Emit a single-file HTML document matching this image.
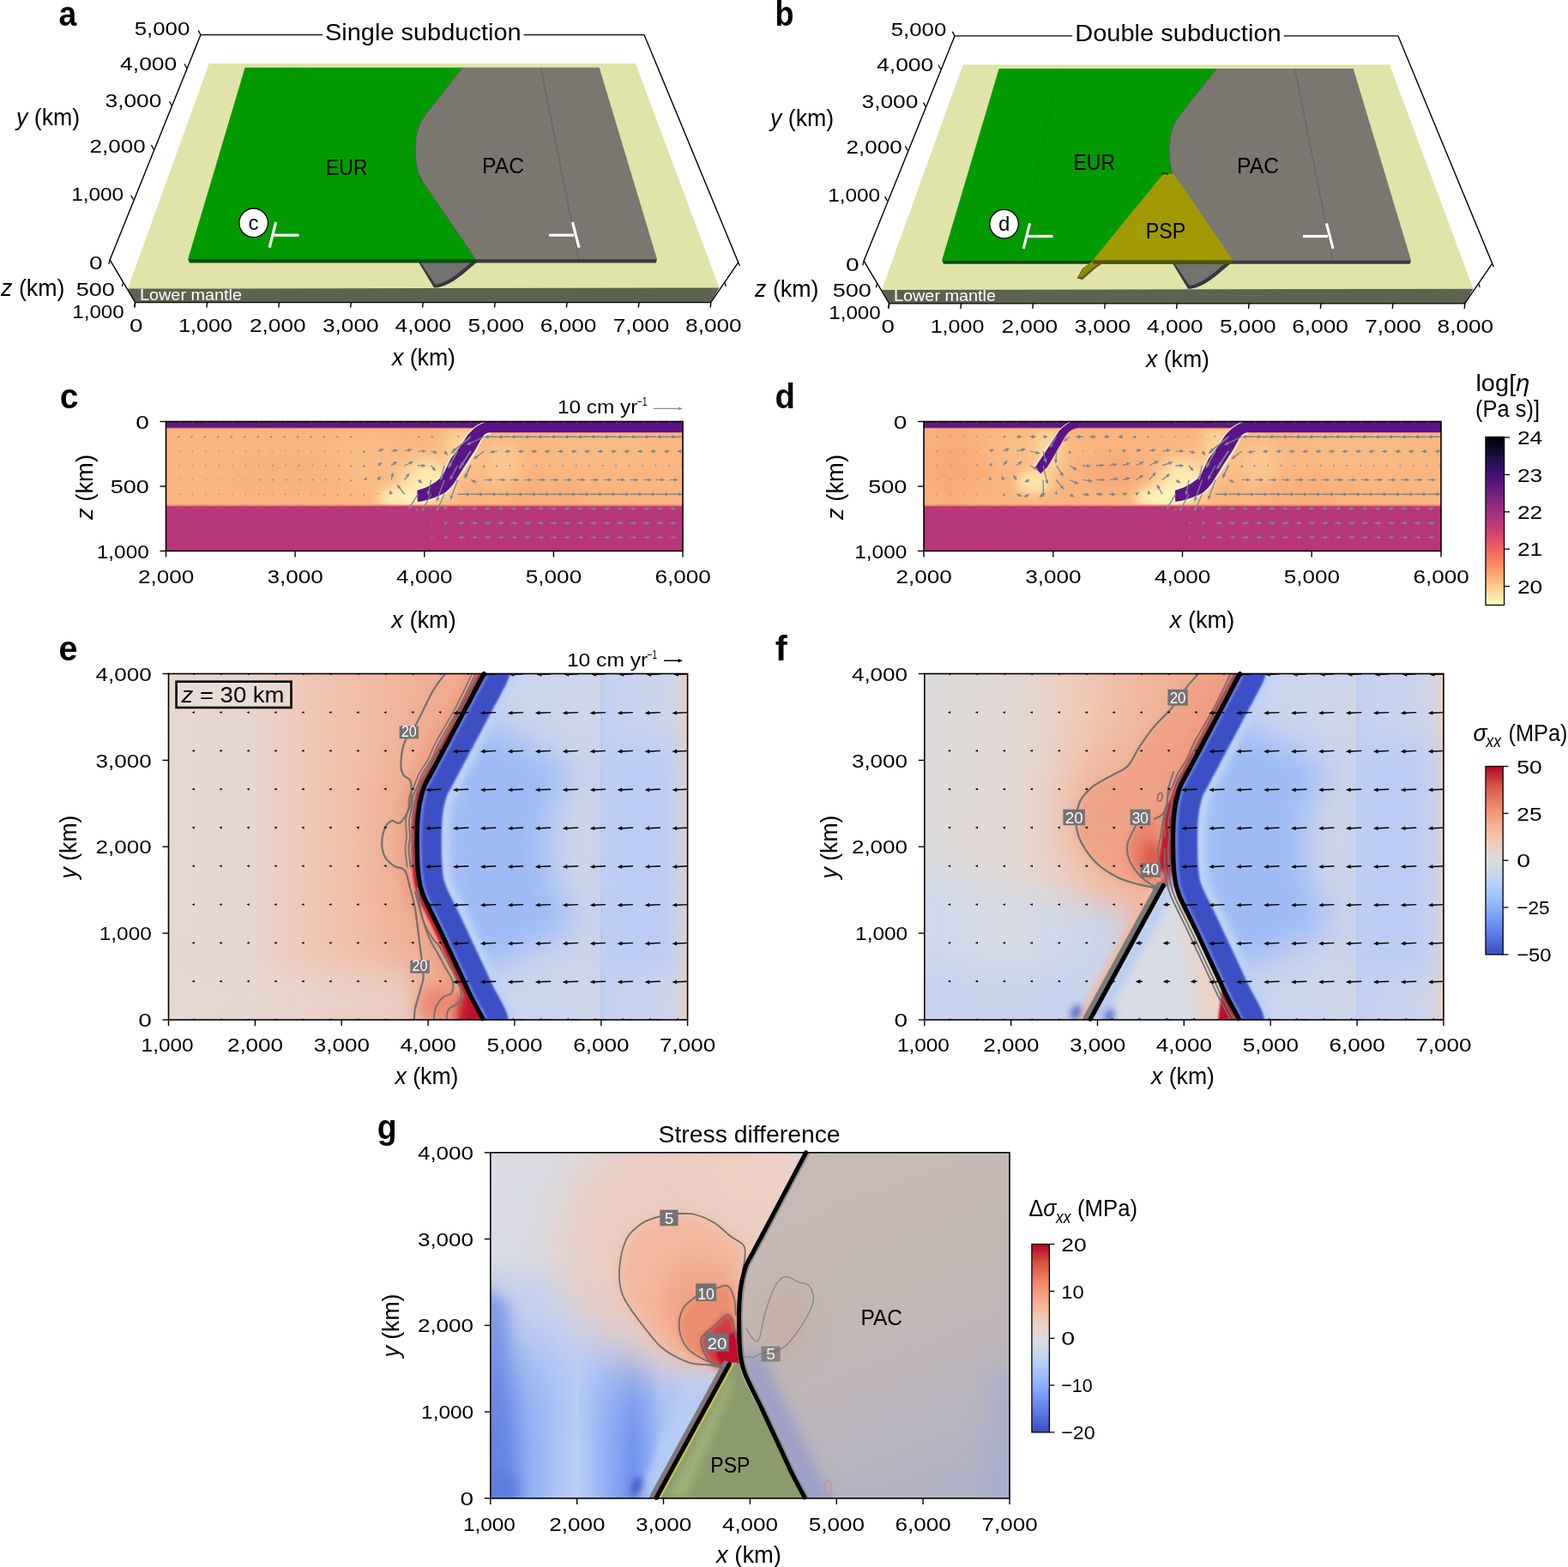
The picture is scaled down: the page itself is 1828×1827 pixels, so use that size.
<!DOCTYPE html>
<html><head><meta charset="utf-8"><title>Subduction figure</title>
<style>html,body{margin:0;padding:0;background:#fff;}svg{display:block;}text{font-family:'Liberation Sans', sans-serif;}</style>
</head><body>
<svg width="1828" height="1827" viewBox="0 0 1828 1827">
<defs>
<filter id="bl2" filterUnits="userSpaceOnUse" x="-100" y="-100" width="2028" height="2027"><feGaussianBlur stdDeviation="2"/></filter>
<filter id="bl3" filterUnits="userSpaceOnUse" x="-100" y="-100" width="2028" height="2027"><feGaussianBlur stdDeviation="3"/></filter>
<filter id="bl6" filterUnits="userSpaceOnUse" x="-100" y="-100" width="2028" height="2027"><feGaussianBlur stdDeviation="6"/></filter>
<filter id="bl10" filterUnits="userSpaceOnUse" x="-100" y="-100" width="2028" height="2027"><feGaussianBlur stdDeviation="10"/></filter>
<filter id="bl1" filterUnits="userSpaceOnUse" x="-100" y="-100" width="2028" height="2027"><feGaussianBlur stdDeviation="1"/></filter>
<filter id="bl16" filterUnits="userSpaceOnUse" x="-100" y="-100" width="2028" height="2027"><feGaussianBlur stdDeviation="16"/></filter>
<clipPath id="clipc"><rect x="193.5" y="491.5" width="602.5" height="150.89999999999998"/></clipPath>
<clipPath id="clipd"><rect x="1077.0" y="491.5" width="603.0" height="150.89999999999998"/></clipPath>
<linearGradient id="magma" x1="0" y1="1" x2="0" y2="0"><stop offset="0" stop-color="#fcfdbf"/><stop offset="0.05" stop-color="#fde7a9"/><stop offset="0.1" stop-color="#fecf92"/><stop offset="0.15" stop-color="#feb77e"/><stop offset="0.2" stop-color="#fe9f6d"/><stop offset="0.3" stop-color="#f7705c"/><stop offset="0.4" stop-color="#de4968"/><stop offset="0.45" stop-color="#ca3e72"/><stop offset="0.5" stop-color="#b73779"/><stop offset="0.6" stop-color="#8c2981"/><stop offset="0.65" stop-color="#782281"/><stop offset="0.7" stop-color="#641a80"/><stop offset="0.75" stop-color="#51127c"/><stop offset="0.8" stop-color="#3b0f70"/><stop offset="0.9" stop-color="#140e36"/><stop offset="1.0" stop-color="#000004"/></linearGradient>
<filter id="bl0" filterUnits="userSpaceOnUse" x="-100" y="-100" width="2028" height="2027"><feGaussianBlur stdDeviation="0.8"/></filter>
<filter id="bl4" filterUnits="userSpaceOnUse" x="-100" y="-100" width="2028" height="2027"><feGaussianBlur stdDeviation="4"/></filter>
<filter id="bl8" filterUnits="userSpaceOnUse" x="-100" y="-100" width="2028" height="2027"><feGaussianBlur stdDeviation="8"/></filter>
<filter id="bl14" filterUnits="userSpaceOnUse" x="-100" y="-100" width="2028" height="2027"><feGaussianBlur stdDeviation="14"/></filter>
<filter id="bl18" filterUnits="userSpaceOnUse" x="-100" y="-100" width="2028" height="2027"><feGaussianBlur stdDeviation="18"/></filter>
<filter id="bl24" filterUnits="userSpaceOnUse" x="-100" y="-100" width="2028" height="2027"><feGaussianBlur stdDeviation="24"/></filter>
<linearGradient id="gER" gradientUnits="userSpaceOnUse" x1="480" y1="0" x2="805" y2="0"><stop offset="0.0000" stop-color="#ccd6ee"/><stop offset="0.2462" stop-color="#cad5ee"/><stop offset="0.5231" stop-color="#ccd6ec"/><stop offset="0.6662" stop-color="#cfd6e8"/><stop offset="0.6754" stop-color="#d4d7e4"/><stop offset="0.6785" stop-color="#b8cbf4"/><stop offset="0.6862" stop-color="#c2d0f0"/><stop offset="0.7385" stop-color="#c6d3ef"/><stop offset="0.8923" stop-color="#cbd4ec"/><stop offset="0.9538" stop-color="#d2d5e4"/><stop offset="0.9754" stop-color="#e2d2cc"/><stop offset="0.9908" stop-color="#eccec2"/></linearGradient>
<linearGradient id="gFR" gradientUnits="userSpaceOnUse" x1="1361.3" y1="0" x2="1686.3" y2="0"><stop offset="0.0000" stop-color="#ccd6ee"/><stop offset="0.2462" stop-color="#cad5ee"/><stop offset="0.5231" stop-color="#ccd6ec"/><stop offset="0.6662" stop-color="#cfd6e8"/><stop offset="0.6754" stop-color="#d4d7e4"/><stop offset="0.6785" stop-color="#b8cbf4"/><stop offset="0.6862" stop-color="#c2d0f0"/><stop offset="0.7385" stop-color="#c6d3ef"/><stop offset="0.8923" stop-color="#cbd4ec"/><stop offset="0.9538" stop-color="#d2d5e4"/><stop offset="0.9754" stop-color="#e2d2cc"/><stop offset="0.9908" stop-color="#eccec2"/></linearGradient>
<linearGradient id="gEL" gradientUnits="userSpaceOnUse" x1="196.5" y1="0" x2="500" y2="0"><stop offset="0.0000" stop-color="#e6d8d2"/><stop offset="0.2092" stop-color="#e7d6cf"/><stop offset="0.3213" stop-color="#e6d6d0"/><stop offset="0.3311" stop-color="#e2d9d6"/><stop offset="0.3410" stop-color="#e8d4cb"/><stop offset="0.4728" stop-color="#edcbbc"/><stop offset="0.6376" stop-color="#f0c2ae"/><stop offset="0.7694" stop-color="#f1bba5"/><stop offset="0.9012" stop-color="#f1b49d"/><stop offset="1.0000" stop-color="#f0ae95"/></linearGradient>
<clipPath id="clipe"><rect x="196.5" y="785.5" width="605.1" height="403.5"/></clipPath>
<clipPath id="eR"><path d="M566.0,780.0 C565.7,780.9 568.0,778.0 564.2,785.5 C560.4,793.0 550.3,811.8 543.3,825.0 C536.3,838.2 527.4,855.0 522.1,865.0 C516.8,875.0 514.7,879.0 511.5,885.0 C508.3,891.0 505.8,895.8 503.0,901.0 C500.2,906.2 497.0,911.3 495.0,916.0 C493.0,920.7 492.1,924.8 491.0,929.0 C489.9,933.2 489.2,936.3 488.5,941.0 C487.8,945.7 487.2,951.3 486.8,957.0 C486.4,962.7 486.3,969.5 486.2,975.0 C486.1,980.5 486.2,984.0 486.3,990.0 C486.4,996.0 486.5,1004.2 487.0,1011.0 C487.5,1017.8 488.4,1025.5 489.5,1031.0 C490.6,1036.5 491.9,1039.8 493.5,1044.0 C495.1,1048.2 495.8,1049.6 498.9,1056.0 C502.0,1062.4 507.8,1073.8 512.0,1082.6 C516.2,1091.4 520.2,1100.0 524.3,1108.8 C528.4,1117.5 532.5,1126.3 536.6,1135.1 C540.7,1143.9 544.4,1152.6 548.8,1161.4 C553.2,1170.2 560.2,1182.1 562.8,1187.7 C565.4,1193.3 564.2,1193.8 564.5,1195.0 L806.6,1195 L806.6,780 Z"/></clipPath>
<clipPath id="eL"><path d="M566.0,780.0 C565.7,780.9 568.0,778.0 564.2,785.5 C560.4,793.0 550.3,811.8 543.3,825.0 C536.3,838.2 527.4,855.0 522.1,865.0 C516.8,875.0 514.7,879.0 511.5,885.0 C508.3,891.0 505.8,895.8 503.0,901.0 C500.2,906.2 497.0,911.3 495.0,916.0 C493.0,920.7 492.1,924.8 491.0,929.0 C489.9,933.2 489.2,936.3 488.5,941.0 C487.8,945.7 487.2,951.3 486.8,957.0 C486.4,962.7 486.3,969.5 486.2,975.0 C486.1,980.5 486.2,984.0 486.3,990.0 C486.4,996.0 486.5,1004.2 487.0,1011.0 C487.5,1017.8 488.4,1025.5 489.5,1031.0 C490.6,1036.5 491.9,1039.8 493.5,1044.0 C495.1,1048.2 495.8,1049.6 498.9,1056.0 C502.0,1062.4 507.8,1073.8 512.0,1082.6 C516.2,1091.4 520.2,1100.0 524.3,1108.8 C528.4,1117.5 532.5,1126.3 536.6,1135.1 C540.7,1143.9 544.4,1152.6 548.8,1161.4 C553.2,1170.2 560.2,1182.1 562.8,1187.7 C565.4,1193.3 564.2,1193.8 564.5,1195.0 L191.5,1195 L191.5,780 Z"/></clipPath>
<clipPath id="clipf"><rect x="1077.8" y="785.5" width="605.1000000000001" height="403.5"/></clipPath>
<clipPath id="fR"><path d="M1447.3,780.0 C1447.0,780.9 1449.3,778.0 1445.5,785.5 C1441.7,793.0 1431.6,811.8 1424.6,825.0 C1417.6,838.2 1408.7,855.0 1403.4,865.0 C1398.1,875.0 1396.0,879.0 1392.8,885.0 C1389.6,891.0 1387.0,895.8 1384.3,901.0 C1381.5,906.2 1378.3,911.3 1376.3,916.0 C1374.3,920.7 1373.4,924.8 1372.3,929.0 C1371.2,933.2 1370.5,936.3 1369.8,941.0 C1369.1,945.7 1368.5,951.3 1368.1,957.0 C1367.7,962.7 1367.6,969.5 1367.5,975.0 C1367.4,980.5 1367.5,984.0 1367.6,990.0 C1367.7,996.0 1367.8,1004.2 1368.3,1011.0 C1368.8,1017.8 1369.7,1025.5 1370.8,1031.0 C1371.9,1036.5 1373.2,1039.8 1374.8,1044.0 C1376.4,1048.2 1377.1,1049.6 1380.2,1056.0 C1383.3,1062.4 1389.1,1073.8 1393.3,1082.6 C1397.5,1091.4 1401.5,1100.0 1405.6,1108.8 C1409.7,1117.5 1413.8,1126.3 1417.9,1135.1 C1422.0,1143.9 1425.7,1152.6 1430.1,1161.4 C1434.5,1170.2 1441.5,1182.1 1444.1,1187.7 C1446.7,1193.3 1445.5,1193.8 1445.8,1195.0 L1687.9,1195 L1687.9,780 Z"/></clipPath>
<clipPath id="fL"><path d="M1447.3,780.0 C1447.0,780.9 1449.3,778.0 1445.5,785.5 C1441.7,793.0 1431.6,811.8 1424.6,825.0 C1417.6,838.2 1408.7,855.0 1403.4,865.0 C1398.1,875.0 1396.0,879.0 1392.8,885.0 C1389.6,891.0 1387.0,895.8 1384.3,901.0 C1381.5,906.2 1378.3,911.3 1376.3,916.0 C1374.3,920.7 1373.4,924.8 1372.3,929.0 C1371.2,933.2 1370.5,936.3 1369.8,941.0 C1369.1,945.7 1368.5,951.3 1368.1,957.0 C1367.7,962.7 1367.6,969.5 1367.5,975.0 C1367.4,980.5 1367.5,984.0 1367.6,990.0 C1367.7,996.0 1367.8,1004.2 1368.3,1011.0 C1368.8,1017.8 1369.7,1025.5 1370.8,1031.0 C1371.9,1036.5 1373.2,1039.8 1374.8,1044.0 C1376.4,1048.2 1377.1,1049.6 1380.2,1056.0 C1383.3,1062.4 1389.1,1073.8 1393.3,1082.6 C1397.5,1091.4 1401.5,1100.0 1405.6,1108.8 C1409.7,1117.5 1413.8,1126.3 1417.9,1135.1 C1422.0,1143.9 1425.7,1152.6 1430.1,1161.4 C1434.5,1170.2 1441.5,1182.1 1444.1,1187.7 C1446.7,1193.3 1445.5,1193.8 1445.8,1195.0 L1072.8,1195 L1072.8,780 Z"/></clipPath>
<linearGradient id="gFL" gradientUnits="userSpaceOnUse" x1="1077.8" y1="0" x2="1380" y2="0"><stop offset="0.0000" stop-color="#dcdadb"/><stop offset="0.1066" stop-color="#dedad8"/><stop offset="0.3382" stop-color="#e2d8d3"/><stop offset="0.4705" stop-color="#e8d2c8"/><stop offset="0.6029" stop-color="#eecab8"/><stop offset="0.7353" stop-color="#f0bea8"/><stop offset="0.8676" stop-color="#f0b59c"/><stop offset="1.0000" stop-color="#efad94"/></linearGradient>
<linearGradient id="gFLb" gradientUnits="userSpaceOnUse" x1="1077.8" y1="0" x2="1300" y2="0"><stop offset="0.0000" stop-color="#cfd8ec"/><stop offset="0.2349" stop-color="#d4dae8"/><stop offset="0.4599" stop-color="#d8dbe4"/><stop offset="0.6850" stop-color="#d0d8ea"/><stop offset="1.0000" stop-color="#c8d4ee"/></linearGradient>
<linearGradient id="cw" x1="0" y1="1" x2="0" y2="0"><stop offset="0.0" stop-color="#3b4cc0"/><stop offset="0.1" stop-color="#5977e3"/><stop offset="0.2" stop-color="#7b9ff9"/><stop offset="0.3" stop-color="#9ebeff"/><stop offset="0.4" stop-color="#c0d4f5"/><stop offset="0.5" stop-color="#dddcdc"/><stop offset="0.6" stop-color="#f2cbb7"/><stop offset="0.7" stop-color="#f7ac8e"/><stop offset="0.8" stop-color="#ee8468"/><stop offset="0.9" stop-color="#d65244"/><stop offset="1.0" stop-color="#b40426"/></linearGradient>
<clipPath id="clipg"><rect x="571.8" y="1343.8" width="605.2" height="403.10000000000014"/></clipPath>
<clipPath id="gR"><path d="M941.3,1338.3 C941.0,1339.2 943.3,1336.3 939.5,1343.8 C935.7,1351.3 925.6,1370.0 918.6,1383.3 C911.6,1396.5 902.7,1413.3 897.4,1423.3 C892.1,1433.3 890.0,1437.3 886.8,1443.3 C883.6,1449.3 881.0,1454.1 878.3,1459.3 C875.5,1464.5 872.3,1469.6 870.3,1474.3 C868.3,1479.0 867.4,1483.1 866.3,1487.3 C865.2,1491.5 864.5,1494.6 863.8,1499.3 C863.1,1504.0 862.5,1509.6 862.1,1515.3 C861.7,1521.0 861.6,1527.8 861.5,1533.3 C861.4,1538.8 861.5,1542.3 861.6,1548.3 C861.7,1554.3 861.8,1562.5 862.3,1569.3 C862.8,1576.1 863.7,1583.8 864.8,1589.3 C865.9,1594.8 867.2,1598.1 868.8,1602.3 C870.4,1606.5 871.1,1607.9 874.2,1614.3 C877.3,1620.7 883.1,1632.1 887.3,1640.9 C891.5,1649.7 895.5,1658.3 899.6,1667.1 C903.7,1675.8 907.8,1684.6 911.9,1693.4 C916.0,1702.2 919.7,1710.9 924.1,1719.7 C928.5,1728.5 935.5,1740.4 938.1,1746.0 C940.7,1751.6 939.5,1752.1 939.8,1753.3 L1182.0,1753.3 L1182.0,1338.3 Z"/></clipPath>
<clipPath id="gL"><path d="M941.3,1338.3 C941.0,1339.2 943.3,1336.3 939.5,1343.8 C935.7,1351.3 925.6,1370.0 918.6,1383.3 C911.6,1396.5 902.7,1413.3 897.4,1423.3 C892.1,1433.3 890.0,1437.3 886.8,1443.3 C883.6,1449.3 881.0,1454.1 878.3,1459.3 C875.5,1464.5 872.3,1469.6 870.3,1474.3 C868.3,1479.0 867.4,1483.1 866.3,1487.3 C865.2,1491.5 864.5,1494.6 863.8,1499.3 C863.1,1504.0 862.5,1509.6 862.1,1515.3 C861.7,1521.0 861.6,1527.8 861.5,1533.3 C861.4,1538.8 861.5,1542.3 861.6,1548.3 C861.7,1554.3 861.8,1562.5 862.3,1569.3 C862.8,1576.1 863.7,1583.8 864.8,1589.3 C865.9,1594.8 867.2,1598.1 868.8,1602.3 C870.4,1606.5 871.1,1607.9 874.2,1614.3 C877.3,1620.7 883.1,1632.1 887.3,1640.9 C891.5,1649.7 895.5,1658.3 899.6,1667.1 C903.7,1675.8 907.8,1684.6 911.9,1693.4 C916.0,1702.2 919.7,1710.9 924.1,1719.7 C928.5,1728.5 935.5,1740.4 938.1,1746.0 C940.7,1751.6 939.5,1752.1 939.8,1753.3 L566.8,1753.3 L566.8,1338.3 Z"/></clipPath>
<linearGradient id="gGv" gradientUnits="userSpaceOnUse" x1="0" y1="1343.8" x2="0" y2="1746.9"><stop offset="0.0000" stop-color="#d9dce6"/><stop offset="0.2387" stop-color="#d8dbe6"/><stop offset="0.4619" stop-color="#ccd6ee"/><stop offset="0.6356" stop-color="#b4c8f4"/><stop offset="0.8340" stop-color="#98b2f2"/><stop offset="1.0000" stop-color="#8aa6f0"/></linearGradient>
<linearGradient id="gGh" gradientUnits="userSpaceOnUse" x1="571.8" y1="0" x2="900" y2="0"><stop offset="0.0000" stop-color="#ffffff"/><stop offset="0.1469" stop-color="#ffffff"/><stop offset="0.2078" stop-color="#000000"/><stop offset="0.3906" stop-color="#000000"/><stop offset="1.0000" stop-color="#000000"/></linearGradient>
<linearGradient id="gPAC" gradientUnits="userSpaceOnUse" x1="900" y1="1344" x2="1060" y2="1760"><stop offset="0" stop-color="#c8bab5"/><stop offset="0.45" stop-color="#c4b8b4"/><stop offset="0.8" stop-color="#bab6c0"/><stop offset="1" stop-color="#b0b2c6"/></linearGradient>
<linearGradient id="gGbh" gradientUnits="userSpaceOnUse" x1="571.8" y1="0" x2="800" y2="0"><stop offset="0.0000" stop-color="#5270da"/><stop offset="0.0885" stop-color="#6c8ce8"/><stop offset="0.2112" stop-color="#95b0f4"/><stop offset="0.3427" stop-color="#aec4f6"/><stop offset="0.4391" stop-color="#bccff4"/><stop offset="0.5180" stop-color="#a8c0f6"/><stop offset="0.6275" stop-color="#8aa6f2"/><stop offset="0.7283" stop-color="#7090ec"/><stop offset="0.8028" stop-color="#86a4f0"/><stop offset="0.8685" stop-color="#a8c0f4"/><stop offset="1.0000" stop-color="#b8ccf4"/></linearGradient>
<linearGradient id="gGfade" gradientUnits="userSpaceOnUse" x1="0" y1="1470" x2="0" y2="1747"><stop offset="0.0000" stop-color="#000000"/><stop offset="0.3249" stop-color="#444444"/><stop offset="0.5415" stop-color="#a0a0a0"/><stop offset="0.7581" stop-color="#e6e6e6"/><stop offset="1.0000" stop-color="#ffffff"/></linearGradient>
<mask id="mGb" maskUnits="userSpaceOnUse" x="560" y="1400" width="300" height="360"><rect x="560" y="1400" width="300" height="360" fill="url(#gGfade)"/></mask>
</defs>
<rect width="1828" height="1827" fill="#fff"/>
<polygon points="243.7,74.1 741.0,74.1 838.5,335.4 148.9,336.8" fill="#e0e4a9"/>
<polygon points="148.9,336.6 838.5,335.4 828.7,352.6 157.6,352.6" fill="#5c6350"/>
<path d="M487.5,305.0 L557.0,305.0 C548.0,312.0 538.0,322.0 528.0,328.0 C520.0,333.0 512.0,335.5 506.0,335.5 Z" fill="#37373d"/>
<path d="M490.0,305.5 L550.0,305.5 C542.0,312.0 533.0,320.0 524.0,325.5 C517.0,329.5 511.0,331.5 507.5,331.8 Z" fill="#727270"/>
<polygon points="219.1,302.0 556.0,302.0 556.0,306.4 221.0,306.4" fill="#0b4f0b"/>
<polygon points="554.0,302.0 766.0,302.0 764.7,306.4 556.0,306.4" fill="#3a3a40"/>
<polygon points="285.6,78.8 539.4,78.8 495.6,134.3 489.4,144.0 485.4,158.0 484.2,172.0 484.6,186.3 487.4,200.7 493.0,211.8 497.0,217.8 554.5,302.2 219.1,302.2" fill="#029a02"/>
<polygon points="539.4,78.8 698.7,78.8 766.0,302.2 554.5,302.2 497.0,217.8 493.0,211.8 487.4,200.7 484.6,186.3 484.2,172.0 485.4,158.0 489.4,144.0 495.6,134.3 539.4,78.8" fill="#7a7771"/>
<path d="M539.4,78.8 L495.6,134.3 L489.4,144.0 L485.4,158.0 L484.2,172.0 L484.6,186.3 L487.4,200.7 L493.0,211.8 L497.0,217.8 L554.5,302.2" fill="none" stroke="#4d4c48" stroke-width="0.8"/>
<line x1="354.6" y1="78.8" x2="309.8" y2="302.0" stroke="#07880a" stroke-width="0.6"/>
<line x1="630.5" y1="78.8" x2="675.0" y2="302.0" stroke="#5f5c58" stroke-width="0.8"/>
<line x1="321.6" y1="259.0" x2="314.2" y2="288.6" stroke="#fff" stroke-width="3.2"/>
<line x1="319.5" y1="274.2" x2="348.5" y2="274.2" stroke="#fff" stroke-width="3.2"/>
<line x1="640.0" y1="274.2" x2="669.0" y2="274.2" stroke="#fff" stroke-width="3.2"/>
<line x1="667.4" y1="259.0" x2="675.0" y2="288.6" stroke="#fff" stroke-width="3.2"/>
<circle cx="295.6" cy="259.8" r="16.8" fill="#fff" stroke="#000" stroke-width="1.3"/>
<text x="295.6" y="268.0" font-size="24" text-anchor="middle">c</text>
<text x="380.0" y="204.2" font-size="25" textLength="48.5" lengthAdjust="spacingAndGlyphs">EUR</text>
<text x="562.0" y="202.2" font-size="25" textLength="49.0" lengthAdjust="spacingAndGlyphs">PAC</text>
<line x1="234.0" y1="40.6" x2="376.0" y2="40.6" stroke="#000" stroke-width="1.4"/>
<line x1="610.6" y1="40.6" x2="751.0" y2="40.6" stroke="#000" stroke-width="1.4"/>
<path d="M751.0,40.6 L860.7,305.9 L828.7,352.6 L157.6,352.6 L128.1,302.9 L234.0,40.6" fill="none" stroke="#000" stroke-width="1.4" stroke-linejoin="miter"/>
<line x1="157.6" y1="352.6" x2="157.0" y2="358.6" stroke="#000" stroke-width="1.4"/>
<line x1="241.5" y1="352.6" x2="240.9" y2="358.6" stroke="#000" stroke-width="1.4"/>
<line x1="325.4" y1="352.6" x2="324.8" y2="358.6" stroke="#000" stroke-width="1.4"/>
<line x1="409.3" y1="352.6" x2="408.7" y2="358.6" stroke="#000" stroke-width="1.4"/>
<line x1="493.2" y1="352.6" x2="492.6" y2="358.6" stroke="#000" stroke-width="1.4"/>
<line x1="577.1" y1="352.6" x2="576.5" y2="358.6" stroke="#000" stroke-width="1.4"/>
<line x1="661.0" y1="352.6" x2="660.4" y2="358.6" stroke="#000" stroke-width="1.4"/>
<line x1="744.9" y1="352.6" x2="744.3" y2="358.6" stroke="#000" stroke-width="1.4"/>
<line x1="828.8" y1="352.6" x2="828.2" y2="358.6" stroke="#000" stroke-width="1.4"/>
<line x1="234.0" y1="40.6" x2="231.2" y2="35.6" stroke="#000" stroke-width="1.3"/>
<line x1="217.8" y1="79.5" x2="215.0" y2="74.5" stroke="#000" stroke-width="1.3"/>
<line x1="200.3" y1="123.3" x2="197.5" y2="118.3" stroke="#000" stroke-width="1.3"/>
<line x1="179.2" y1="174.1" x2="176.4" y2="169.1" stroke="#000" stroke-width="1.3"/>
<line x1="155.4" y1="232.8" x2="152.6" y2="227.8" stroke="#000" stroke-width="1.3"/>
<line x1="128.1" y1="302.9" x2="126.8" y2="308.0" stroke="#000" stroke-width="1.3"/>
<line x1="143.9" y1="329.0" x2="142.3" y2="334.0" stroke="#000" stroke-width="1.3"/>
<line x1="157.6" y1="352.6" x2="156.4" y2="357.8" stroke="#000" stroke-width="1.3"/>
<line x1="860.7" y1="305.9" x2="862.5" y2="310.0" stroke="#000" stroke-width="1.3"/>
<line x1="844.7" y1="329.3" x2="846.3" y2="333.8" stroke="#000" stroke-width="1.3"/>
<text x="379.0" y="46.8" font-size="27" textLength="228.6" lengthAdjust="spacingAndGlyphs">Single subduction</text>
<text x="156.7" y="41.0" font-size="22.6" textLength="64.6" lengthAdjust="spacingAndGlyphs">5,000</text>
<text x="140.1" y="81.7" font-size="22.6" textLength="66.2" lengthAdjust="spacingAndGlyphs">4,000</text>
<text x="122.5" y="124.6" font-size="22.6" textLength="65.9" lengthAdjust="spacingAndGlyphs">3,000</text>
<text x="104.6" y="177.6" font-size="22.6" textLength="65.0" lengthAdjust="spacingAndGlyphs">2,000</text>
<text x="83.2" y="234.0" font-size="22.6" textLength="61.0" lengthAdjust="spacingAndGlyphs">1,000</text>
<text x="103.9" y="314.4" font-size="22.6" textLength="15.6" lengthAdjust="spacingAndGlyphs">0</text>
<text x="88.7" y="344.5" font-size="22.6" textLength="45.1" lengthAdjust="spacingAndGlyphs">500</text>
<text x="84.3" y="370.8" font-size="22.6" textLength="60.4" lengthAdjust="spacingAndGlyphs">1,000</text>
<text x="151.1" y="386.8" font-size="22.6" textLength="15.4" lengthAdjust="spacingAndGlyphs">0</text>
<text x="208.2" y="386.8" font-size="22.6" textLength="62.7" lengthAdjust="spacingAndGlyphs">1,000</text>
<text x="291.0" y="386.8" font-size="22.6" textLength="65.6" lengthAdjust="spacingAndGlyphs">2,000</text>
<text x="376.0" y="386.8" font-size="22.6" textLength="65.6" lengthAdjust="spacingAndGlyphs">3,000</text>
<text x="460.6" y="386.8" font-size="22.6" textLength="65.6" lengthAdjust="spacingAndGlyphs">4,000</text>
<text x="545.5" y="386.8" font-size="22.6" textLength="65.6" lengthAdjust="spacingAndGlyphs">5,000</text>
<text x="629.8" y="386.8" font-size="22.6" textLength="65.6" lengthAdjust="spacingAndGlyphs">6,000</text>
<text x="714.8" y="386.8" font-size="22.6" textLength="65.6" lengthAdjust="spacingAndGlyphs">7,000</text>
<text x="799.1" y="386.8" font-size="22.6" textLength="65.6" lengthAdjust="spacingAndGlyphs">8,000</text>
<text x="19.0" y="145.6" font-size="27.5" textLength="74.2" lengthAdjust="spacingAndGlyphs"><tspan font-style="italic">y</tspan> (km)</text>
<text x="1.1" y="344.8" font-size="27.5" textLength="74.4" lengthAdjust="spacingAndGlyphs"><tspan font-style="italic">z</tspan> (km)</text>
<text x="457.0" y="426.2" font-size="27.5" textLength="74.0" lengthAdjust="spacingAndGlyphs"><tspan font-style="italic">x</tspan> (km)</text>
<text x="163.0" y="349.5" font-size="17.5" textLength="119.0" lengthAdjust="spacingAndGlyphs" fill="#ffffff">Lower mantle</text>
<text x="68.6" y="29.8" font-size="41" textLength="20.8" lengthAdjust="spacingAndGlyphs" font-weight="bold">a</text>
<polygon points="1122.7,75.4 1620.0,75.4 1717.5,336.7 1027.9,338.1" fill="#e0e4a9"/>
<polygon points="1027.9,337.9 1717.5,336.7 1707.7,353.9 1036.6,353.9" fill="#5c6350"/>
<path d="M1366.5,306.3 L1436.0,306.3 C1427.0,313.3 1417.0,323.3 1407.0,329.3 C1399.0,334.3 1391.0,336.8 1385.0,336.8 Z" fill="#37373d"/>
<path d="M1369.0,306.8 L1429.0,306.8 C1421.0,313.3 1412.0,321.3 1403.0,326.8 C1396.0,330.8 1390.0,332.8 1386.5,333.1 Z" fill="#727270"/>
<polygon points="1098.1,303.3 1435.0,303.3 1435.0,307.7 1100.0,307.7" fill="#0b4f0b"/>
<polygon points="1433.0,303.3 1645.0,303.3 1643.7,307.7 1435.0,307.7" fill="#3a3a40"/>
<polygon points="1164.6,80.1 1418.4,80.1 1374.6,135.6 1368.4,145.3 1364.4,159.3 1363.2,173.3 1363.6,187.6 1366.4,202.0 1372.0,213.1 1376.0,219.1 1433.5,303.5 1098.1,303.5" fill="#029a02"/>
<polygon points="1418.4,80.1 1577.7,80.1 1645.0,303.5 1433.5,303.5 1376.0,219.1 1372.0,213.1 1366.4,202.0 1363.6,187.6 1363.2,173.3 1364.4,159.3 1368.4,145.3 1374.6,135.6 1418.4,80.1" fill="#7a7771"/>
<path d="M1418.4,80.1 L1374.6,135.6 L1368.4,145.3 L1364.4,159.3 L1363.2,173.3 L1363.6,187.6 L1366.4,202.0 L1372.0,213.1 L1376.0,219.1 L1433.5,303.5" fill="none" stroke="#4d4c48" stroke-width="0.8"/>
<line x1="1233.6" y1="80.1" x2="1188.8" y2="303.3" stroke="#07880a" stroke-width="0.6"/>
<line x1="1509.5" y1="80.1" x2="1554.0" y2="303.3" stroke="#5f5c58" stroke-width="0.8"/>
<polygon points="1273.9,304.0 1290.0,304.0 1278.0,312.0 1262.0,326.0 1255.5,324.5 1262.0,313.0" fill="#5a5a10"/>
<polygon points="1274.5,303.5 1287.0,303.5 1276.0,311.0 1261.0,323.5 1257.5,322.5 1264.0,312.0" fill="#8f8a08"/>
<polygon points="1356.3,202.7 1368.3,202.7 1437.5,303.4 1273.9,303.4" fill="#a09b05"/>
<polygon points="1273.9,303.4 1437.5,303.4 1437.5,307.7 1275.0,307.7" fill="#54520f"/>
<path d="M1354,203.5 q4,-3 8,0" stroke="#1d3a1d" stroke-width="2" fill="none"/>
<line x1="1200.6" y1="260.3" x2="1193.2" y2="289.9" stroke="#fff" stroke-width="3.2"/>
<line x1="1198.5" y1="275.5" x2="1227.5" y2="275.5" stroke="#fff" stroke-width="3.2"/>
<line x1="1519.0" y1="275.5" x2="1548.0" y2="275.5" stroke="#fff" stroke-width="3.2"/>
<line x1="1546.4" y1="260.3" x2="1554.0" y2="289.9" stroke="#fff" stroke-width="3.2"/>
<circle cx="1170.6" cy="261.1" r="16.8" fill="#fff" stroke="#000" stroke-width="1.3"/>
<text x="1170.6" y="269.3" font-size="24" text-anchor="middle">d</text>
<text x="1251.5" y="197.5" font-size="25" textLength="48.5" lengthAdjust="spacingAndGlyphs">EUR</text>
<text x="1442.0" y="202.0" font-size="25" textLength="49.0" lengthAdjust="spacingAndGlyphs">PAC</text>
<text x="1335.7" y="278.3" font-size="25" textLength="46.5" lengthAdjust="spacingAndGlyphs">PSP</text>
<line x1="1113.0" y1="41.9" x2="1250.2" y2="41.9" stroke="#000" stroke-width="1.4"/>
<line x1="1496.7" y1="41.9" x2="1630.0" y2="41.9" stroke="#000" stroke-width="1.4"/>
<path d="M1630.0,41.9 L1739.7,307.2 L1707.7,353.9 L1036.6,353.9 L1007.1,304.2 L1113.0,41.9" fill="none" stroke="#000" stroke-width="1.4" stroke-linejoin="miter"/>
<line x1="1036.6" y1="353.9" x2="1036.0" y2="359.9" stroke="#000" stroke-width="1.4"/>
<line x1="1120.5" y1="353.9" x2="1119.9" y2="359.9" stroke="#000" stroke-width="1.4"/>
<line x1="1204.4" y1="353.9" x2="1203.8" y2="359.9" stroke="#000" stroke-width="1.4"/>
<line x1="1288.3" y1="353.9" x2="1287.7" y2="359.9" stroke="#000" stroke-width="1.4"/>
<line x1="1372.2" y1="353.9" x2="1371.6" y2="359.9" stroke="#000" stroke-width="1.4"/>
<line x1="1456.1" y1="353.9" x2="1455.5" y2="359.9" stroke="#000" stroke-width="1.4"/>
<line x1="1540.0" y1="353.9" x2="1539.4" y2="359.9" stroke="#000" stroke-width="1.4"/>
<line x1="1623.9" y1="353.9" x2="1623.3" y2="359.9" stroke="#000" stroke-width="1.4"/>
<line x1="1707.8" y1="353.9" x2="1707.2" y2="359.9" stroke="#000" stroke-width="1.4"/>
<line x1="1113.0" y1="41.9" x2="1110.2" y2="36.9" stroke="#000" stroke-width="1.3"/>
<line x1="1096.8" y1="80.8" x2="1094.0" y2="75.8" stroke="#000" stroke-width="1.3"/>
<line x1="1079.3" y1="124.6" x2="1076.5" y2="119.6" stroke="#000" stroke-width="1.3"/>
<line x1="1058.2" y1="175.4" x2="1055.4" y2="170.4" stroke="#000" stroke-width="1.3"/>
<line x1="1034.4" y1="234.1" x2="1031.6" y2="229.1" stroke="#000" stroke-width="1.3"/>
<line x1="1007.1" y1="304.2" x2="1005.8" y2="309.3" stroke="#000" stroke-width="1.3"/>
<line x1="1022.9" y1="330.3" x2="1021.3" y2="335.3" stroke="#000" stroke-width="1.3"/>
<line x1="1036.6" y1="353.9" x2="1035.4" y2="359.1" stroke="#000" stroke-width="1.3"/>
<line x1="1739.7" y1="307.2" x2="1741.5" y2="311.3" stroke="#000" stroke-width="1.3"/>
<line x1="1723.7" y1="330.6" x2="1725.3" y2="335.1" stroke="#000" stroke-width="1.3"/>
<text x="1253.2" y="48.1" font-size="27" textLength="240.5" lengthAdjust="spacingAndGlyphs">Double subduction</text>
<text x="1038.7" y="42.3" font-size="22.6" textLength="64.6" lengthAdjust="spacingAndGlyphs">5,000</text>
<text x="1022.1" y="83.0" font-size="22.6" textLength="66.2" lengthAdjust="spacingAndGlyphs">4,000</text>
<text x="1004.5" y="125.9" font-size="22.6" textLength="65.9" lengthAdjust="spacingAndGlyphs">3,000</text>
<text x="986.6" y="178.9" font-size="22.6" textLength="65.0" lengthAdjust="spacingAndGlyphs">2,000</text>
<text x="965.2" y="235.3" font-size="22.6" textLength="61.0" lengthAdjust="spacingAndGlyphs">1,000</text>
<text x="985.9" y="315.7" font-size="22.6" textLength="15.6" lengthAdjust="spacingAndGlyphs">0</text>
<text x="970.7" y="345.8" font-size="22.6" textLength="45.1" lengthAdjust="spacingAndGlyphs">500</text>
<text x="966.3" y="372.1" font-size="22.6" textLength="60.4" lengthAdjust="spacingAndGlyphs">1,000</text>
<text x="1027.6" y="388.1" font-size="22.6" textLength="15.4" lengthAdjust="spacingAndGlyphs">0</text>
<text x="1084.7" y="388.1" font-size="22.6" textLength="62.7" lengthAdjust="spacingAndGlyphs">1,000</text>
<text x="1167.5" y="388.1" font-size="22.6" textLength="65.6" lengthAdjust="spacingAndGlyphs">2,000</text>
<text x="1252.5" y="388.1" font-size="22.6" textLength="65.6" lengthAdjust="spacingAndGlyphs">3,000</text>
<text x="1337.1" y="388.1" font-size="22.6" textLength="65.6" lengthAdjust="spacingAndGlyphs">4,000</text>
<text x="1422.0" y="388.1" font-size="22.6" textLength="65.6" lengthAdjust="spacingAndGlyphs">5,000</text>
<text x="1506.3" y="388.1" font-size="22.6" textLength="65.6" lengthAdjust="spacingAndGlyphs">6,000</text>
<text x="1591.3" y="388.1" font-size="22.6" textLength="65.6" lengthAdjust="spacingAndGlyphs">7,000</text>
<text x="1675.6" y="388.1" font-size="22.6" textLength="65.6" lengthAdjust="spacingAndGlyphs">8,000</text>
<text x="898.0" y="146.9" font-size="27.5" textLength="74.2" lengthAdjust="spacingAndGlyphs"><tspan font-style="italic">y</tspan> (km)</text>
<text x="880.1" y="346.1" font-size="27.5" textLength="74.4" lengthAdjust="spacingAndGlyphs"><tspan font-style="italic">z</tspan> (km)</text>
<text x="1336.0" y="427.5" font-size="27.5" textLength="74.0" lengthAdjust="spacingAndGlyphs"><tspan font-style="italic">x</tspan> (km)</text>
<text x="1042.0" y="350.8" font-size="17.5" textLength="119.0" lengthAdjust="spacingAndGlyphs" fill="#ffffff">Lower mantle</text>
<text x="903.4" y="29.8" font-size="41" textLength="22.0" lengthAdjust="spacingAndGlyphs" font-weight="bold">b</text>
<g clip-path="url(#clipc)">
<rect x="193.5" y="491.5" width="602.5" height="150.89999999999998" fill="#f9b57f"/>
<ellipse cx="497" cy="562" rx="30" ry="26" fill="#fdf0b5" opacity="0.95" filter="url(#bl10)"/>
<ellipse cx="470" cy="580" rx="30" ry="14" fill="#fef6bf" opacity="0.9" filter="url(#bl6)"/>
<ellipse cx="535" cy="525" rx="14" ry="30" fill="#fde2a4" opacity="0.85" filter="url(#bl10)"/>
<ellipse cx="585" cy="540" rx="22" ry="30" fill="#fbd39a" opacity="0.6" filter="url(#bl10)"/>
<ellipse cx="640" cy="575" rx="60" ry="12" fill="#f6aa78" opacity="0.6" filter="url(#bl10)"/>
<ellipse cx="330" cy="555" rx="80" ry="20" fill="#f7ac7a" opacity="0.6" filter="url(#bl16)"/>
<ellipse cx="430" cy="540" rx="40" ry="40" fill="#fbc48d" opacity="0.5" filter="url(#bl16)"/>
<ellipse cx="700" cy="525" rx="80" ry="15" fill="#fbc690" opacity="0.4" filter="url(#bl16)"/>
<rect x="193.5" y="491.5" width="602.5" height="7.4" fill="#5d1c79"/>
<rect x="193.5" y="498.9" width="602.5" height="1.3" fill="#ef8a7a" opacity="0.8"/>
<path d="M570,492 C560,494 553,499 546,506 L536,521 L526,534 L516,554 C510,561 500,568 486,571" fill="none" stroke="#fef3c4" stroke-width="3.5" opacity="0.9"/>
<path d="M487,586 C500,584 512,579 518,575 C525,570 531,562 533,558 L543,543 L555,524 L561,512 C565,506 568,505 572,505" fill="none" stroke="#fef3c4" stroke-width="3.5" opacity="0.9"/>
<path d="M800,491.5 L568.5,491.5 C563,493 558,495.5 552.7,499.4 L545.5,506.7 L535.7,521.8 L525.8,534.2 L516,554.6 C511,560 505,564.5 496.3,568.4 L486.4,571.7 L486.7,585.1 C495,584.3 505,581 517.3,575.6 C524,571 530,563 532.4,558.5 L542.2,542.8 L554,524.4 L560.6,512.6 C563,508 566,504.5 571,504.2 L800,504.2 Z" fill="#5b1488"/>
<rect x="193.5" y="589.8" width="602.5" height="53.60000000000002" fill="#b8367a"/>
<rect x="193.5" y="588.4" width="602.5" height="1.8" fill="#ee7c76" opacity="0.9"/>
</g>
<g clip-path="url(#clipd)">
<rect x="1077.0" y="491.5" width="603.0" height="150.89999999999998" fill="#f9b57f"/>
<ellipse cx="1222" cy="525" rx="16" ry="28" fill="#fde3a5" opacity="0.9" filter="url(#bl10)"/>
<ellipse cx="1205" cy="562" rx="20" ry="14" fill="#fdeaae" opacity="0.9" filter="url(#bl6)"/>
<ellipse cx="1380" cy="562" rx="30" ry="26" fill="#fdf0b5" opacity="0.95" filter="url(#bl10)"/>
<ellipse cx="1353" cy="580" rx="30" ry="14" fill="#fef6bf" opacity="0.9" filter="url(#bl6)"/>
<ellipse cx="1418" cy="525" rx="14" ry="30" fill="#fde2a4" opacity="0.85" filter="url(#bl10)"/>
<ellipse cx="1468" cy="540" rx="22" ry="30" fill="#fbd39a" opacity="0.6" filter="url(#bl10)"/>
<ellipse cx="1523" cy="575" rx="60" ry="12" fill="#f6aa78" opacity="0.6" filter="url(#bl10)"/>
<ellipse cx="1300" cy="550" rx="35" ry="22" fill="#f6a877" opacity="0.7" filter="url(#bl10)"/>
<ellipse cx="1110" cy="545" rx="35" ry="50" fill="#f6a572" opacity="0.6" filter="url(#bl16)"/>
<ellipse cx="1180" cy="520" rx="25" ry="25" fill="#fbc48d" opacity="0.5" filter="url(#bl10)"/>
<ellipse cx="1583" cy="525" rx="80" ry="15" fill="#fbc690" opacity="0.4" filter="url(#bl16)"/>
<rect x="1077.0" y="491.5" width="603.0" height="7.4" fill="#5d1c79"/>
<rect x="1077.0" y="498.9" width="603.0" height="1.3" fill="#ef8a7a" opacity="0.8"/>
<path d="M 1453.5 492.0 C 1443.5 494.0 1436.5 499.0 1429.5 506.0 L 1419.5 521.0 L 1409.5 534.0 L 1399.5 554.0 C 1393.5 561.0 1383.5 568.0 1369.5 571.0" fill="none" stroke="#fef3c4" stroke-width="3.5" opacity="0.9"/>
<path d="M 1370.5 586.0 C 1383.5 584.0 1395.5 579.0 1401.5 575.0 C 1408.5 570.0 1414.5 562.0 1416.5 558.0 L 1426.5 543.0 L 1438.5 524.0 L 1444.5 512.0 C 1448.5 506.0 1451.5 505.0 1455.5 505.0" fill="none" stroke="#fef3c4" stroke-width="3.5" opacity="0.9"/>
<path d="M1251,492 C1245,494 1240,498 1235,503 L1206,545" fill="none" stroke="#fef3c4" stroke-width="3.5" opacity="0.9"/>
<path d="M 1683.5 491.5 L 1452.0 491.5 C 1446.5 493.0 1441.5 495.5 1436.2 499.4 L 1429.0 506.7 L 1419.2 521.8 L 1409.3 534.2 L 1399.5 554.6 C 1394.5 560.0 1388.5 564.5 1379.8 568.4 L 1369.9 571.7 L 1370.2 585.1 C 1378.5 584.3 1388.5 581.0 1400.8 575.6 C 1407.5 571.0 1413.5 563.0 1415.9 558.5 L 1425.7 542.8 L 1437.5 524.4 L 1444.1 512.6 C 1446.5 508.0 1449.5 504.5 1454.5 504.2 L 1683.5 504.2 Z" fill="#5b1488"/>
<path d="M1250,491.5 C1245,493 1240,497 1235,502 L1206.7,544.9 L1213.2,552.3 L1221.4,544.1 L1239.5,512.9 C1243,507 1246,503 1250,501 C1252,499.8 1254,499.3 1257,499 L1258,491.5 Z" fill="#5b1488"/>
<rect x="1077.0" y="589.8" width="603.0" height="53.60000000000002" fill="#b8367a"/>
<rect x="1077.0" y="588.4" width="603.0" height="1.8" fill="#ee7c76" opacity="0.9"/>
</g>
<g clip-path="url(#clipc)">
<circle cx="209.0" cy="492.5" r="0.75" fill="#7b868f"/>
<circle cx="224.4" cy="492.5" r="0.75" fill="#7b868f"/>
<circle cx="239.9" cy="492.5" r="0.75" fill="#7b868f"/>
<circle cx="255.3" cy="492.5" r="0.75" fill="#7b868f"/>
<circle cx="270.8" cy="492.5" r="0.75" fill="#7b868f"/>
<circle cx="286.2" cy="492.5" r="0.75" fill="#7b868f"/>
<circle cx="301.7" cy="492.5" r="0.75" fill="#7b868f"/>
<circle cx="317.1" cy="492.5" r="0.75" fill="#7b868f"/>
<circle cx="332.6" cy="492.5" r="0.75" fill="#7b868f"/>
<circle cx="348.0" cy="492.5" r="0.75" fill="#7b868f"/>
<circle cx="363.5" cy="492.5" r="0.75" fill="#7b868f"/>
<circle cx="378.9" cy="492.5" r="0.75" fill="#7b868f"/>
<circle cx="394.4" cy="492.5" r="0.75" fill="#7b868f"/>
<circle cx="409.9" cy="492.5" r="0.75" fill="#7b868f"/>
<circle cx="425.3" cy="492.5" r="0.75" fill="#7b868f"/>
<circle cx="440.8" cy="492.5" r="0.75" fill="#7b868f"/>
<circle cx="456.2" cy="492.5" r="0.75" fill="#7b868f"/>
<circle cx="471.6" cy="492.5" r="0.75" fill="#7b868f"/>
<circle cx="487.1" cy="492.5" r="0.75" fill="#7b868f"/>
<circle cx="502.6" cy="492.5" r="0.75" fill="#7b868f"/>
<circle cx="518.0" cy="492.5" r="0.75" fill="#7b868f"/>
<circle cx="533.5" cy="492.5" r="0.75" fill="#7b868f"/>
<circle cx="548.9" cy="492.5" r="0.75" fill="#7b868f"/>
<circle cx="564.3" cy="492.5" r="0.75" fill="#7b868f"/>
<circle cx="579.8" cy="492.5" r="0.75" fill="#7b868f"/>
<circle cx="595.2" cy="492.5" r="0.75" fill="#7b868f"/>
<circle cx="610.7" cy="492.5" r="0.75" fill="#7b868f"/>
<circle cx="626.1" cy="492.5" r="0.75" fill="#7b868f"/>
<circle cx="641.6" cy="492.5" r="0.75" fill="#7b868f"/>
<circle cx="657.0" cy="492.5" r="0.75" fill="#7b868f"/>
<circle cx="672.5" cy="492.5" r="0.75" fill="#7b868f"/>
<circle cx="688.0" cy="492.5" r="0.75" fill="#7b868f"/>
<circle cx="703.4" cy="492.5" r="0.75" fill="#7b868f"/>
<circle cx="718.8" cy="492.5" r="0.75" fill="#7b868f"/>
<circle cx="734.3" cy="492.5" r="0.75" fill="#7b868f"/>
<circle cx="749.8" cy="492.5" r="0.75" fill="#7b868f"/>
<circle cx="765.2" cy="492.5" r="0.75" fill="#7b868f"/>
<circle cx="780.6" cy="492.5" r="0.75" fill="#7b868f"/>
<circle cx="796.1" cy="492.5" r="0.75" fill="#7b868f"/>
<polygon points="209.0,508.9 209.0,508.9 209.0,508.0 206.0,509.2 209.0,510.5 209.0,509.6 209.0,509.6" fill="#7b868f"/>
<polygon points="224.4,508.9 224.4,508.9 224.4,508.0 221.4,509.2 224.4,510.5 224.4,509.6 224.4,509.6" fill="#7b868f"/>
<polygon points="239.9,508.9 239.9,508.9 239.9,508.0 236.9,509.2 239.9,510.5 239.9,509.6 239.9,509.6" fill="#7b868f"/>
<polygon points="255.3,508.9 255.3,508.9 255.3,508.0 252.3,509.2 255.3,510.5 255.3,509.6 255.3,509.6" fill="#7b868f"/>
<polygon points="270.8,508.9 270.8,508.9 270.8,508.0 267.8,509.2 270.8,510.5 270.8,509.6 270.8,509.6" fill="#7b868f"/>
<polygon points="286.2,508.9 286.2,508.9 286.2,508.0 283.2,509.2 286.2,510.5 286.2,509.6 286.2,509.6" fill="#7b868f"/>
<polygon points="301.7,508.9 301.7,508.9 301.7,508.0 298.7,509.2 301.7,510.5 301.7,509.6 301.7,509.6" fill="#7b868f"/>
<polygon points="317.1,508.9 317.1,508.9 317.1,508.0 314.1,509.2 317.1,510.5 317.1,509.6 317.1,509.6" fill="#7b868f"/>
<polygon points="332.6,508.9 332.6,508.9 332.6,508.0 329.6,509.2 332.6,510.5 332.6,509.6 332.6,509.6" fill="#7b868f"/>
<polygon points="348.0,508.9 348.0,508.9 348.0,508.0 345.0,509.2 348.0,510.5 348.0,509.6 348.0,509.6" fill="#7b868f"/>
<polygon points="363.5,508.9 363.5,508.9 363.5,508.0 360.5,509.2 363.5,510.5 363.5,509.6 363.5,509.6" fill="#7b868f"/>
<polygon points="378.9,508.9 378.9,508.9 378.9,508.0 375.9,509.2 378.9,510.5 378.9,509.6 378.9,509.6" fill="#7b868f"/>
<polygon points="394.4,508.9 394.4,508.9 394.4,508.0 391.4,509.2 394.4,510.5 394.4,509.6 394.4,509.6" fill="#7b868f"/>
<polygon points="409.9,508.9 409.9,508.9 409.9,508.0 406.9,509.2 409.9,510.5 409.9,509.6 409.9,509.6" fill="#7b868f"/>
<polygon points="425.3,508.9 425.3,508.9 425.3,508.8 424.3,509.2 425.3,509.7 425.3,509.6 425.3,509.6" fill="#7b868f"/>
<polygon points="440.8,508.9 440.8,508.9 440.8,508.8 439.8,509.2 440.8,509.7 440.8,509.6 440.8,509.6" fill="#7b868f"/>
<polygon points="456.2,508.9 456.2,508.9 456.2,508.8 455.2,509.2 456.2,509.7 456.2,509.6 456.2,509.6" fill="#7b868f"/>
<polygon points="471.6,508.9 471.6,508.9 471.6,508.8 470.6,509.2 471.6,509.7 471.6,509.6 471.6,509.6" fill="#7b868f"/>
<polygon points="487.1,509.6 487.1,509.6 487.1,510.5 490.1,509.2 487.1,508.0 487.1,508.9 487.1,508.9" fill="#7b868f"/>
<polygon points="502.6,509.6 502.6,509.6 502.6,510.5 505.6,509.2 502.6,508.0 502.6,508.9 502.6,508.9" fill="#7b868f"/>
<polygon points="518.0,509.6 518.0,509.6 518.0,509.7 519.0,509.2 518.0,508.8 518.0,508.9 518.0,508.9" fill="#7b868f"/>
<polygon points="533.6,509.6 533.6,509.6 533.9,510.3 536.0,508.2 533.0,508.2 533.3,508.9 533.3,508.9" fill="#7b868f"/>
<polygon points="548.5,508.8 528.7,525.2 527.8,524.1 525.3,529.0 530.5,527.4 529.6,526.2 549.3,509.7" fill="#7b868f"/>
<polygon points="564.1,508.7 547.6,516.3 547.0,515.0 543.3,519.0 548.8,518.8 548.2,517.5 564.6,509.8" fill="#7b868f"/>
<polygon points="579.8,508.6 569.4,508.6 569.4,507.1 564.4,509.2 569.4,511.4 569.4,509.9 579.8,509.9" fill="#7b868f"/>
<polygon points="595.2,508.6 584.9,508.6 584.9,507.1 579.9,509.2 584.9,511.4 584.9,509.9 595.2,509.9" fill="#7b868f"/>
<polygon points="610.7,508.6 600.3,508.6 600.3,507.1 595.3,509.2 600.3,511.4 600.3,509.9 610.7,509.9" fill="#7b868f"/>
<polygon points="626.1,508.6 615.8,508.6 615.8,507.1 610.8,509.2 615.8,511.4 615.8,509.9 626.1,509.9" fill="#7b868f"/>
<polygon points="641.6,508.6 631.2,508.6 631.2,507.1 626.2,509.2 631.2,511.4 631.2,509.9 641.6,509.9" fill="#7b868f"/>
<polygon points="657.0,508.6 646.6,508.6 646.6,507.1 641.6,509.2 646.6,511.4 646.6,509.9 657.0,509.9" fill="#7b868f"/>
<polygon points="672.5,508.6 662.1,508.6 662.1,507.1 657.1,509.2 662.1,511.4 662.1,509.9 672.5,509.9" fill="#7b868f"/>
<polygon points="688.0,508.6 677.6,508.6 677.6,507.1 672.6,509.2 677.6,511.4 677.6,509.9 688.0,509.9" fill="#7b868f"/>
<polygon points="703.4,508.6 693.0,508.6 693.0,507.1 688.0,509.2 693.0,511.4 693.0,509.9 703.4,509.9" fill="#7b868f"/>
<polygon points="718.8,508.6 708.4,508.6 708.4,507.1 703.4,509.2 708.4,511.4 708.4,509.9 718.8,509.9" fill="#7b868f"/>
<polygon points="734.3,508.6 723.9,508.6 723.9,507.1 718.9,509.2 723.9,511.4 723.9,509.9 734.3,509.9" fill="#7b868f"/>
<polygon points="749.8,508.6 739.4,508.6 739.4,507.1 734.4,509.2 739.4,511.4 739.4,509.9 749.8,509.9" fill="#7b868f"/>
<polygon points="765.2,508.6 754.8,508.6 754.8,507.1 749.8,509.2 754.8,511.4 754.8,509.9 765.2,509.9" fill="#7b868f"/>
<polygon points="780.6,508.6 770.2,508.6 770.2,507.1 765.2,509.2 770.2,511.4 770.2,509.9 780.6,509.9" fill="#7b868f"/>
<polygon points="796.1,508.6 785.7,508.6 785.7,507.1 780.7,509.2 785.7,511.4 785.7,509.9 796.1,509.9" fill="#7b868f"/>
<circle cx="209.0" cy="526.0" r="0.75" fill="#7b868f"/>
<circle cx="224.4" cy="526.0" r="0.75" fill="#7b868f"/>
<circle cx="239.9" cy="526.0" r="0.75" fill="#7b868f"/>
<circle cx="255.3" cy="526.0" r="0.75" fill="#7b868f"/>
<circle cx="270.8" cy="526.0" r="0.75" fill="#7b868f"/>
<circle cx="286.2" cy="526.0" r="0.75" fill="#7b868f"/>
<circle cx="301.7" cy="526.0" r="0.75" fill="#7b868f"/>
<circle cx="317.1" cy="526.0" r="0.75" fill="#7b868f"/>
<circle cx="332.6" cy="526.0" r="0.75" fill="#7b868f"/>
<circle cx="348.0" cy="526.0" r="0.75" fill="#7b868f"/>
<circle cx="363.5" cy="526.0" r="0.75" fill="#7b868f"/>
<circle cx="378.9" cy="526.0" r="0.75" fill="#7b868f"/>
<circle cx="394.4" cy="526.0" r="0.75" fill="#7b868f"/>
<polygon points="409.6,525.7 409.6,525.7 409.4,525.4 408.4,527.0 410.3,526.6 410.1,526.3 410.1,526.3" fill="#7b868f"/>
<polygon points="425.0,525.6 425.0,525.6 424.5,524.7 422.3,528.0 426.1,527.3 425.6,526.4 425.6,526.4" fill="#7b868f"/>
<polygon points="441.0,526.6 443.3,525.8 443.7,527.2 447.8,523.5 442.3,523.2 442.8,524.6 440.5,525.4" fill="#7b868f"/>
<polygon points="456.3,526.6 459.4,526.1 459.7,527.5 464.2,524.5 458.9,523.4 459.2,524.8 456.1,525.4" fill="#7b868f"/>
<polygon points="471.8,526.6 476.2,525.5 476.5,526.9 480.8,523.7 475.5,522.9 475.8,524.3 471.5,525.4" fill="#7b868f"/>
<polygon points="487.1,526.6 492.1,526.6 492.1,528.1 497.1,526.0 492.1,523.9 492.1,525.4 487.1,525.4" fill="#7b868f"/>
<polygon points="502.4,526.6 505.5,527.5 505.1,528.9 510.4,528.3 506.2,524.9 505.8,526.3 502.7,525.4" fill="#7b868f"/>
<polygon points="517.5,526.4 518.4,527.5 517.2,528.4 522.0,531.0 520.5,525.8 519.4,526.7 518.5,525.6" fill="#7b868f"/>
<polygon points="532.9,525.7 524.0,541.6 522.7,540.9 522.2,546.3 526.4,543.0 525.1,542.2 534.0,526.3" fill="#7b868f"/>
<polygon points="548.4,525.6 539.1,539.5 537.9,538.7 536.9,544.0 541.4,541.0 540.2,540.2 549.4,526.4" fill="#7b868f"/>
<polygon points="564.0,525.5 555.4,532.0 554.6,530.8 551.8,535.5 557.1,534.1 556.2,533.0 564.7,526.5" fill="#7b868f"/>
<polygon points="579.7,525.4 575.4,526.1 575.2,524.7 570.6,527.6 575.9,528.8 575.6,527.4 579.9,526.6" fill="#7b868f"/>
<polygon points="595.2,525.4 593.0,525.5 592.9,524.0 588.0,526.4 593.2,528.2 593.1,526.8 595.3,526.6" fill="#7b868f"/>
<polygon points="610.7,525.4 608.5,525.5 608.4,524.0 603.5,526.4 608.6,528.2 608.5,526.8 610.7,526.6" fill="#7b868f"/>
<polygon points="626.1,525.4 623.9,525.5 623.8,524.0 618.9,526.4 624.1,528.2 624.0,526.8 626.2,526.6" fill="#7b868f"/>
<polygon points="641.6,525.4 639.4,525.5 639.3,524.0 634.4,526.4 639.5,528.2 639.4,526.8 641.6,526.6" fill="#7b868f"/>
<polygon points="657.0,525.4 654.8,525.5 654.7,524.0 649.8,526.4 655.0,528.2 654.9,526.8 657.1,526.6" fill="#7b868f"/>
<polygon points="672.5,525.4 670.3,525.5 670.2,524.0 665.3,526.4 670.4,528.2 670.3,526.8 672.5,526.6" fill="#7b868f"/>
<polygon points="687.9,525.4 685.7,525.5 685.6,524.0 680.8,526.4 685.9,528.2 685.8,526.8 688.0,526.6" fill="#7b868f"/>
<polygon points="703.4,525.4 701.2,525.5 701.1,524.0 696.2,526.4 701.3,528.2 701.2,526.8 703.4,526.6" fill="#7b868f"/>
<polygon points="718.8,525.4 716.6,525.5 716.5,524.0 711.6,526.4 716.8,528.2 716.7,526.8 718.9,526.6" fill="#7b868f"/>
<polygon points="734.3,525.4 732.1,525.5 732.0,524.0 727.1,526.4 732.2,528.2 732.1,526.8 734.3,526.6" fill="#7b868f"/>
<polygon points="749.7,525.4 747.5,525.5 747.4,524.0 742.5,526.4 747.7,528.2 747.6,526.8 749.8,526.6" fill="#7b868f"/>
<polygon points="765.2,525.4 763.0,525.5 762.9,524.0 758.0,526.4 763.1,528.2 763.0,526.8 765.2,526.6" fill="#7b868f"/>
<polygon points="780.6,525.4 778.4,525.5 778.3,524.0 773.4,526.4 778.6,528.2 778.5,526.8 780.7,526.6" fill="#7b868f"/>
<polygon points="796.1,525.4 793.9,525.5 793.8,524.0 788.9,526.4 794.0,528.2 793.9,526.8 796.1,526.6" fill="#7b868f"/>
<circle cx="209.0" cy="542.8" r="0.75" fill="#7b868f"/>
<circle cx="224.4" cy="542.8" r="0.75" fill="#7b868f"/>
<circle cx="239.9" cy="542.8" r="0.75" fill="#7b868f"/>
<circle cx="255.3" cy="542.8" r="0.75" fill="#7b868f"/>
<circle cx="270.8" cy="542.8" r="0.75" fill="#7b868f"/>
<circle cx="286.2" cy="542.8" r="0.75" fill="#7b868f"/>
<circle cx="301.7" cy="542.8" r="0.75" fill="#7b868f"/>
<polygon points="317.1,543.1 317.1,543.1 317.1,543.8 319.6,542.8 317.1,541.7 317.1,542.4 317.1,542.4" fill="#7b868f"/>
<polygon points="332.6,543.1 332.6,543.1 332.6,543.8 335.1,542.8 332.6,541.7 332.6,542.4 332.6,542.4" fill="#7b868f"/>
<polygon points="348.0,543.1 348.0,543.1 348.0,543.8 350.5,542.8 348.0,541.7 348.0,542.4 348.0,542.4" fill="#7b868f"/>
<polygon points="363.5,543.1 363.5,543.1 363.5,543.8 366.0,542.8 363.5,541.7 363.5,542.4 363.5,542.4" fill="#7b868f"/>
<polygon points="378.9,543.1 378.9,543.1 378.9,543.8 381.4,542.8 378.9,541.7 378.9,542.4 378.9,542.4" fill="#7b868f"/>
<polygon points="394.4,543.1 394.4,543.1 394.4,543.8 396.9,542.8 394.4,541.7 394.4,542.4 394.4,542.4" fill="#7b868f"/>
<polygon points="409.6,542.5 409.6,542.5 409.0,541.9 407.9,544.8 410.7,543.6 410.1,543.0 410.1,543.0" fill="#7b868f"/>
<polygon points="425.0,542.4 425.0,542.4 424.5,541.5 422.3,544.8 426.1,544.0 425.6,543.1 425.6,543.1" fill="#7b868f"/>
<polygon points="441.2,543.3 442.3,542.4 443.2,543.5 445.8,538.8 440.5,540.2 441.4,541.4 440.3,542.2" fill="#7b868f"/>
<polygon points="456.6,543.3 459.5,541.2 460.4,542.4 463.2,537.8 457.9,538.9 458.8,540.1 455.8,542.2" fill="#7b868f"/>
<polygon points="471.9,543.3 477.9,540.6 478.5,541.9 482.1,537.9 476.7,538.1 477.3,539.4 471.4,542.2" fill="#7b868f"/>
<polygon points="487.1,543.4 491.9,543.5 491.8,545.0 496.9,543.0 492.0,540.8 491.9,542.2 487.1,542.1" fill="#7b868f"/>
<polygon points="502.0,543.2 504.5,546.2 503.4,547.1 508.2,549.6 506.6,544.4 505.5,545.4 503.1,542.3" fill="#7b868f"/>
<polygon points="517.4,542.6 514.2,555.4 512.8,555.1 513.7,560.5 516.9,556.1 515.5,555.7 518.6,542.9" fill="#7b868f"/>
<polygon points="532.9,542.4 526.2,555.0 524.9,554.3 524.5,559.8 528.6,556.3 527.4,555.6 534.0,543.1" fill="#7b868f"/>
<polygon points="548.3,542.5 543.3,553.1 542.0,552.4 541.7,557.9 545.7,554.2 544.4,553.6 549.5,543.0" fill="#7b868f"/>
<polygon points="563.9,542.7 563.9,542.7 562.9,542.5 563.8,546.2 565.8,543.0 564.8,542.8 564.8,542.8" fill="#7b868f"/>
<polygon points="579.6,542.4 579.6,542.4 579.2,541.7 577.3,544.2 580.4,543.8 580.0,543.1 580.0,543.1" fill="#7b868f"/>
<polygon points="595.2,542.4 595.2,542.4 595.1,541.7 592.8,543.1 595.4,543.8 595.3,543.1 595.3,543.1" fill="#7b868f"/>
<polygon points="610.6,542.4 610.6,542.4 610.5,541.7 608.2,543.1 610.9,543.8 610.8,543.1 610.8,543.1" fill="#7b868f"/>
<polygon points="626.1,542.4 626.1,542.4 626.0,541.7 623.6,543.1 626.3,543.8 626.2,543.1 626.2,543.1" fill="#7b868f"/>
<polygon points="641.5,542.4 641.5,542.4 641.4,541.7 639.1,543.1 641.8,543.8 641.7,543.1 641.7,543.1" fill="#7b868f"/>
<polygon points="657.0,542.4 657.0,542.4 656.9,541.7 654.5,543.1 657.2,543.8 657.1,543.1 657.1,543.1" fill="#7b868f"/>
<polygon points="672.4,542.4 672.4,542.4 672.3,541.7 670.0,543.1 672.7,543.8 672.6,543.1 672.6,543.1" fill="#7b868f"/>
<polygon points="687.9,542.4 687.9,542.4 687.8,541.7 685.5,543.1 688.1,543.8 688.0,543.1 688.0,543.1" fill="#7b868f"/>
<polygon points="703.3,542.4 703.3,542.4 703.2,541.7 700.9,543.1 703.6,543.8 703.5,543.1 703.5,543.1" fill="#7b868f"/>
<polygon points="718.8,542.4 718.8,542.4 718.7,541.7 716.3,543.1 719.0,543.8 718.9,543.1 718.9,543.1" fill="#7b868f"/>
<polygon points="734.2,542.4 734.2,542.4 734.1,541.7 731.8,543.1 734.5,543.8 734.4,543.1 734.4,543.1" fill="#7b868f"/>
<polygon points="749.7,542.4 749.7,542.4 749.6,541.7 747.2,543.1 749.9,543.8 749.8,543.1 749.8,543.1" fill="#7b868f"/>
<polygon points="765.1,542.4 765.1,542.4 765.0,541.7 762.7,543.1 765.4,543.8 765.3,543.1 765.3,543.1" fill="#7b868f"/>
<polygon points="780.6,542.4 780.6,542.4 780.5,541.7 778.1,543.1 780.8,543.8 780.7,543.1 780.7,543.1" fill="#7b868f"/>
<polygon points="796.0,542.4 796.0,542.4 795.9,541.7 793.6,543.1 796.3,543.8 796.2,543.1 796.2,543.1" fill="#7b868f"/>
<circle cx="209.0" cy="559.5" r="0.75" fill="#7b868f"/>
<circle cx="224.4" cy="559.5" r="0.75" fill="#7b868f"/>
<circle cx="239.9" cy="559.5" r="0.75" fill="#7b868f"/>
<circle cx="255.3" cy="559.5" r="0.75" fill="#7b868f"/>
<circle cx="270.8" cy="559.5" r="0.75" fill="#7b868f"/>
<circle cx="286.2" cy="559.5" r="0.75" fill="#7b868f"/>
<polygon points="301.7,559.9 301.7,559.9 301.7,560.5 304.2,559.5 301.7,558.5 301.7,559.1 301.7,559.1" fill="#7b868f"/>
<polygon points="317.1,559.9 317.1,559.9 317.1,560.5 319.6,559.5 317.1,558.5 317.1,559.1 317.1,559.1" fill="#7b868f"/>
<polygon points="332.6,559.9 332.6,559.9 332.6,560.5 335.1,559.5 332.6,558.5 332.6,559.1 332.6,559.1" fill="#7b868f"/>
<polygon points="348.0,559.9 348.0,559.9 348.0,560.5 350.5,559.5 348.0,558.5 348.0,559.1 348.0,559.1" fill="#7b868f"/>
<polygon points="363.5,559.9 363.5,559.9 363.5,560.5 366.0,559.5 363.5,558.5 363.5,559.1 363.5,559.1" fill="#7b868f"/>
<polygon points="378.9,559.9 378.9,559.9 378.9,560.5 381.4,559.5 378.9,558.5 378.9,559.1 378.9,559.1" fill="#7b868f"/>
<polygon points="394.4,559.9 394.4,559.9 394.4,560.5 396.9,559.5 394.4,558.5 394.4,559.1 394.4,559.1" fill="#7b868f"/>
<polygon points="409.6,559.2 409.6,559.2 409.0,558.7 407.9,561.5 410.7,560.3 410.1,559.8 410.1,559.8" fill="#7b868f"/>
<polygon points="425.7,559.9 425.7,559.9 426.6,560.8 428.3,556.5 424.0,558.2 424.9,559.1 424.9,559.1" fill="#7b868f"/>
<polygon points="441.3,559.8 441.7,559.1 443.0,559.9 443.8,554.5 439.4,557.7 440.6,558.5 440.2,559.2" fill="#7b868f"/>
<polygon points="456.8,559.6 457.7,555.5 459.2,555.8 458.2,550.5 455.1,554.9 456.5,555.2 455.6,559.4" fill="#7b868f"/>
<polygon points="472.2,559.9 475.2,555.7 476.3,556.6 477.5,551.3 472.9,554.1 474.1,555.0 471.1,559.1" fill="#7b868f"/>
<polygon points="486.7,560.0 488.2,561.1 487.4,562.3 492.7,563.4 489.8,558.8 489.0,560.0 487.5,559.0" fill="#7b868f"/>
<polygon points="501.9,559.4 499.3,572.9 497.8,572.6 498.9,577.9 502.0,573.4 500.5,573.1 503.2,559.6" fill="#7b868f"/>
<polygon points="517.4,559.3 509.9,580.2 508.5,579.7 508.8,585.1 512.5,581.1 511.1,580.6 518.6,559.7" fill="#7b868f"/>
<polygon points="532.8,559.3 526.0,578.2 524.7,577.7 525.0,583.1 528.6,579.1 527.3,578.6 534.1,559.7" fill="#7b868f"/>
<polygon points="548.6,560.1 551.3,561.3 550.7,562.6 556.1,562.8 552.4,558.8 551.8,560.1 549.2,558.9" fill="#7b868f"/>
<polygon points="564.3,560.1 569.8,560.1 569.8,561.6 574.8,559.5 569.8,557.4 569.8,558.9 564.3,558.9" fill="#7b868f"/>
<polygon points="579.8,560.1 585.0,560.1 585.0,561.6 590.0,559.5 585.0,557.4 585.0,558.9 579.8,558.9" fill="#7b868f"/>
<polygon points="595.2,560.1 600.5,560.1 600.5,561.6 605.5,559.5 600.5,557.4 600.5,558.9 595.2,558.9" fill="#7b868f"/>
<polygon points="610.7,560.1 615.9,560.1 615.9,561.6 620.9,559.5 615.9,557.4 615.9,558.9 610.7,558.9" fill="#7b868f"/>
<polygon points="626.1,560.1 631.4,560.1 631.4,561.6 636.4,559.5 631.4,557.4 631.4,558.9 626.1,558.9" fill="#7b868f"/>
<polygon points="641.6,560.1 646.8,560.1 646.8,561.6 651.8,559.5 646.8,557.4 646.8,558.9 641.6,558.9" fill="#7b868f"/>
<polygon points="657.0,560.1 662.2,560.1 662.2,561.6 667.2,559.5 662.2,557.4 662.2,558.9 657.0,558.9" fill="#7b868f"/>
<polygon points="672.5,560.1 677.7,560.1 677.7,561.6 682.7,559.5 677.7,557.4 677.7,558.9 672.5,558.9" fill="#7b868f"/>
<polygon points="688.0,560.1 693.2,560.1 693.2,561.6 698.2,559.5 693.2,557.4 693.2,558.9 688.0,558.9" fill="#7b868f"/>
<polygon points="703.4,560.1 708.6,560.1 708.6,561.6 713.6,559.5 708.6,557.4 708.6,558.9 703.4,558.9" fill="#7b868f"/>
<polygon points="718.8,560.1 724.0,560.1 724.0,561.6 729.0,559.5 724.0,557.4 724.0,558.9 718.8,558.9" fill="#7b868f"/>
<polygon points="734.3,560.1 739.5,560.1 739.5,561.6 744.5,559.5 739.5,557.4 739.5,558.9 734.3,558.9" fill="#7b868f"/>
<polygon points="749.8,560.1 755.0,560.1 755.0,561.6 760.0,559.5 755.0,557.4 755.0,558.9 749.8,558.9" fill="#7b868f"/>
<polygon points="765.2,560.1 770.4,560.1 770.4,561.6 775.4,559.5 770.4,557.4 770.4,558.9 765.2,558.9" fill="#7b868f"/>
<polygon points="780.6,560.1 785.9,560.1 785.9,561.6 790.9,559.5 785.9,557.4 785.9,558.9 780.6,558.9" fill="#7b868f"/>
<polygon points="796.1,560.1 801.3,560.1 801.3,561.6 806.3,559.5 801.3,557.4 801.3,558.9 796.1,558.9" fill="#7b868f"/>
<circle cx="209.0" cy="576.2" r="0.75" fill="#7b868f"/>
<circle cx="224.4" cy="576.2" r="0.75" fill="#7b868f"/>
<circle cx="239.9" cy="576.2" r="0.75" fill="#7b868f"/>
<circle cx="255.3" cy="576.2" r="0.75" fill="#7b868f"/>
<circle cx="270.8" cy="576.2" r="0.75" fill="#7b868f"/>
<circle cx="286.2" cy="576.2" r="0.75" fill="#7b868f"/>
<circle cx="301.7" cy="576.2" r="0.75" fill="#7b868f"/>
<circle cx="317.1" cy="576.2" r="0.75" fill="#7b868f"/>
<circle cx="332.6" cy="576.2" r="0.75" fill="#7b868f"/>
<circle cx="348.0" cy="576.2" r="0.75" fill="#7b868f"/>
<circle cx="363.5" cy="576.2" r="0.75" fill="#7b868f"/>
<polygon points="378.7,575.9 378.7,575.9 378.3,575.4 376.9,577.8 379.6,577.1 379.2,576.6 379.2,576.6" fill="#7b868f"/>
<polygon points="394.2,575.9 394.2,575.9 393.8,575.4 392.4,577.8 395.0,577.1 394.6,576.6 394.6,576.6" fill="#7b868f"/>
<polygon points="409.6,575.9 409.6,575.9 409.2,575.4 407.9,577.8 410.5,577.1 410.1,576.6 410.1,576.6" fill="#7b868f"/>
<polygon points="425.1,575.9 425.1,575.9 424.7,575.4 423.3,577.8 425.9,577.1 425.5,576.6 425.5,576.6" fill="#7b868f"/>
<polygon points="441.1,576.2 441.1,576.2 441.6,576.2 440.8,574.2 439.9,576.2 440.4,576.2 440.4,576.2" fill="#7b868f"/>
<polygon points="456.8,576.0 456.7,575.7 458.0,575.1 454.2,571.2 454.1,576.7 455.5,576.1 455.6,576.5" fill="#7b868f"/>
<polygon points="472.2,575.8 466.2,568.3 467.4,567.4 462.6,564.8 464.1,570.0 465.2,569.1 471.1,576.7" fill="#7b868f"/>
<polygon points="486.5,575.9 478.3,589.3 477.1,588.6 476.3,594.0 480.7,590.8 479.5,590.0 487.7,576.6" fill="#7b868f"/>
<polygon points="502.0,575.9 493.2,592.0 491.9,591.3 491.4,596.6 495.6,593.3 494.3,592.6 503.1,576.6" fill="#7b868f"/>
<polygon points="517.4,576.0 510.3,591.8 508.9,591.2 508.8,596.6 512.8,593.0 511.4,592.4 518.6,576.5" fill="#7b868f"/>
<polygon points="533.5,576.9 543.9,576.9 543.9,578.4 548.9,576.2 543.9,574.1 543.9,575.6 533.5,575.6" fill="#7b868f"/>
<polygon points="548.9,576.9 559.3,576.9 559.3,578.4 564.3,576.2 559.3,574.1 559.3,575.6 548.9,575.6" fill="#7b868f"/>
<polygon points="564.3,576.9 574.7,576.9 574.7,578.4 579.7,576.2 574.7,574.1 574.7,575.6 564.3,575.6" fill="#7b868f"/>
<polygon points="579.8,576.9 590.2,576.9 590.2,578.4 595.2,576.2 590.2,574.1 590.2,575.6 579.8,575.6" fill="#7b868f"/>
<polygon points="595.2,576.9 605.6,576.9 605.6,578.4 610.6,576.2 605.6,574.1 605.6,575.6 595.2,575.6" fill="#7b868f"/>
<polygon points="610.7,576.9 621.1,576.9 621.1,578.4 626.1,576.2 621.1,574.1 621.1,575.6 610.7,575.6" fill="#7b868f"/>
<polygon points="626.1,576.9 636.5,576.9 636.5,578.4 641.5,576.2 636.5,574.1 636.5,575.6 626.1,575.6" fill="#7b868f"/>
<polygon points="641.6,576.9 652.0,576.9 652.0,578.4 657.0,576.2 652.0,574.1 652.0,575.6 641.6,575.6" fill="#7b868f"/>
<polygon points="657.0,576.9 667.4,576.9 667.4,578.4 672.4,576.2 667.4,574.1 667.4,575.6 657.0,575.6" fill="#7b868f"/>
<polygon points="672.5,576.9 682.9,576.9 682.9,578.4 687.9,576.2 682.9,574.1 682.9,575.6 672.5,575.6" fill="#7b868f"/>
<polygon points="688.0,576.9 698.4,576.9 698.4,578.4 703.4,576.2 698.4,574.1 698.4,575.6 688.0,575.6" fill="#7b868f"/>
<polygon points="703.4,576.9 713.8,576.9 713.8,578.4 718.8,576.2 713.8,574.1 713.8,575.6 703.4,575.6" fill="#7b868f"/>
<polygon points="718.8,576.9 729.2,576.9 729.2,578.4 734.2,576.2 729.2,574.1 729.2,575.6 718.8,575.6" fill="#7b868f"/>
<polygon points="734.3,576.9 744.7,576.9 744.7,578.4 749.7,576.2 744.7,574.1 744.7,575.6 734.3,575.6" fill="#7b868f"/>
<polygon points="749.8,576.9 760.1,576.9 760.1,578.4 765.1,576.2 760.1,574.1 760.1,575.6 749.8,575.6" fill="#7b868f"/>
<polygon points="765.2,576.9 775.6,576.9 775.6,578.4 780.6,576.2 775.6,574.1 775.6,575.6 765.2,575.6" fill="#7b868f"/>
<polygon points="780.6,576.9 791.0,576.9 791.0,578.4 796.0,576.2 791.0,574.1 791.0,575.6 780.6,575.6" fill="#7b868f"/>
<polygon points="796.1,576.9 806.5,576.9 806.5,578.4 811.5,576.2 806.5,574.1 806.5,575.6 796.1,575.6" fill="#7b868f"/>
<circle cx="209.0" cy="593.0" r="0.75" fill="#7b868f"/>
<circle cx="224.4" cy="593.0" r="0.75" fill="#7b868f"/>
<circle cx="239.9" cy="593.0" r="0.75" fill="#7b868f"/>
<circle cx="255.3" cy="593.0" r="0.75" fill="#7b868f"/>
<circle cx="270.8" cy="593.0" r="0.75" fill="#7b868f"/>
<circle cx="286.2" cy="593.0" r="0.75" fill="#7b868f"/>
<circle cx="301.7" cy="593.0" r="0.75" fill="#7b868f"/>
<circle cx="317.1" cy="593.0" r="0.75" fill="#7b868f"/>
<circle cx="332.6" cy="593.0" r="0.75" fill="#7b868f"/>
<circle cx="348.0" cy="593.0" r="0.75" fill="#7b868f"/>
<circle cx="363.5" cy="593.0" r="0.75" fill="#7b868f"/>
<circle cx="378.9" cy="593.0" r="0.75" fill="#7b868f"/>
<circle cx="394.4" cy="593.0" r="0.75" fill="#7b868f"/>
<circle cx="409.9" cy="593.0" r="0.75" fill="#7b868f"/>
<circle cx="425.3" cy="593.0" r="0.75" fill="#7b868f"/>
<circle cx="440.8" cy="593.0" r="0.75" fill="#7b868f"/>
<circle cx="456.2" cy="593.0" r="0.75" fill="#7b868f"/>
<circle cx="471.6" cy="593.0" r="0.75" fill="#7b868f"/>
<polygon points="486.7,592.7 486.7,592.7 485.8,592.2 485.1,596.0 488.4,593.8 487.5,593.3 487.5,593.3" fill="#7b868f"/>
<polygon points="502.8,592.7 502.8,592.7 503.4,592.2 500.6,591.0 501.7,593.8 502.3,593.3 502.3,593.3" fill="#7b868f"/>
<polygon points="518.3,593.5 518.3,593.5 518.8,594.7 522.0,591.0 517.2,591.3 517.7,592.5 517.7,592.5" fill="#7b868f"/>
<polygon points="533.5,593.6 536.5,593.6 536.5,595.1 541.5,593.0 536.5,590.9 536.5,592.4 533.5,592.4" fill="#7b868f"/>
<polygon points="548.9,593.6 551.9,593.6 551.9,595.1 556.9,593.0 551.9,590.9 551.9,592.4 548.9,592.4" fill="#7b868f"/>
<polygon points="564.3,593.6 567.3,593.6 567.3,595.1 572.3,593.0 567.3,590.9 567.3,592.4 564.3,592.4" fill="#7b868f"/>
<polygon points="579.8,593.6 582.8,593.6 582.8,595.1 587.8,593.0 582.8,590.9 582.8,592.4 579.8,592.4" fill="#7b868f"/>
<polygon points="595.2,593.6 598.2,593.6 598.2,595.1 603.2,593.0 598.2,590.9 598.2,592.4 595.2,592.4" fill="#7b868f"/>
<polygon points="610.7,593.6 613.7,593.6 613.7,595.1 618.7,593.0 613.7,590.9 613.7,592.4 610.7,592.4" fill="#7b868f"/>
<polygon points="626.1,593.6 629.1,593.6 629.1,595.1 634.1,593.0 629.1,590.9 629.1,592.4 626.1,592.4" fill="#7b868f"/>
<polygon points="641.6,593.6 644.6,593.6 644.6,595.1 649.6,593.0 644.6,590.9 644.6,592.4 641.6,592.4" fill="#7b868f"/>
<polygon points="657.0,593.6 660.0,593.6 660.0,595.1 665.0,593.0 660.0,590.9 660.0,592.4 657.0,592.4" fill="#7b868f"/>
<polygon points="672.5,593.6 675.5,593.6 675.5,595.1 680.5,593.0 675.5,590.9 675.5,592.4 672.5,592.4" fill="#7b868f"/>
<polygon points="688.0,593.6 691.0,593.6 691.0,595.1 696.0,593.0 691.0,590.9 691.0,592.4 688.0,592.4" fill="#7b868f"/>
<polygon points="703.4,593.6 706.4,593.6 706.4,595.1 711.4,593.0 706.4,590.9 706.4,592.4 703.4,592.4" fill="#7b868f"/>
<polygon points="718.8,593.6 721.8,593.6 721.8,595.1 726.8,593.0 721.8,590.9 721.8,592.4 718.8,592.4" fill="#7b868f"/>
<polygon points="734.3,593.6 737.3,593.6 737.3,595.1 742.3,593.0 737.3,590.9 737.3,592.4 734.3,592.4" fill="#7b868f"/>
<polygon points="749.8,593.6 752.8,593.6 752.8,595.1 757.8,593.0 752.8,590.9 752.8,592.4 749.8,592.4" fill="#7b868f"/>
<polygon points="765.2,593.6 768.2,593.6 768.2,595.1 773.2,593.0 768.2,590.9 768.2,592.4 765.2,592.4" fill="#7b868f"/>
<polygon points="780.6,593.6 783.6,593.6 783.6,595.1 788.6,593.0 783.6,590.9 783.6,592.4 780.6,592.4" fill="#7b868f"/>
<polygon points="796.1,593.6 799.1,593.6 799.1,595.1 804.1,593.0 799.1,590.9 799.1,592.4 796.1,592.4" fill="#7b868f"/>
<circle cx="209.0" cy="609.8" r="0.75" fill="#7b868f"/>
<circle cx="224.4" cy="609.8" r="0.75" fill="#7b868f"/>
<circle cx="239.9" cy="609.8" r="0.75" fill="#7b868f"/>
<circle cx="255.3" cy="609.8" r="0.75" fill="#7b868f"/>
<circle cx="270.8" cy="609.8" r="0.75" fill="#7b868f"/>
<circle cx="286.2" cy="609.8" r="0.75" fill="#7b868f"/>
<circle cx="301.7" cy="609.8" r="0.75" fill="#7b868f"/>
<circle cx="317.1" cy="609.8" r="0.75" fill="#7b868f"/>
<circle cx="332.6" cy="609.8" r="0.75" fill="#7b868f"/>
<circle cx="348.0" cy="609.8" r="0.75" fill="#7b868f"/>
<circle cx="363.5" cy="609.8" r="0.75" fill="#7b868f"/>
<circle cx="378.9" cy="609.8" r="0.75" fill="#7b868f"/>
<circle cx="394.4" cy="609.8" r="0.75" fill="#7b868f"/>
<circle cx="409.9" cy="609.8" r="0.75" fill="#7b868f"/>
<circle cx="425.3" cy="609.8" r="0.75" fill="#7b868f"/>
<circle cx="440.8" cy="609.8" r="0.75" fill="#7b868f"/>
<circle cx="456.2" cy="609.8" r="0.75" fill="#7b868f"/>
<circle cx="471.6" cy="609.8" r="0.75" fill="#7b868f"/>
<polygon points="487.1,610.1 487.1,610.1 487.1,610.2 488.1,609.8 487.1,609.3 487.1,609.4 487.1,609.4" fill="#7b868f"/>
<polygon points="502.6,610.1 502.6,610.1 502.6,611.0 505.6,609.8 502.6,608.5 502.6,609.4 502.6,609.4" fill="#7b868f"/>
<polygon points="518.0,610.4 518.0,610.4 518.0,611.9 523.0,609.8 518.0,607.6 518.0,609.1 518.0,609.1" fill="#7b868f"/>
<polygon points="533.5,610.4 537.0,610.4 537.0,611.9 542.0,609.8 537.0,607.6 537.0,609.1 533.5,609.1" fill="#7b868f"/>
<polygon points="548.9,610.4 552.4,610.4 552.4,611.9 557.4,609.8 552.4,607.6 552.4,609.1 548.9,609.1" fill="#7b868f"/>
<polygon points="564.3,610.4 567.8,610.4 567.8,611.9 572.8,609.8 567.8,607.6 567.8,609.1 564.3,609.1" fill="#7b868f"/>
<polygon points="579.8,610.4 583.3,610.4 583.3,611.9 588.3,609.8 583.3,607.6 583.3,609.1 579.8,609.1" fill="#7b868f"/>
<polygon points="595.2,610.4 598.8,610.4 598.8,611.9 603.8,609.8 598.8,607.6 598.8,609.1 595.2,609.1" fill="#7b868f"/>
<polygon points="610.7,610.4 614.2,610.4 614.2,611.9 619.2,609.8 614.2,607.6 614.2,609.1 610.7,609.1" fill="#7b868f"/>
<polygon points="626.1,610.4 629.6,610.4 629.6,611.9 634.6,609.8 629.6,607.6 629.6,609.1 626.1,609.1" fill="#7b868f"/>
<polygon points="641.6,610.4 645.1,610.4 645.1,611.9 650.1,609.8 645.1,607.6 645.1,609.1 641.6,609.1" fill="#7b868f"/>
<polygon points="657.0,610.4 660.5,610.4 660.5,611.9 665.5,609.8 660.5,607.6 660.5,609.1 657.0,609.1" fill="#7b868f"/>
<polygon points="672.5,610.4 676.0,610.4 676.0,611.9 681.0,609.8 676.0,607.6 676.0,609.1 672.5,609.1" fill="#7b868f"/>
<polygon points="688.0,610.4 691.5,610.4 691.5,611.9 696.5,609.8 691.5,607.6 691.5,609.1 688.0,609.1" fill="#7b868f"/>
<polygon points="703.4,610.4 706.9,610.4 706.9,611.9 711.9,609.8 706.9,607.6 706.9,609.1 703.4,609.1" fill="#7b868f"/>
<polygon points="718.8,610.4 722.3,610.4 722.3,611.9 727.3,609.8 722.3,607.6 722.3,609.1 718.8,609.1" fill="#7b868f"/>
<polygon points="734.3,610.4 737.8,610.4 737.8,611.9 742.8,609.8 737.8,607.6 737.8,609.1 734.3,609.1" fill="#7b868f"/>
<polygon points="749.8,610.4 753.2,610.4 753.2,611.9 758.2,609.8 753.2,607.6 753.2,609.1 749.8,609.1" fill="#7b868f"/>
<polygon points="765.2,610.4 768.7,610.4 768.7,611.9 773.7,609.8 768.7,607.6 768.7,609.1 765.2,609.1" fill="#7b868f"/>
<polygon points="780.6,610.4 784.1,610.4 784.1,611.9 789.1,609.8 784.1,607.6 784.1,609.1 780.6,609.1" fill="#7b868f"/>
<polygon points="796.1,610.4 799.6,610.4 799.6,611.9 804.6,609.8 799.6,607.6 799.6,609.1 796.1,609.1" fill="#7b868f"/>
<circle cx="209.0" cy="626.5" r="0.75" fill="#7b868f"/>
<circle cx="224.4" cy="626.5" r="0.75" fill="#7b868f"/>
<circle cx="239.9" cy="626.5" r="0.75" fill="#7b868f"/>
<circle cx="255.3" cy="626.5" r="0.75" fill="#7b868f"/>
<circle cx="270.8" cy="626.5" r="0.75" fill="#7b868f"/>
<circle cx="286.2" cy="626.5" r="0.75" fill="#7b868f"/>
<circle cx="301.7" cy="626.5" r="0.75" fill="#7b868f"/>
<circle cx="317.1" cy="626.5" r="0.75" fill="#7b868f"/>
<circle cx="332.6" cy="626.5" r="0.75" fill="#7b868f"/>
<circle cx="348.0" cy="626.5" r="0.75" fill="#7b868f"/>
<circle cx="363.5" cy="626.5" r="0.75" fill="#7b868f"/>
<circle cx="378.9" cy="626.5" r="0.75" fill="#7b868f"/>
<circle cx="394.4" cy="626.5" r="0.75" fill="#7b868f"/>
<circle cx="409.9" cy="626.5" r="0.75" fill="#7b868f"/>
<circle cx="425.3" cy="626.5" r="0.75" fill="#7b868f"/>
<circle cx="440.8" cy="626.5" r="0.75" fill="#7b868f"/>
<circle cx="456.2" cy="626.5" r="0.75" fill="#7b868f"/>
<circle cx="471.6" cy="626.5" r="0.75" fill="#7b868f"/>
<polygon points="487.1,626.9 487.1,626.9 487.1,626.9 488.1,626.5 487.1,626.1 487.1,626.1 487.1,626.1" fill="#7b868f"/>
<polygon points="502.6,626.9 502.6,626.9 502.6,627.8 505.6,626.5 502.6,625.2 502.6,626.1 502.6,626.1" fill="#7b868f"/>
<polygon points="518.0,627.1 518.0,627.1 518.0,628.6 523.0,626.5 518.0,624.4 518.0,625.9 518.0,625.9" fill="#7b868f"/>
<polygon points="533.5,627.1 537.0,627.1 537.0,628.6 542.0,626.5 537.0,624.4 537.0,625.9 533.5,625.9" fill="#7b868f"/>
<polygon points="548.9,627.1 552.4,627.1 552.4,628.6 557.4,626.5 552.4,624.4 552.4,625.9 548.9,625.9" fill="#7b868f"/>
<polygon points="564.3,627.1 567.8,627.1 567.8,628.6 572.8,626.5 567.8,624.4 567.8,625.9 564.3,625.9" fill="#7b868f"/>
<polygon points="579.8,627.1 583.3,627.1 583.3,628.6 588.3,626.5 583.3,624.4 583.3,625.9 579.8,625.9" fill="#7b868f"/>
<polygon points="595.2,627.1 598.8,627.1 598.8,628.6 603.8,626.5 598.8,624.4 598.8,625.9 595.2,625.9" fill="#7b868f"/>
<polygon points="610.7,627.1 614.2,627.1 614.2,628.6 619.2,626.5 614.2,624.4 614.2,625.9 610.7,625.9" fill="#7b868f"/>
<polygon points="626.1,627.1 629.6,627.1 629.6,628.6 634.6,626.5 629.6,624.4 629.6,625.9 626.1,625.9" fill="#7b868f"/>
<polygon points="641.6,627.1 645.1,627.1 645.1,628.6 650.1,626.5 645.1,624.4 645.1,625.9 641.6,625.9" fill="#7b868f"/>
<polygon points="657.0,627.1 660.5,627.1 660.5,628.6 665.5,626.5 660.5,624.4 660.5,625.9 657.0,625.9" fill="#7b868f"/>
<polygon points="672.5,627.1 676.0,627.1 676.0,628.6 681.0,626.5 676.0,624.4 676.0,625.9 672.5,625.9" fill="#7b868f"/>
<polygon points="688.0,627.1 691.5,627.1 691.5,628.6 696.5,626.5 691.5,624.4 691.5,625.9 688.0,625.9" fill="#7b868f"/>
<polygon points="703.4,627.1 706.9,627.1 706.9,628.6 711.9,626.5 706.9,624.4 706.9,625.9 703.4,625.9" fill="#7b868f"/>
<polygon points="718.8,627.1 722.3,627.1 722.3,628.6 727.3,626.5 722.3,624.4 722.3,625.9 718.8,625.9" fill="#7b868f"/>
<polygon points="734.3,627.1 737.8,627.1 737.8,628.6 742.8,626.5 737.8,624.4 737.8,625.9 734.3,625.9" fill="#7b868f"/>
<polygon points="749.8,627.1 753.2,627.1 753.2,628.6 758.2,626.5 753.2,624.4 753.2,625.9 749.8,625.9" fill="#7b868f"/>
<polygon points="765.2,627.1 768.7,627.1 768.7,628.6 773.7,626.5 768.7,624.4 768.7,625.9 765.2,625.9" fill="#7b868f"/>
<polygon points="780.6,627.1 784.1,627.1 784.1,628.6 789.1,626.5 784.1,624.4 784.1,625.9 780.6,625.9" fill="#7b868f"/>
<polygon points="796.1,627.1 799.6,627.1 799.6,628.6 804.6,626.5 799.6,624.4 799.6,625.9 796.1,625.9" fill="#7b868f"/>
<circle cx="209.0" cy="643.2" r="0.75" fill="#7b868f"/>
<circle cx="224.4" cy="643.2" r="0.75" fill="#7b868f"/>
<circle cx="239.9" cy="643.2" r="0.75" fill="#7b868f"/>
<circle cx="255.3" cy="643.2" r="0.75" fill="#7b868f"/>
<circle cx="270.8" cy="643.2" r="0.75" fill="#7b868f"/>
<circle cx="286.2" cy="643.2" r="0.75" fill="#7b868f"/>
<circle cx="301.7" cy="643.2" r="0.75" fill="#7b868f"/>
<circle cx="317.1" cy="643.2" r="0.75" fill="#7b868f"/>
<circle cx="332.6" cy="643.2" r="0.75" fill="#7b868f"/>
<circle cx="348.0" cy="643.2" r="0.75" fill="#7b868f"/>
<circle cx="363.5" cy="643.2" r="0.75" fill="#7b868f"/>
<circle cx="378.9" cy="643.2" r="0.75" fill="#7b868f"/>
<circle cx="394.4" cy="643.2" r="0.75" fill="#7b868f"/>
<circle cx="409.9" cy="643.2" r="0.75" fill="#7b868f"/>
<circle cx="425.3" cy="643.2" r="0.75" fill="#7b868f"/>
<circle cx="440.8" cy="643.2" r="0.75" fill="#7b868f"/>
<circle cx="456.2" cy="643.2" r="0.75" fill="#7b868f"/>
<circle cx="471.6" cy="643.2" r="0.75" fill="#7b868f"/>
<circle cx="487.1" cy="643.2" r="0.75" fill="#7b868f"/>
<circle cx="502.6" cy="643.2" r="0.75" fill="#7b868f"/>
<circle cx="518.0" cy="643.2" r="0.75" fill="#7b868f"/>
<circle cx="533.5" cy="643.2" r="0.75" fill="#7b868f"/>
<circle cx="548.9" cy="643.2" r="0.75" fill="#7b868f"/>
<circle cx="564.3" cy="643.2" r="0.75" fill="#7b868f"/>
<circle cx="579.8" cy="643.2" r="0.75" fill="#7b868f"/>
<circle cx="595.2" cy="643.2" r="0.75" fill="#7b868f"/>
<circle cx="610.7" cy="643.2" r="0.75" fill="#7b868f"/>
<circle cx="626.1" cy="643.2" r="0.75" fill="#7b868f"/>
<circle cx="641.6" cy="643.2" r="0.75" fill="#7b868f"/>
<circle cx="657.0" cy="643.2" r="0.75" fill="#7b868f"/>
<circle cx="672.5" cy="643.2" r="0.75" fill="#7b868f"/>
<circle cx="688.0" cy="643.2" r="0.75" fill="#7b868f"/>
<circle cx="703.4" cy="643.2" r="0.75" fill="#7b868f"/>
<circle cx="718.8" cy="643.2" r="0.75" fill="#7b868f"/>
<circle cx="734.3" cy="643.2" r="0.75" fill="#7b868f"/>
<circle cx="749.8" cy="643.2" r="0.75" fill="#7b868f"/>
<circle cx="765.2" cy="643.2" r="0.75" fill="#7b868f"/>
<circle cx="780.6" cy="643.2" r="0.75" fill="#7b868f"/>
<circle cx="796.1" cy="643.2" r="0.75" fill="#7b868f"/>
<polygon points="548.4,508.5 530.3,523.3 529.3,522.2 526.8,527.0 532.0,525.5 531.1,524.3 549.2,509.5" fill="#7b868f"/>
<polygon points="532.6,525.1 525.0,539.7 523.7,539.0 523.2,544.4 527.4,541.0 526.1,540.3 533.8,525.7" fill="#7b868f"/>
<polygon points="548.3,525.1 536.9,542.8 535.7,542.1 534.8,547.4 539.3,544.3 538.0,543.5 549.3,525.7" fill="#7b868f"/>
<polygon points="548.2,541.8 543.2,552.4 541.9,551.8 541.6,557.2 545.6,553.6 544.3,553.0 549.4,542.4" fill="#7b868f"/>
</g>
<g clip-path="url(#clipd)">
<circle cx="1092.5" cy="492.5" r="0.75" fill="#7b868f"/>
<circle cx="1108.0" cy="492.5" r="0.75" fill="#7b868f"/>
<circle cx="1123.4" cy="492.5" r="0.75" fill="#7b868f"/>
<circle cx="1138.8" cy="492.5" r="0.75" fill="#7b868f"/>
<circle cx="1154.3" cy="492.5" r="0.75" fill="#7b868f"/>
<circle cx="1169.8" cy="492.5" r="0.75" fill="#7b868f"/>
<circle cx="1185.2" cy="492.5" r="0.75" fill="#7b868f"/>
<circle cx="1200.7" cy="492.5" r="0.75" fill="#7b868f"/>
<circle cx="1216.1" cy="492.5" r="0.75" fill="#7b868f"/>
<circle cx="1231.5" cy="492.5" r="0.75" fill="#7b868f"/>
<circle cx="1247.0" cy="492.5" r="0.75" fill="#7b868f"/>
<circle cx="1262.5" cy="492.5" r="0.75" fill="#7b868f"/>
<circle cx="1277.9" cy="492.5" r="0.75" fill="#7b868f"/>
<circle cx="1293.3" cy="492.5" r="0.75" fill="#7b868f"/>
<circle cx="1308.8" cy="492.5" r="0.75" fill="#7b868f"/>
<circle cx="1324.2" cy="492.5" r="0.75" fill="#7b868f"/>
<circle cx="1339.7" cy="492.5" r="0.75" fill="#7b868f"/>
<circle cx="1355.2" cy="492.5" r="0.75" fill="#7b868f"/>
<circle cx="1370.6" cy="492.5" r="0.75" fill="#7b868f"/>
<circle cx="1386.0" cy="492.5" r="0.75" fill="#7b868f"/>
<circle cx="1401.5" cy="492.5" r="0.75" fill="#7b868f"/>
<circle cx="1417.0" cy="492.5" r="0.75" fill="#7b868f"/>
<circle cx="1432.4" cy="492.5" r="0.75" fill="#7b868f"/>
<circle cx="1447.8" cy="492.5" r="0.75" fill="#7b868f"/>
<circle cx="1463.3" cy="492.5" r="0.75" fill="#7b868f"/>
<circle cx="1478.8" cy="492.5" r="0.75" fill="#7b868f"/>
<circle cx="1494.2" cy="492.5" r="0.75" fill="#7b868f"/>
<circle cx="1509.7" cy="492.5" r="0.75" fill="#7b868f"/>
<circle cx="1525.1" cy="492.5" r="0.75" fill="#7b868f"/>
<circle cx="1540.5" cy="492.5" r="0.75" fill="#7b868f"/>
<circle cx="1556.0" cy="492.5" r="0.75" fill="#7b868f"/>
<circle cx="1571.5" cy="492.5" r="0.75" fill="#7b868f"/>
<circle cx="1586.9" cy="492.5" r="0.75" fill="#7b868f"/>
<circle cx="1602.3" cy="492.5" r="0.75" fill="#7b868f"/>
<circle cx="1617.8" cy="492.5" r="0.75" fill="#7b868f"/>
<circle cx="1633.2" cy="492.5" r="0.75" fill="#7b868f"/>
<circle cx="1648.7" cy="492.5" r="0.75" fill="#7b868f"/>
<circle cx="1664.2" cy="492.5" r="0.75" fill="#7b868f"/>
<circle cx="1679.6" cy="492.5" r="0.75" fill="#7b868f"/>
<circle cx="1092.5" cy="509.2" r="0.75" fill="#7b868f"/>
<circle cx="1108.0" cy="509.2" r="0.75" fill="#7b868f"/>
<circle cx="1123.4" cy="509.2" r="0.75" fill="#7b868f"/>
<circle cx="1138.8" cy="509.2" r="0.75" fill="#7b868f"/>
<circle cx="1154.3" cy="509.2" r="0.75" fill="#7b868f"/>
<polygon points="1169.8,509.7 1169.8,509.7 1169.8,510.8 1173.5,509.2 1169.8,507.7 1169.8,508.8 1169.8,508.8" fill="#7b868f"/>
<polygon points="1185.2,509.9 1186.7,509.9 1186.7,511.4 1191.7,509.2 1186.7,507.1 1186.7,508.6 1185.2,508.6" fill="#7b868f"/>
<polygon points="1200.7,509.9 1203.1,509.9 1203.1,511.4 1208.1,509.2 1203.1,507.1 1203.1,508.6 1200.7,508.6" fill="#7b868f"/>
<polygon points="1216.1,509.9 1217.1,509.9 1217.1,511.4 1222.1,509.2 1217.1,507.1 1217.1,508.6 1216.1,508.6" fill="#7b868f"/>
<polygon points="1231.0,508.9 1225.6,517.7 1224.4,516.9 1223.5,522.2 1228.0,519.1 1226.7,518.3 1232.1,509.6" fill="#7b868f"/>
<polygon points="1246.6,508.7 1243.2,511.4 1242.3,510.2 1239.6,515.0 1244.8,513.6 1244.0,512.4 1247.4,509.8" fill="#7b868f"/>
<polygon points="1262.5,508.6 1259.2,508.6 1259.2,507.1 1254.2,509.2 1259.2,511.4 1259.2,509.9 1262.5,509.9" fill="#7b868f"/>
<polygon points="1277.9,508.6 1274.9,508.6 1274.9,507.1 1269.9,509.2 1274.9,511.4 1274.9,509.9 1277.9,509.9" fill="#7b868f"/>
<polygon points="1293.3,508.6 1291.3,508.6 1291.3,507.1 1286.3,509.2 1291.3,511.4 1291.3,509.9 1293.3,509.9" fill="#7b868f"/>
<polygon points="1308.8,508.6 1308.1,508.6 1308.1,507.1 1303.1,509.2 1308.1,511.4 1308.1,509.9 1308.8,509.9" fill="#7b868f"/>
<polygon points="1324.2,508.7 1324.2,508.7 1324.0,507.4 1319.8,509.8 1324.5,511.1 1324.3,509.8 1324.3,509.8" fill="#7b868f"/>
<polygon points="1339.7,508.9 1339.7,508.9 1339.7,508.0 1336.7,509.2 1339.7,510.5 1339.7,509.6 1339.7,509.6" fill="#7b868f"/>
<polygon points="1355.2,508.9 1355.2,508.9 1355.2,508.4 1353.2,509.2 1355.2,510.1 1355.2,509.6 1355.2,509.6" fill="#7b868f"/>
<polygon points="1370.6,508.9 1370.6,508.9 1370.6,508.4 1368.6,509.2 1370.6,510.1 1370.6,509.6 1370.6,509.6" fill="#7b868f"/>
<polygon points="1386.0,508.9 1386.0,508.9 1386.0,508.4 1384.0,509.2 1386.0,510.1 1386.0,509.6 1386.0,509.6" fill="#7b868f"/>
<polygon points="1401.5,508.9 1401.5,508.9 1401.5,508.6 1400.0,509.2 1401.5,509.9 1401.5,509.6 1401.5,509.6" fill="#7b868f"/>
<polygon points="1417.1,508.9 1417.1,508.9 1417.4,508.2 1414.5,508.2 1416.5,510.3 1416.8,509.6 1416.8,509.6" fill="#7b868f"/>
<polygon points="1432.0,508.8 1412.2,525.2 1411.3,524.1 1408.8,529.0 1414.0,527.4 1413.1,526.2 1432.8,509.7" fill="#7b868f"/>
<polygon points="1447.6,508.7 1431.1,516.3 1430.5,515.0 1426.8,519.0 1432.3,518.8 1431.7,517.5 1448.1,509.8" fill="#7b868f"/>
<polygon points="1463.3,508.6 1452.9,508.6 1452.9,507.1 1447.9,509.2 1452.9,511.4 1452.9,509.9 1463.3,509.9" fill="#7b868f"/>
<polygon points="1478.8,508.6 1468.3,508.6 1468.3,507.1 1463.3,509.2 1468.3,511.4 1468.3,509.9 1478.8,509.9" fill="#7b868f"/>
<polygon points="1494.2,508.6 1483.8,508.6 1483.8,507.1 1478.8,509.2 1483.8,511.4 1483.8,509.9 1494.2,509.9" fill="#7b868f"/>
<polygon points="1509.7,508.6 1499.2,508.6 1499.2,507.1 1494.2,509.2 1499.2,511.4 1499.2,509.9 1509.7,509.9" fill="#7b868f"/>
<polygon points="1525.1,508.6 1514.7,508.6 1514.7,507.1 1509.7,509.2 1514.7,511.4 1514.7,509.9 1525.1,509.9" fill="#7b868f"/>
<polygon points="1540.5,508.6 1530.1,508.6 1530.1,507.1 1525.1,509.2 1530.1,511.4 1530.1,509.9 1540.5,509.9" fill="#7b868f"/>
<polygon points="1556.0,508.6 1545.6,508.6 1545.6,507.1 1540.6,509.2 1545.6,511.4 1545.6,509.9 1556.0,509.9" fill="#7b868f"/>
<polygon points="1571.5,508.6 1561.0,508.6 1561.0,507.1 1556.0,509.2 1561.0,511.4 1561.0,509.9 1571.5,509.9" fill="#7b868f"/>
<polygon points="1586.9,508.6 1576.5,508.6 1576.5,507.1 1571.5,509.2 1576.5,511.4 1576.5,509.9 1586.9,509.9" fill="#7b868f"/>
<polygon points="1602.3,508.6 1591.9,508.6 1591.9,507.1 1586.9,509.2 1591.9,511.4 1591.9,509.9 1602.3,509.9" fill="#7b868f"/>
<polygon points="1617.8,508.6 1607.4,508.6 1607.4,507.1 1602.4,509.2 1607.4,511.4 1607.4,509.9 1617.8,509.9" fill="#7b868f"/>
<polygon points="1633.2,508.6 1622.8,508.6 1622.8,507.1 1617.8,509.2 1622.8,511.4 1622.8,509.9 1633.2,509.9" fill="#7b868f"/>
<polygon points="1648.7,508.6 1638.3,508.6 1638.3,507.1 1633.3,509.2 1638.3,511.4 1638.3,509.9 1648.7,509.9" fill="#7b868f"/>
<polygon points="1664.2,508.6 1653.8,508.6 1653.8,507.1 1648.8,509.2 1653.8,511.4 1653.8,509.9 1664.2,509.9" fill="#7b868f"/>
<polygon points="1679.6,508.6 1669.2,508.6 1669.2,507.1 1664.2,509.2 1669.2,511.4 1669.2,509.9 1679.6,509.9" fill="#7b868f"/>
<circle cx="1092.5" cy="526.0" r="0.75" fill="#7b868f"/>
<circle cx="1108.0" cy="526.0" r="0.75" fill="#7b868f"/>
<circle cx="1123.4" cy="526.0" r="0.75" fill="#7b868f"/>
<polygon points="1138.6,525.7 1138.6,525.7 1138.4,525.4 1137.3,527.0 1139.3,526.6 1139.1,526.3 1139.1,526.3" fill="#7b868f"/>
<polygon points="1154.6,526.6 1154.9,526.4 1155.6,527.7 1158.9,523.4 1153.5,524.0 1154.2,525.3 1154.0,525.4" fill="#7b868f"/>
<polygon points="1170.0,526.6 1172.8,525.3 1173.4,526.7 1177.2,522.7 1171.7,522.8 1172.3,524.1 1169.5,525.4" fill="#7b868f"/>
<polygon points="1185.3,526.6 1191.5,525.2 1191.8,526.6 1196.2,523.4 1190.9,522.5 1191.2,523.9 1185.1,525.4" fill="#7b868f"/>
<polygon points="1200.5,526.6 1207.9,528.3 1207.6,529.7 1213.0,528.8 1208.5,525.6 1208.2,527.1 1200.8,525.4" fill="#7b868f"/>
<polygon points="1215.5,526.2 1217.8,535.3 1216.4,535.7 1219.7,540.0 1220.5,534.6 1219.1,535.0 1216.7,525.8" fill="#7b868f"/>
<polygon points="1230.9,526.0 1230.4,535.8 1228.9,535.7 1230.8,540.8 1233.1,535.9 1231.7,535.8 1232.2,526.0" fill="#7b868f"/>
<polygon points="1246.5,526.1 1246.5,526.1 1245.3,526.3 1247.8,530.0 1248.7,525.7 1247.5,525.9 1247.5,525.9" fill="#7b868f"/>
<circle cx="1262.5" cy="526.0" r="0.75" fill="#7b868f"/>
<polygon points="1277.7,525.7 1277.7,525.7 1277.5,525.4 1276.4,527.0 1278.3,526.6 1278.1,526.3 1278.1,526.3" fill="#7b868f"/>
<polygon points="1293.5,526.4 1293.5,526.4 1293.8,527.3 1296.3,525.0 1292.9,524.7 1293.2,525.6 1293.2,525.6" fill="#7b868f"/>
<polygon points="1309.0,526.6 1309.0,526.6 1309.4,527.9 1313.4,524.5 1308.2,524.1 1308.6,525.4 1308.6,525.4" fill="#7b868f"/>
<polygon points="1324.4,526.6 1326.3,526.1 1326.7,527.5 1330.8,524.0 1325.5,523.4 1325.9,524.8 1324.1,525.4" fill="#7b868f"/>
<polygon points="1339.9,526.6 1343.0,525.8 1343.4,527.2 1347.7,524.0 1342.3,523.2 1342.7,524.6 1339.5,525.4" fill="#7b868f"/>
<polygon points="1355.3,526.6 1360.3,525.8 1360.5,527.3 1365.2,524.4 1359.9,523.1 1360.1,524.5 1355.0,525.4" fill="#7b868f"/>
<polygon points="1370.6,526.6 1375.6,526.6 1375.6,528.1 1380.6,526.0 1375.6,523.9 1375.6,525.4 1370.6,525.4" fill="#7b868f"/>
<polygon points="1385.9,526.6 1389.0,527.5 1388.6,528.9 1394.0,528.3 1389.7,524.9 1389.3,526.3 1386.2,525.4" fill="#7b868f"/>
<polygon points="1401.0,526.4 1401.9,527.5 1400.7,528.4 1405.5,531.0 1404.0,525.8 1402.9,526.7 1402.0,525.6" fill="#7b868f"/>
<polygon points="1416.4,525.7 1407.5,541.6 1406.2,540.9 1405.7,546.3 1409.9,543.0 1408.6,542.2 1417.5,526.3" fill="#7b868f"/>
<polygon points="1431.9,525.6 1422.6,539.5 1421.4,538.7 1420.4,544.0 1424.9,541.0 1423.7,540.2 1432.9,526.4" fill="#7b868f"/>
<polygon points="1447.5,525.5 1438.9,532.0 1438.1,530.8 1435.3,535.5 1440.6,534.1 1439.7,533.0 1448.2,526.5" fill="#7b868f"/>
<polygon points="1463.2,525.4 1458.9,526.1 1458.7,524.7 1454.1,527.6 1459.4,528.8 1459.1,527.4 1463.4,526.6" fill="#7b868f"/>
<polygon points="1478.7,525.4 1476.5,525.5 1476.4,524.0 1471.5,526.4 1476.7,528.2 1476.6,526.8 1478.8,526.6" fill="#7b868f"/>
<polygon points="1494.2,525.4 1492.0,525.5 1491.9,524.0 1487.0,526.4 1492.1,528.2 1492.0,526.8 1494.2,526.6" fill="#7b868f"/>
<polygon points="1509.6,525.4 1507.4,525.5 1507.3,524.0 1502.5,526.4 1507.6,528.2 1507.5,526.8 1509.7,526.6" fill="#7b868f"/>
<polygon points="1525.1,525.4 1522.9,525.5 1522.8,524.0 1517.9,526.4 1523.0,528.2 1522.9,526.8 1525.1,526.6" fill="#7b868f"/>
<polygon points="1540.5,525.4 1538.3,525.5 1538.2,524.0 1533.3,526.4 1538.5,528.2 1538.4,526.8 1540.6,526.6" fill="#7b868f"/>
<polygon points="1556.0,525.4 1553.8,525.5 1553.7,524.0 1548.8,526.4 1553.9,528.2 1553.8,526.8 1556.0,526.6" fill="#7b868f"/>
<polygon points="1571.4,525.4 1569.2,525.5 1569.1,524.0 1564.2,526.4 1569.4,528.2 1569.3,526.8 1571.5,526.6" fill="#7b868f"/>
<polygon points="1586.9,525.4 1584.7,525.5 1584.6,524.0 1579.7,526.4 1584.8,528.2 1584.7,526.8 1586.9,526.6" fill="#7b868f"/>
<polygon points="1602.3,525.4 1600.1,525.5 1600.0,524.0 1595.1,526.4 1600.3,528.2 1600.2,526.8 1602.4,526.6" fill="#7b868f"/>
<polygon points="1617.8,525.4 1615.6,525.5 1615.5,524.0 1610.6,526.4 1615.7,528.2 1615.6,526.8 1617.8,526.6" fill="#7b868f"/>
<polygon points="1633.2,525.4 1631.0,525.5 1630.9,524.0 1626.0,526.4 1631.2,528.2 1631.1,526.8 1633.3,526.6" fill="#7b868f"/>
<polygon points="1648.7,525.4 1646.5,525.5 1646.4,524.0 1641.5,526.4 1646.6,528.2 1646.5,526.8 1648.7,526.6" fill="#7b868f"/>
<polygon points="1664.1,525.4 1661.9,525.5 1661.8,524.0 1657.0,526.4 1662.1,528.2 1662.0,526.8 1664.2,526.6" fill="#7b868f"/>
<polygon points="1679.6,525.4 1677.4,525.5 1677.3,524.0 1672.4,526.4 1677.5,528.2 1677.4,526.8 1679.6,526.6" fill="#7b868f"/>
<circle cx="1092.5" cy="542.8" r="0.75" fill="#7b868f"/>
<circle cx="1108.0" cy="542.8" r="0.75" fill="#7b868f"/>
<polygon points="1123.1,542.5 1123.1,542.5 1123.0,542.3 1122.4,543.8 1123.8,543.2 1123.7,543.0 1123.7,543.0" fill="#7b868f"/>
<polygon points="1139.2,543.0 1139.2,543.0 1139.7,543.4 1140.3,540.8 1138.0,542.1 1138.5,542.5 1138.5,542.5" fill="#7b868f"/>
<polygon points="1154.7,543.1 1154.7,543.1 1155.7,544.0 1157.3,539.5 1152.9,541.5 1153.9,542.4 1153.9,542.4" fill="#7b868f"/>
<polygon points="1170.3,543.1 1171.9,541.0 1173.1,541.8 1174.3,536.5 1169.7,539.3 1170.8,540.2 1169.2,542.4" fill="#7b868f"/>
<polygon points="1185.6,543.3 1188.3,541.1 1189.2,542.2 1191.8,537.5 1186.6,538.9 1187.5,540.1 1184.8,542.2" fill="#7b868f"/>
<polygon points="1200.4,543.3 1205.7,546.0 1205.0,547.3 1210.5,547.6 1206.9,543.5 1206.3,544.8 1200.9,542.2" fill="#7b868f"/>
<polygon points="1215.5,542.9 1219.6,560.0 1218.2,560.4 1221.4,564.8 1222.3,559.4 1220.9,559.7 1216.7,542.6" fill="#7b868f"/>
<polygon points="1231.0,543.1 1236.5,551.9 1235.3,552.6 1239.8,555.8 1238.9,550.4 1237.6,551.2 1232.1,542.4" fill="#7b868f"/>
<polygon points="1246.7,543.3 1251.4,546.3 1250.7,547.5 1256.0,548.5 1252.9,544.0 1252.1,545.2 1247.3,542.2" fill="#7b868f"/>
<polygon points="1262.4,543.4 1267.2,543.8 1267.1,545.2 1272.2,543.5 1267.4,541.1 1267.3,542.5 1262.5,542.1" fill="#7b868f"/>
<polygon points="1277.9,543.4 1282.7,543.2 1282.8,544.6 1287.7,542.2 1282.6,540.4 1282.7,541.9 1277.9,542.1" fill="#7b868f"/>
<polygon points="1293.5,543.4 1297.9,542.6 1298.2,544.1 1302.8,541.1 1297.5,539.9 1297.7,541.3 1293.2,542.1" fill="#7b868f"/>
<polygon points="1309.0,543.4 1313.8,541.7 1314.3,543.1 1318.3,539.5 1312.9,539.1 1313.4,540.5 1308.6,542.1" fill="#7b868f"/>
<polygon points="1324.5,543.3 1329.8,540.9 1330.4,542.2 1334.0,538.1 1328.6,538.4 1329.2,539.7 1324.0,542.2" fill="#7b868f"/>
<polygon points="1340.0,543.3 1347.0,539.9 1347.7,541.2 1351.2,537.0 1345.8,537.4 1346.4,538.7 1339.4,542.2" fill="#7b868f"/>
<polygon points="1355.4,543.4 1362.9,540.8 1363.4,542.2 1367.5,538.6 1362.0,538.2 1362.5,539.6 1354.9,542.1" fill="#7b868f"/>
<polygon points="1370.6,543.4 1375.4,543.5 1375.3,545.0 1380.4,543.0 1375.5,540.8 1375.4,542.2 1370.6,542.1" fill="#7b868f"/>
<polygon points="1385.5,543.2 1388.0,546.2 1386.9,547.1 1391.6,549.6 1390.1,544.4 1389.0,545.4 1386.6,542.3" fill="#7b868f"/>
<polygon points="1400.9,542.6 1397.7,555.4 1396.3,555.1 1397.2,560.5 1400.4,556.1 1399.0,555.7 1402.1,542.9" fill="#7b868f"/>
<polygon points="1416.4,542.4 1409.7,555.0 1408.4,554.3 1408.0,559.8 1412.1,556.3 1410.9,555.6 1417.5,543.1" fill="#7b868f"/>
<polygon points="1431.8,542.5 1426.8,553.1 1425.5,552.4 1425.2,557.9 1429.2,554.2 1427.9,553.6 1433.0,543.0" fill="#7b868f"/>
<polygon points="1447.4,542.7 1447.4,542.7 1446.4,542.5 1447.3,546.2 1449.3,543.0 1448.3,542.8 1448.3,542.8" fill="#7b868f"/>
<polygon points="1463.1,542.4 1463.1,542.4 1462.7,541.7 1460.8,544.2 1463.9,543.8 1463.5,543.1 1463.5,543.1" fill="#7b868f"/>
<polygon points="1478.7,542.4 1478.7,542.4 1478.6,541.7 1476.2,543.1 1478.9,543.8 1478.8,543.1 1478.8,543.1" fill="#7b868f"/>
<polygon points="1494.1,542.4 1494.1,542.4 1494.0,541.7 1491.7,543.1 1494.4,543.8 1494.3,543.1 1494.3,543.1" fill="#7b868f"/>
<polygon points="1509.6,542.4 1509.6,542.4 1509.5,541.7 1507.2,543.1 1509.8,543.8 1509.7,543.1 1509.7,543.1" fill="#7b868f"/>
<polygon points="1525.0,542.4 1525.0,542.4 1524.9,541.7 1522.6,543.1 1525.3,543.8 1525.2,543.1 1525.2,543.1" fill="#7b868f"/>
<polygon points="1540.5,542.4 1540.5,542.4 1540.4,541.7 1538.0,543.1 1540.7,543.8 1540.6,543.1 1540.6,543.1" fill="#7b868f"/>
<polygon points="1555.9,542.4 1555.9,542.4 1555.8,541.7 1553.5,543.1 1556.2,543.8 1556.1,543.1 1556.1,543.1" fill="#7b868f"/>
<polygon points="1571.4,542.4 1571.4,542.4 1571.3,541.7 1569.0,543.1 1571.6,543.8 1571.5,543.1 1571.5,543.1" fill="#7b868f"/>
<polygon points="1586.8,542.4 1586.8,542.4 1586.7,541.7 1584.4,543.1 1587.1,543.8 1587.0,543.1 1587.0,543.1" fill="#7b868f"/>
<polygon points="1602.3,542.4 1602.3,542.4 1602.2,541.7 1599.8,543.1 1602.5,543.8 1602.4,543.1 1602.4,543.1" fill="#7b868f"/>
<polygon points="1617.7,542.4 1617.7,542.4 1617.6,541.7 1615.3,543.1 1618.0,543.8 1617.9,543.1 1617.9,543.1" fill="#7b868f"/>
<polygon points="1633.2,542.4 1633.2,542.4 1633.1,541.7 1630.8,543.1 1633.4,543.8 1633.3,543.1 1633.3,543.1" fill="#7b868f"/>
<polygon points="1648.6,542.4 1648.6,542.4 1648.5,541.7 1646.2,543.1 1648.9,543.8 1648.8,543.1 1648.8,543.1" fill="#7b868f"/>
<polygon points="1664.1,542.4 1664.1,542.4 1664.0,541.7 1661.7,543.1 1664.3,543.8 1664.2,543.1 1664.2,543.1" fill="#7b868f"/>
<polygon points="1679.5,542.4 1679.5,542.4 1679.4,541.7 1677.1,543.1 1679.8,543.8 1679.7,543.1 1679.7,543.1" fill="#7b868f"/>
<circle cx="1092.5" cy="559.5" r="0.75" fill="#7b868f"/>
<circle cx="1108.0" cy="559.5" r="0.75" fill="#7b868f"/>
<circle cx="1123.4" cy="559.5" r="0.75" fill="#7b868f"/>
<polygon points="1139.2,559.6 1139.2,559.6 1139.5,559.7 1139.3,558.0 1138.2,559.3 1138.5,559.4 1138.5,559.4" fill="#7b868f"/>
<polygon points="1154.8,559.5 1154.8,559.5 1156.0,559.5 1154.3,555.5 1152.6,559.5 1153.8,559.5 1153.8,559.5" fill="#7b868f"/>
<polygon points="1170.4,559.3 1170.2,558.9 1171.6,558.4 1167.8,554.5 1167.7,559.9 1169.0,559.4 1169.1,559.7" fill="#7b868f"/>
<polygon points="1185.7,559.1 1184.6,557.5 1185.8,556.7 1181.2,553.8 1182.4,559.1 1183.5,558.3 1184.7,559.9" fill="#7b868f"/>
<polygon points="1200.4,558.9 1198.5,559.6 1198.0,558.3 1194.1,562.0 1199.5,562.2 1199.0,560.8 1200.9,560.1" fill="#7b868f"/>
<polygon points="1215.5,559.5 1215.7,575.0 1214.2,575.0 1216.4,580.0 1218.4,575.0 1217.0,575.0 1216.7,559.5" fill="#7b868f"/>
<polygon points="1231.0,559.9 1237.0,567.5 1235.8,568.4 1240.5,571.0 1239.1,565.8 1238.0,566.7 1232.1,559.1" fill="#7b868f"/>
<polygon points="1246.7,560.1 1252.9,562.9 1252.3,564.2 1257.7,564.4 1254.0,560.4 1253.4,561.7 1247.3,558.9" fill="#7b868f"/>
<polygon points="1262.4,560.1 1268.9,561.1 1268.7,562.5 1274.0,561.1 1269.3,558.3 1269.1,559.8 1262.5,558.9" fill="#7b868f"/>
<polygon points="1277.9,560.1 1283.6,560.1 1283.6,561.6 1288.6,559.5 1283.6,557.4 1283.6,558.9 1277.9,558.9" fill="#7b868f"/>
<polygon points="1293.4,560.1 1299.5,559.3 1299.7,560.7 1304.3,557.9 1299.1,556.5 1299.3,558.0 1293.3,558.9" fill="#7b868f"/>
<polygon points="1309.0,560.1 1313.6,558.9 1314.0,560.3 1318.3,557.0 1312.9,556.2 1313.3,557.6 1308.6,558.9" fill="#7b868f"/>
<polygon points="1324.6,560.0 1329.4,557.0 1330.1,558.2 1333.2,553.8 1327.9,554.7 1328.7,555.9 1323.9,559.0" fill="#7b868f"/>
<polygon points="1340.2,559.9 1345.0,554.6 1346.1,555.6 1347.9,550.5 1343.0,552.8 1344.1,553.8 1339.2,559.1" fill="#7b868f"/>
<polygon points="1355.6,560.0 1360.7,555.8 1361.6,556.9 1364.2,552.1 1359.0,553.7 1359.9,554.8 1354.7,559.0" fill="#7b868f"/>
<polygon points="1370.2,560.0 1372.1,561.3 1371.3,562.5 1376.6,563.5 1373.6,559.0 1372.8,560.2 1371.0,559.0" fill="#7b868f"/>
<polygon points="1385.4,559.4 1382.8,572.9 1381.3,572.6 1382.5,577.9 1385.5,573.4 1384.0,573.1 1386.7,559.6" fill="#7b868f"/>
<polygon points="1400.9,559.3 1393.4,580.2 1392.0,579.7 1392.3,585.1 1396.0,581.1 1394.6,580.6 1402.1,559.7" fill="#7b868f"/>
<polygon points="1416.3,559.3 1409.5,578.2 1408.2,577.7 1408.5,583.1 1412.1,579.1 1410.8,578.6 1417.6,559.7" fill="#7b868f"/>
<polygon points="1432.1,560.1 1434.8,561.3 1434.2,562.6 1439.6,562.8 1435.9,558.8 1435.3,560.1 1432.7,558.9" fill="#7b868f"/>
<polygon points="1447.8,560.1 1453.3,560.1 1453.3,561.6 1458.3,559.5 1453.3,557.4 1453.3,558.9 1447.8,558.9" fill="#7b868f"/>
<polygon points="1463.3,560.1 1468.5,560.1 1468.5,561.6 1473.5,559.5 1468.5,557.4 1468.5,558.9 1463.3,558.9" fill="#7b868f"/>
<polygon points="1478.8,560.1 1484.0,560.1 1484.0,561.6 1489.0,559.5 1484.0,557.4 1484.0,558.9 1478.8,558.9" fill="#7b868f"/>
<polygon points="1494.2,560.1 1499.4,560.1 1499.4,561.6 1504.4,559.5 1499.4,557.4 1499.4,558.9 1494.2,558.9" fill="#7b868f"/>
<polygon points="1509.7,560.1 1514.9,560.1 1514.9,561.6 1519.9,559.5 1514.9,557.4 1514.9,558.9 1509.7,558.9" fill="#7b868f"/>
<polygon points="1525.1,560.1 1530.3,560.1 1530.3,561.6 1535.3,559.5 1530.3,557.4 1530.3,558.9 1525.1,558.9" fill="#7b868f"/>
<polygon points="1540.5,560.1 1545.8,560.1 1545.8,561.6 1550.8,559.5 1545.8,557.4 1545.8,558.9 1540.5,558.9" fill="#7b868f"/>
<polygon points="1556.0,560.1 1561.2,560.1 1561.2,561.6 1566.2,559.5 1561.2,557.4 1561.2,558.9 1556.0,558.9" fill="#7b868f"/>
<polygon points="1571.5,560.1 1576.7,560.1 1576.7,561.6 1581.7,559.5 1576.7,557.4 1576.7,558.9 1571.5,558.9" fill="#7b868f"/>
<polygon points="1586.9,560.1 1592.1,560.1 1592.1,561.6 1597.1,559.5 1592.1,557.4 1592.1,558.9 1586.9,558.9" fill="#7b868f"/>
<polygon points="1602.3,560.1 1607.5,560.1 1607.5,561.6 1612.5,559.5 1607.5,557.4 1607.5,558.9 1602.3,558.9" fill="#7b868f"/>
<polygon points="1617.8,560.1 1623.0,560.1 1623.0,561.6 1628.0,559.5 1623.0,557.4 1623.0,558.9 1617.8,558.9" fill="#7b868f"/>
<polygon points="1633.2,560.1 1638.5,560.1 1638.5,561.6 1643.5,559.5 1638.5,557.4 1638.5,558.9 1633.2,558.9" fill="#7b868f"/>
<polygon points="1648.7,560.1 1653.9,560.1 1653.9,561.6 1658.9,559.5 1653.9,557.4 1653.9,558.9 1648.7,558.9" fill="#7b868f"/>
<polygon points="1664.2,560.1 1669.4,560.1 1669.4,561.6 1674.4,559.5 1669.4,557.4 1669.4,558.9 1664.2,558.9" fill="#7b868f"/>
<polygon points="1679.6,560.1 1684.8,560.1 1684.8,561.6 1689.8,559.5 1684.8,557.4 1684.8,558.9 1679.6,558.9" fill="#7b868f"/>
<circle cx="1092.5" cy="576.2" r="0.75" fill="#7b868f"/>
<circle cx="1108.0" cy="576.2" r="0.75" fill="#7b868f"/>
<circle cx="1123.4" cy="576.2" r="0.75" fill="#7b868f"/>
<circle cx="1138.8" cy="576.2" r="0.75" fill="#7b868f"/>
<polygon points="1154.0,576.5 1154.0,576.5 1153.9,576.7 1155.3,577.2 1154.7,575.8 1154.6,576.0 1154.6,576.0" fill="#7b868f"/>
<polygon points="1169.5,576.6 1169.5,576.6 1168.9,577.5 1172.8,578.2 1170.6,575.0 1170.0,575.9 1170.0,575.9" fill="#7b868f"/>
<polygon points="1185.0,576.9 1186.9,577.6 1186.4,578.9 1191.8,578.8 1187.9,575.0 1187.4,576.4 1185.4,575.6" fill="#7b868f"/>
<polygon points="1200.4,575.7 1197.6,576.9 1197.0,575.6 1193.2,579.5 1198.7,579.4 1198.1,578.1 1200.9,576.8" fill="#7b868f"/>
<polygon points="1215.7,575.8 1214.8,576.5 1213.9,575.4 1211.5,580.2 1216.7,578.6 1215.7,577.5 1216.5,576.7" fill="#7b868f"/>
<polygon points="1232.1,576.2 1232.1,576.2 1233.2,576.1 1231.2,572.2 1229.9,576.4 1231.0,576.3 1231.0,576.3" fill="#7b868f"/>
<polygon points="1246.7,576.8 1248.0,577.6 1247.3,578.9 1252.7,579.5 1249.4,575.2 1248.7,576.5 1247.3,575.7" fill="#7b868f"/>
<polygon points="1262.4,576.9 1265.6,577.2 1265.5,578.7 1270.7,577.0 1265.9,574.5 1265.7,575.9 1262.5,575.6" fill="#7b868f"/>
<polygon points="1277.9,576.9 1281.1,576.9 1281.1,578.4 1286.1,576.2 1281.1,574.1 1281.1,575.6 1277.9,575.6" fill="#7b868f"/>
<polygon points="1293.3,576.9 1296.0,576.9 1296.0,578.4 1301.0,576.2 1296.0,574.1 1296.0,575.6 1293.3,575.6" fill="#7b868f"/>
<polygon points="1308.9,576.9 1310.0,576.7 1310.2,578.1 1314.8,575.2 1309.5,574.0 1309.8,575.4 1308.7,575.6" fill="#7b868f"/>
<polygon points="1324.6,576.8 1324.6,576.8 1325.3,577.9 1328.2,573.8 1323.2,574.6 1323.9,575.7 1323.9,575.7" fill="#7b868f"/>
<polygon points="1340.3,576.1 1340.3,576.1 1341.8,575.9 1338.9,571.2 1337.6,576.5 1339.0,576.3 1339.1,576.4" fill="#7b868f"/>
<polygon points="1355.7,575.9 1351.6,568.8 1352.9,568.0 1348.6,564.8 1349.2,570.1 1350.5,569.4 1354.6,576.6" fill="#7b868f"/>
<polygon points="1370.0,575.9 1361.8,589.3 1360.6,588.6 1359.8,594.0 1364.2,590.8 1363.0,590.0 1371.2,576.6" fill="#7b868f"/>
<polygon points="1385.5,575.9 1376.7,592.0 1375.4,591.3 1374.8,596.6 1379.1,593.3 1377.8,592.6 1386.6,576.6" fill="#7b868f"/>
<polygon points="1400.9,576.0 1393.8,591.8 1392.4,591.2 1392.3,596.6 1396.3,593.0 1394.9,592.4 1402.1,576.5" fill="#7b868f"/>
<polygon points="1417.0,576.9 1427.4,576.9 1427.4,578.4 1432.4,576.2 1427.4,574.1 1427.4,575.6 1417.0,575.6" fill="#7b868f"/>
<polygon points="1432.4,576.9 1442.8,576.9 1442.8,578.4 1447.8,576.2 1442.8,574.1 1442.8,575.6 1432.4,575.6" fill="#7b868f"/>
<polygon points="1447.8,576.9 1458.2,576.9 1458.2,578.4 1463.2,576.2 1458.2,574.1 1458.2,575.6 1447.8,575.6" fill="#7b868f"/>
<polygon points="1463.3,576.9 1473.7,576.9 1473.7,578.4 1478.7,576.2 1473.7,574.1 1473.7,575.6 1463.3,575.6" fill="#7b868f"/>
<polygon points="1478.8,576.9 1489.2,576.9 1489.2,578.4 1494.2,576.2 1489.2,574.1 1489.2,575.6 1478.8,575.6" fill="#7b868f"/>
<polygon points="1494.2,576.9 1504.6,576.9 1504.6,578.4 1509.6,576.2 1504.6,574.1 1504.6,575.6 1494.2,575.6" fill="#7b868f"/>
<polygon points="1509.7,576.9 1520.1,576.9 1520.1,578.4 1525.1,576.2 1520.1,574.1 1520.1,575.6 1509.7,575.6" fill="#7b868f"/>
<polygon points="1525.1,576.9 1535.5,576.9 1535.5,578.4 1540.5,576.2 1535.5,574.1 1535.5,575.6 1525.1,575.6" fill="#7b868f"/>
<polygon points="1540.5,576.9 1551.0,576.9 1551.0,578.4 1556.0,576.2 1551.0,574.1 1551.0,575.6 1540.5,575.6" fill="#7b868f"/>
<polygon points="1556.0,576.9 1566.4,576.9 1566.4,578.4 1571.4,576.2 1566.4,574.1 1566.4,575.6 1556.0,575.6" fill="#7b868f"/>
<polygon points="1571.5,576.9 1581.9,576.9 1581.9,578.4 1586.9,576.2 1581.9,574.1 1581.9,575.6 1571.5,575.6" fill="#7b868f"/>
<polygon points="1586.9,576.9 1597.3,576.9 1597.3,578.4 1602.3,576.2 1597.3,574.1 1597.3,575.6 1586.9,575.6" fill="#7b868f"/>
<polygon points="1602.3,576.9 1612.8,576.9 1612.8,578.4 1617.8,576.2 1612.8,574.1 1612.8,575.6 1602.3,575.6" fill="#7b868f"/>
<polygon points="1617.8,576.9 1628.2,576.9 1628.2,578.4 1633.2,576.2 1628.2,574.1 1628.2,575.6 1617.8,575.6" fill="#7b868f"/>
<polygon points="1633.2,576.9 1643.7,576.9 1643.7,578.4 1648.7,576.2 1643.7,574.1 1643.7,575.6 1633.2,575.6" fill="#7b868f"/>
<polygon points="1648.7,576.9 1659.1,576.9 1659.1,578.4 1664.1,576.2 1659.1,574.1 1659.1,575.6 1648.7,575.6" fill="#7b868f"/>
<polygon points="1664.2,576.9 1674.6,576.9 1674.6,578.4 1679.6,576.2 1674.6,574.1 1674.6,575.6 1664.2,575.6" fill="#7b868f"/>
<polygon points="1679.6,576.9 1690.0,576.9 1690.0,578.4 1695.0,576.2 1690.0,574.1 1690.0,575.6 1679.6,575.6" fill="#7b868f"/>
<circle cx="1092.5" cy="593.0" r="0.75" fill="#7b868f"/>
<circle cx="1108.0" cy="593.0" r="0.75" fill="#7b868f"/>
<circle cx="1123.4" cy="593.0" r="0.75" fill="#7b868f"/>
<circle cx="1138.8" cy="593.0" r="0.75" fill="#7b868f"/>
<circle cx="1154.3" cy="593.0" r="0.75" fill="#7b868f"/>
<circle cx="1169.8" cy="593.0" r="0.75" fill="#7b868f"/>
<circle cx="1185.2" cy="593.0" r="0.75" fill="#7b868f"/>
<circle cx="1200.7" cy="593.0" r="0.75" fill="#7b868f"/>
<circle cx="1216.1" cy="593.0" r="0.75" fill="#7b868f"/>
<circle cx="1231.5" cy="593.0" r="0.75" fill="#7b868f"/>
<circle cx="1247.0" cy="593.0" r="0.75" fill="#7b868f"/>
<circle cx="1262.5" cy="593.0" r="0.75" fill="#7b868f"/>
<circle cx="1277.9" cy="593.0" r="0.75" fill="#7b868f"/>
<circle cx="1293.3" cy="593.0" r="0.75" fill="#7b868f"/>
<circle cx="1308.8" cy="593.0" r="0.75" fill="#7b868f"/>
<circle cx="1324.2" cy="593.0" r="0.75" fill="#7b868f"/>
<circle cx="1339.7" cy="593.0" r="0.75" fill="#7b868f"/>
<circle cx="1355.2" cy="593.0" r="0.75" fill="#7b868f"/>
<polygon points="1370.2,592.7 1370.2,592.7 1369.3,592.2 1368.6,596.0 1371.9,593.8 1371.0,593.3 1371.0,593.3" fill="#7b868f"/>
<polygon points="1386.3,592.7 1386.3,592.7 1386.9,592.2 1384.0,591.0 1385.2,593.8 1385.8,593.3 1385.8,593.3" fill="#7b868f"/>
<polygon points="1401.8,593.5 1401.8,593.5 1402.3,594.7 1405.5,591.0 1400.7,591.3 1401.2,592.5 1401.2,592.5" fill="#7b868f"/>
<polygon points="1417.0,593.6 1420.0,593.6 1420.0,595.1 1425.0,593.0 1420.0,590.9 1420.0,592.4 1417.0,592.4" fill="#7b868f"/>
<polygon points="1432.4,593.6 1435.4,593.6 1435.4,595.1 1440.4,593.0 1435.4,590.9 1435.4,592.4 1432.4,592.4" fill="#7b868f"/>
<polygon points="1447.8,593.6 1450.8,593.6 1450.8,595.1 1455.8,593.0 1450.8,590.9 1450.8,592.4 1447.8,592.4" fill="#7b868f"/>
<polygon points="1463.3,593.6 1466.3,593.6 1466.3,595.1 1471.3,593.0 1466.3,590.9 1466.3,592.4 1463.3,592.4" fill="#7b868f"/>
<polygon points="1478.8,593.6 1481.8,593.6 1481.8,595.1 1486.8,593.0 1481.8,590.9 1481.8,592.4 1478.8,592.4" fill="#7b868f"/>
<polygon points="1494.2,593.6 1497.2,593.6 1497.2,595.1 1502.2,593.0 1497.2,590.9 1497.2,592.4 1494.2,592.4" fill="#7b868f"/>
<polygon points="1509.7,593.6 1512.7,593.6 1512.7,595.1 1517.7,593.0 1512.7,590.9 1512.7,592.4 1509.7,592.4" fill="#7b868f"/>
<polygon points="1525.1,593.6 1528.1,593.6 1528.1,595.1 1533.1,593.0 1528.1,590.9 1528.1,592.4 1525.1,592.4" fill="#7b868f"/>
<polygon points="1540.5,593.6 1543.5,593.6 1543.5,595.1 1548.5,593.0 1543.5,590.9 1543.5,592.4 1540.5,592.4" fill="#7b868f"/>
<polygon points="1556.0,593.6 1559.0,593.6 1559.0,595.1 1564.0,593.0 1559.0,590.9 1559.0,592.4 1556.0,592.4" fill="#7b868f"/>
<polygon points="1571.5,593.6 1574.5,593.6 1574.5,595.1 1579.5,593.0 1574.5,590.9 1574.5,592.4 1571.5,592.4" fill="#7b868f"/>
<polygon points="1586.9,593.6 1589.9,593.6 1589.9,595.1 1594.9,593.0 1589.9,590.9 1589.9,592.4 1586.9,592.4" fill="#7b868f"/>
<polygon points="1602.3,593.6 1605.3,593.6 1605.3,595.1 1610.3,593.0 1605.3,590.9 1605.3,592.4 1602.3,592.4" fill="#7b868f"/>
<polygon points="1617.8,593.6 1620.8,593.6 1620.8,595.1 1625.8,593.0 1620.8,590.9 1620.8,592.4 1617.8,592.4" fill="#7b868f"/>
<polygon points="1633.2,593.6 1636.2,593.6 1636.2,595.1 1641.2,593.0 1636.2,590.9 1636.2,592.4 1633.2,592.4" fill="#7b868f"/>
<polygon points="1648.7,593.6 1651.7,593.6 1651.7,595.1 1656.7,593.0 1651.7,590.9 1651.7,592.4 1648.7,592.4" fill="#7b868f"/>
<polygon points="1664.2,593.6 1667.2,593.6 1667.2,595.1 1672.2,593.0 1667.2,590.9 1667.2,592.4 1664.2,592.4" fill="#7b868f"/>
<polygon points="1679.6,593.6 1682.6,593.6 1682.6,595.1 1687.6,593.0 1682.6,590.9 1682.6,592.4 1679.6,592.4" fill="#7b868f"/>
<circle cx="1092.5" cy="609.8" r="0.75" fill="#7b868f"/>
<circle cx="1108.0" cy="609.8" r="0.75" fill="#7b868f"/>
<circle cx="1123.4" cy="609.8" r="0.75" fill="#7b868f"/>
<circle cx="1138.8" cy="609.8" r="0.75" fill="#7b868f"/>
<circle cx="1154.3" cy="609.8" r="0.75" fill="#7b868f"/>
<circle cx="1169.8" cy="609.8" r="0.75" fill="#7b868f"/>
<circle cx="1185.2" cy="609.8" r="0.75" fill="#7b868f"/>
<circle cx="1200.7" cy="609.8" r="0.75" fill="#7b868f"/>
<circle cx="1216.1" cy="609.8" r="0.75" fill="#7b868f"/>
<circle cx="1231.5" cy="609.8" r="0.75" fill="#7b868f"/>
<circle cx="1247.0" cy="609.8" r="0.75" fill="#7b868f"/>
<circle cx="1262.5" cy="609.8" r="0.75" fill="#7b868f"/>
<circle cx="1277.9" cy="609.8" r="0.75" fill="#7b868f"/>
<circle cx="1293.3" cy="609.8" r="0.75" fill="#7b868f"/>
<circle cx="1308.8" cy="609.8" r="0.75" fill="#7b868f"/>
<circle cx="1324.2" cy="609.8" r="0.75" fill="#7b868f"/>
<circle cx="1339.7" cy="609.8" r="0.75" fill="#7b868f"/>
<circle cx="1355.2" cy="609.8" r="0.75" fill="#7b868f"/>
<polygon points="1370.6,610.1 1370.6,610.1 1370.6,610.2 1371.6,609.8 1370.6,609.3 1370.6,609.4 1370.6,609.4" fill="#7b868f"/>
<polygon points="1386.0,610.1 1386.0,610.1 1386.0,611.0 1389.0,609.8 1386.0,608.5 1386.0,609.4 1386.0,609.4" fill="#7b868f"/>
<polygon points="1401.5,610.4 1401.5,610.4 1401.5,611.9 1406.5,609.8 1401.5,607.6 1401.5,609.1 1401.5,609.1" fill="#7b868f"/>
<polygon points="1417.0,610.4 1420.5,610.4 1420.5,611.9 1425.5,609.8 1420.5,607.6 1420.5,609.1 1417.0,609.1" fill="#7b868f"/>
<polygon points="1432.4,610.4 1435.9,610.4 1435.9,611.9 1440.9,609.8 1435.9,607.6 1435.9,609.1 1432.4,609.1" fill="#7b868f"/>
<polygon points="1447.8,610.4 1451.3,610.4 1451.3,611.9 1456.3,609.8 1451.3,607.6 1451.3,609.1 1447.8,609.1" fill="#7b868f"/>
<polygon points="1463.3,610.4 1466.8,610.4 1466.8,611.9 1471.8,609.8 1466.8,607.6 1466.8,609.1 1463.3,609.1" fill="#7b868f"/>
<polygon points="1478.8,610.4 1482.2,610.4 1482.2,611.9 1487.2,609.8 1482.2,607.6 1482.2,609.1 1478.8,609.1" fill="#7b868f"/>
<polygon points="1494.2,610.4 1497.7,610.4 1497.7,611.9 1502.7,609.8 1497.7,607.6 1497.7,609.1 1494.2,609.1" fill="#7b868f"/>
<polygon points="1509.7,610.4 1513.2,610.4 1513.2,611.9 1518.2,609.8 1513.2,607.6 1513.2,609.1 1509.7,609.1" fill="#7b868f"/>
<polygon points="1525.1,610.4 1528.6,610.4 1528.6,611.9 1533.6,609.8 1528.6,607.6 1528.6,609.1 1525.1,609.1" fill="#7b868f"/>
<polygon points="1540.5,610.4 1544.0,610.4 1544.0,611.9 1549.0,609.8 1544.0,607.6 1544.0,609.1 1540.5,609.1" fill="#7b868f"/>
<polygon points="1556.0,610.4 1559.5,610.4 1559.5,611.9 1564.5,609.8 1559.5,607.6 1559.5,609.1 1556.0,609.1" fill="#7b868f"/>
<polygon points="1571.5,610.4 1575.0,610.4 1575.0,611.9 1580.0,609.8 1575.0,607.6 1575.0,609.1 1571.5,609.1" fill="#7b868f"/>
<polygon points="1586.9,610.4 1590.4,610.4 1590.4,611.9 1595.4,609.8 1590.4,607.6 1590.4,609.1 1586.9,609.1" fill="#7b868f"/>
<polygon points="1602.3,610.4 1605.8,610.4 1605.8,611.9 1610.8,609.8 1605.8,607.6 1605.8,609.1 1602.3,609.1" fill="#7b868f"/>
<polygon points="1617.8,610.4 1621.3,610.4 1621.3,611.9 1626.3,609.8 1621.3,607.6 1621.3,609.1 1617.8,609.1" fill="#7b868f"/>
<polygon points="1633.2,610.4 1636.8,610.4 1636.8,611.9 1641.8,609.8 1636.8,607.6 1636.8,609.1 1633.2,609.1" fill="#7b868f"/>
<polygon points="1648.7,610.4 1652.2,610.4 1652.2,611.9 1657.2,609.8 1652.2,607.6 1652.2,609.1 1648.7,609.1" fill="#7b868f"/>
<polygon points="1664.2,610.4 1667.7,610.4 1667.7,611.9 1672.7,609.8 1667.7,607.6 1667.7,609.1 1664.2,609.1" fill="#7b868f"/>
<polygon points="1679.6,610.4 1683.1,610.4 1683.1,611.9 1688.1,609.8 1683.1,607.6 1683.1,609.1 1679.6,609.1" fill="#7b868f"/>
<circle cx="1092.5" cy="626.5" r="0.75" fill="#7b868f"/>
<circle cx="1108.0" cy="626.5" r="0.75" fill="#7b868f"/>
<circle cx="1123.4" cy="626.5" r="0.75" fill="#7b868f"/>
<circle cx="1138.8" cy="626.5" r="0.75" fill="#7b868f"/>
<circle cx="1154.3" cy="626.5" r="0.75" fill="#7b868f"/>
<circle cx="1169.8" cy="626.5" r="0.75" fill="#7b868f"/>
<circle cx="1185.2" cy="626.5" r="0.75" fill="#7b868f"/>
<circle cx="1200.7" cy="626.5" r="0.75" fill="#7b868f"/>
<circle cx="1216.1" cy="626.5" r="0.75" fill="#7b868f"/>
<circle cx="1231.5" cy="626.5" r="0.75" fill="#7b868f"/>
<circle cx="1247.0" cy="626.5" r="0.75" fill="#7b868f"/>
<circle cx="1262.5" cy="626.5" r="0.75" fill="#7b868f"/>
<circle cx="1277.9" cy="626.5" r="0.75" fill="#7b868f"/>
<circle cx="1293.3" cy="626.5" r="0.75" fill="#7b868f"/>
<circle cx="1308.8" cy="626.5" r="0.75" fill="#7b868f"/>
<circle cx="1324.2" cy="626.5" r="0.75" fill="#7b868f"/>
<circle cx="1339.7" cy="626.5" r="0.75" fill="#7b868f"/>
<circle cx="1355.2" cy="626.5" r="0.75" fill="#7b868f"/>
<polygon points="1370.6,626.9 1370.6,626.9 1370.6,626.9 1371.6,626.5 1370.6,626.1 1370.6,626.1 1370.6,626.1" fill="#7b868f"/>
<polygon points="1386.0,626.9 1386.0,626.9 1386.0,627.8 1389.0,626.5 1386.0,625.2 1386.0,626.1 1386.0,626.1" fill="#7b868f"/>
<polygon points="1401.5,627.1 1401.5,627.1 1401.5,628.6 1406.5,626.5 1401.5,624.4 1401.5,625.9 1401.5,625.9" fill="#7b868f"/>
<polygon points="1417.0,627.1 1420.5,627.1 1420.5,628.6 1425.5,626.5 1420.5,624.4 1420.5,625.9 1417.0,625.9" fill="#7b868f"/>
<polygon points="1432.4,627.1 1435.9,627.1 1435.9,628.6 1440.9,626.5 1435.9,624.4 1435.9,625.9 1432.4,625.9" fill="#7b868f"/>
<polygon points="1447.8,627.1 1451.3,627.1 1451.3,628.6 1456.3,626.5 1451.3,624.4 1451.3,625.9 1447.8,625.9" fill="#7b868f"/>
<polygon points="1463.3,627.1 1466.8,627.1 1466.8,628.6 1471.8,626.5 1466.8,624.4 1466.8,625.9 1463.3,625.9" fill="#7b868f"/>
<polygon points="1478.8,627.1 1482.2,627.1 1482.2,628.6 1487.2,626.5 1482.2,624.4 1482.2,625.9 1478.8,625.9" fill="#7b868f"/>
<polygon points="1494.2,627.1 1497.7,627.1 1497.7,628.6 1502.7,626.5 1497.7,624.4 1497.7,625.9 1494.2,625.9" fill="#7b868f"/>
<polygon points="1509.7,627.1 1513.2,627.1 1513.2,628.6 1518.2,626.5 1513.2,624.4 1513.2,625.9 1509.7,625.9" fill="#7b868f"/>
<polygon points="1525.1,627.1 1528.6,627.1 1528.6,628.6 1533.6,626.5 1528.6,624.4 1528.6,625.9 1525.1,625.9" fill="#7b868f"/>
<polygon points="1540.5,627.1 1544.0,627.1 1544.0,628.6 1549.0,626.5 1544.0,624.4 1544.0,625.9 1540.5,625.9" fill="#7b868f"/>
<polygon points="1556.0,627.1 1559.5,627.1 1559.5,628.6 1564.5,626.5 1559.5,624.4 1559.5,625.9 1556.0,625.9" fill="#7b868f"/>
<polygon points="1571.5,627.1 1575.0,627.1 1575.0,628.6 1580.0,626.5 1575.0,624.4 1575.0,625.9 1571.5,625.9" fill="#7b868f"/>
<polygon points="1586.9,627.1 1590.4,627.1 1590.4,628.6 1595.4,626.5 1590.4,624.4 1590.4,625.9 1586.9,625.9" fill="#7b868f"/>
<polygon points="1602.3,627.1 1605.8,627.1 1605.8,628.6 1610.8,626.5 1605.8,624.4 1605.8,625.9 1602.3,625.9" fill="#7b868f"/>
<polygon points="1617.8,627.1 1621.3,627.1 1621.3,628.6 1626.3,626.5 1621.3,624.4 1621.3,625.9 1617.8,625.9" fill="#7b868f"/>
<polygon points="1633.2,627.1 1636.8,627.1 1636.8,628.6 1641.8,626.5 1636.8,624.4 1636.8,625.9 1633.2,625.9" fill="#7b868f"/>
<polygon points="1648.7,627.1 1652.2,627.1 1652.2,628.6 1657.2,626.5 1652.2,624.4 1652.2,625.9 1648.7,625.9" fill="#7b868f"/>
<polygon points="1664.2,627.1 1667.7,627.1 1667.7,628.6 1672.7,626.5 1667.7,624.4 1667.7,625.9 1664.2,625.9" fill="#7b868f"/>
<polygon points="1679.6,627.1 1683.1,627.1 1683.1,628.6 1688.1,626.5 1683.1,624.4 1683.1,625.9 1679.6,625.9" fill="#7b868f"/>
<circle cx="1092.5" cy="643.2" r="0.75" fill="#7b868f"/>
<circle cx="1108.0" cy="643.2" r="0.75" fill="#7b868f"/>
<circle cx="1123.4" cy="643.2" r="0.75" fill="#7b868f"/>
<circle cx="1138.8" cy="643.2" r="0.75" fill="#7b868f"/>
<circle cx="1154.3" cy="643.2" r="0.75" fill="#7b868f"/>
<circle cx="1169.8" cy="643.2" r="0.75" fill="#7b868f"/>
<circle cx="1185.2" cy="643.2" r="0.75" fill="#7b868f"/>
<circle cx="1200.7" cy="643.2" r="0.75" fill="#7b868f"/>
<circle cx="1216.1" cy="643.2" r="0.75" fill="#7b868f"/>
<circle cx="1231.5" cy="643.2" r="0.75" fill="#7b868f"/>
<circle cx="1247.0" cy="643.2" r="0.75" fill="#7b868f"/>
<circle cx="1262.5" cy="643.2" r="0.75" fill="#7b868f"/>
<circle cx="1277.9" cy="643.2" r="0.75" fill="#7b868f"/>
<circle cx="1293.3" cy="643.2" r="0.75" fill="#7b868f"/>
<circle cx="1308.8" cy="643.2" r="0.75" fill="#7b868f"/>
<circle cx="1324.2" cy="643.2" r="0.75" fill="#7b868f"/>
<circle cx="1339.7" cy="643.2" r="0.75" fill="#7b868f"/>
<circle cx="1355.2" cy="643.2" r="0.75" fill="#7b868f"/>
<circle cx="1370.6" cy="643.2" r="0.75" fill="#7b868f"/>
<circle cx="1386.0" cy="643.2" r="0.75" fill="#7b868f"/>
<circle cx="1401.5" cy="643.2" r="0.75" fill="#7b868f"/>
<circle cx="1417.0" cy="643.2" r="0.75" fill="#7b868f"/>
<circle cx="1432.4" cy="643.2" r="0.75" fill="#7b868f"/>
<circle cx="1447.8" cy="643.2" r="0.75" fill="#7b868f"/>
<circle cx="1463.3" cy="643.2" r="0.75" fill="#7b868f"/>
<circle cx="1478.8" cy="643.2" r="0.75" fill="#7b868f"/>
<circle cx="1494.2" cy="643.2" r="0.75" fill="#7b868f"/>
<circle cx="1509.7" cy="643.2" r="0.75" fill="#7b868f"/>
<circle cx="1525.1" cy="643.2" r="0.75" fill="#7b868f"/>
<circle cx="1540.5" cy="643.2" r="0.75" fill="#7b868f"/>
<circle cx="1556.0" cy="643.2" r="0.75" fill="#7b868f"/>
<circle cx="1571.5" cy="643.2" r="0.75" fill="#7b868f"/>
<circle cx="1586.9" cy="643.2" r="0.75" fill="#7b868f"/>
<circle cx="1602.3" cy="643.2" r="0.75" fill="#7b868f"/>
<circle cx="1617.8" cy="643.2" r="0.75" fill="#7b868f"/>
<circle cx="1633.2" cy="643.2" r="0.75" fill="#7b868f"/>
<circle cx="1648.7" cy="643.2" r="0.75" fill="#7b868f"/>
<circle cx="1664.2" cy="643.2" r="0.75" fill="#7b868f"/>
<circle cx="1679.6" cy="643.2" r="0.75" fill="#7b868f"/>
<polygon points="1431.9,508.5 1413.8,523.3 1412.8,522.2 1410.3,527.0 1415.5,525.5 1414.6,524.3 1432.7,509.5" fill="#7b868f"/>
<polygon points="1416.1,525.1 1408.5,539.7 1407.2,539.0 1406.7,544.4 1410.9,541.0 1409.6,540.3 1417.3,525.7" fill="#7b868f"/>
<polygon points="1431.8,525.1 1420.4,542.8 1419.2,542.1 1418.3,547.4 1422.8,544.3 1421.5,543.5 1432.8,525.7" fill="#7b868f"/>
<polygon points="1431.7,541.8 1426.7,552.4 1425.4,551.8 1425.1,557.2 1429.1,553.6 1427.8,553.0 1432.9,542.4" fill="#7b868f"/>
</g>
<rect x="193.5" y="491.5" width="602.5" height="150.89999999999998" fill="none" stroke="#000" stroke-width="1.6"/>
<rect x="1077.0" y="491.5" width="603.0" height="150.89999999999998" fill="none" stroke="#000" stroke-width="1.6"/>
<line x1="186.5" y1="491.5" x2="193.5" y2="491.5" stroke="#000" stroke-width="1.4"/>
<text x="158.2" y="499.6" font-size="22.6" textLength="15.6" lengthAdjust="spacingAndGlyphs">0</text>
<line x1="186.5" y1="567.0" x2="193.5" y2="567.0" stroke="#000" stroke-width="1.4"/>
<text x="128.7" y="575.1" font-size="22.6" textLength="45.1" lengthAdjust="spacingAndGlyphs">500</text>
<line x1="186.5" y1="642.4" x2="193.5" y2="642.4" stroke="#000" stroke-width="1.4"/>
<text x="112.8" y="650.5" font-size="22.6" textLength="61.0" lengthAdjust="spacingAndGlyphs">1,000</text>
<line x1="193.5" y1="642.4" x2="193.5" y2="649.4" stroke="#000" stroke-width="1.4"/>
<text x="160.9" y="680.2" font-size="22.6" textLength="65.4" lengthAdjust="spacingAndGlyphs">2,000</text>
<line x1="344.1" y1="642.4" x2="344.1" y2="649.4" stroke="#000" stroke-width="1.4"/>
<text x="311.5" y="680.2" font-size="22.6" textLength="65.4" lengthAdjust="spacingAndGlyphs">3,000</text>
<line x1="494.8" y1="642.4" x2="494.8" y2="649.4" stroke="#000" stroke-width="1.4"/>
<text x="462.1" y="680.2" font-size="22.6" textLength="65.4" lengthAdjust="spacingAndGlyphs">4,000</text>
<line x1="645.4" y1="642.4" x2="645.4" y2="649.4" stroke="#000" stroke-width="1.4"/>
<text x="612.8" y="680.2" font-size="22.6" textLength="65.4" lengthAdjust="spacingAndGlyphs">5,000</text>
<line x1="796.0" y1="642.4" x2="796.0" y2="649.4" stroke="#000" stroke-width="1.4"/>
<text x="763.4" y="680.2" font-size="22.6" textLength="65.4" lengthAdjust="spacingAndGlyphs">6,000</text>
<text x="456.3" y="731.5" font-size="27.5" textLength="75.5" lengthAdjust="spacingAndGlyphs"><tspan font-style="italic">x</tspan> (km)</text>
<text transform="translate(107.5,568) rotate(-90)" font-size="27.5" text-anchor="middle" textLength="76" lengthAdjust="spacingAndGlyphs"><tspan font-style="italic">z</tspan> (km)</text>
<line x1="1070.0" y1="491.5" x2="1077.0" y2="491.5" stroke="#000" stroke-width="1.4"/>
<text x="1041.7" y="499.6" font-size="22.6" textLength="15.6" lengthAdjust="spacingAndGlyphs">0</text>
<line x1="1070.0" y1="567.0" x2="1077.0" y2="567.0" stroke="#000" stroke-width="1.4"/>
<text x="1012.2" y="575.1" font-size="22.6" textLength="45.1" lengthAdjust="spacingAndGlyphs">500</text>
<line x1="1070.0" y1="642.4" x2="1077.0" y2="642.4" stroke="#000" stroke-width="1.4"/>
<text x="996.3" y="650.5" font-size="22.6" textLength="61.0" lengthAdjust="spacingAndGlyphs">1,000</text>
<line x1="1077.0" y1="642.4" x2="1077.0" y2="649.4" stroke="#000" stroke-width="1.4"/>
<text x="1044.4" y="680.2" font-size="22.6" textLength="65.4" lengthAdjust="spacingAndGlyphs">2,000</text>
<line x1="1227.8" y1="642.4" x2="1227.8" y2="649.4" stroke="#000" stroke-width="1.4"/>
<text x="1195.2" y="680.2" font-size="22.6" textLength="65.4" lengthAdjust="spacingAndGlyphs">3,000</text>
<line x1="1378.5" y1="642.4" x2="1378.5" y2="649.4" stroke="#000" stroke-width="1.4"/>
<text x="1345.9" y="680.2" font-size="22.6" textLength="65.4" lengthAdjust="spacingAndGlyphs">4,000</text>
<line x1="1529.2" y1="642.4" x2="1529.2" y2="649.4" stroke="#000" stroke-width="1.4"/>
<text x="1496.7" y="680.2" font-size="22.6" textLength="65.4" lengthAdjust="spacingAndGlyphs">5,000</text>
<line x1="1680.0" y1="642.4" x2="1680.0" y2="649.4" stroke="#000" stroke-width="1.4"/>
<text x="1647.4" y="680.2" font-size="22.6" textLength="65.4" lengthAdjust="spacingAndGlyphs">6,000</text>
<text x="1363.8" y="731.5" font-size="27.5" textLength="75.5" lengthAdjust="spacingAndGlyphs"><tspan font-style="italic">x</tspan> (km)</text>
<text transform="translate(983.0,568) rotate(-90)" font-size="27.5" text-anchor="middle" textLength="76" lengthAdjust="spacingAndGlyphs"><tspan font-style="italic">z</tspan> (km)</text>
<text x="69.7" y="476.4" font-size="41" textLength="21.7" lengthAdjust="spacingAndGlyphs" font-weight="bold">c</text>
<text x="903.4" y="476.4" font-size="41" textLength="23.4" lengthAdjust="spacingAndGlyphs" font-weight="bold">d</text>
<text x="649.9" y="482.0" font-size="22.6" textLength="93.4" lengthAdjust="spacingAndGlyphs">10 cm yr</text>
<text x="742.5" y="472.5" font-size="14" textLength="12.0" lengthAdjust="spacingAndGlyphs">−1</text>
<polygon points="761.6,476.9 791.0,476.9 791.0,478.2 796.0,476.4 791.0,474.6 791.0,475.8 761.6,475.8" fill="#8a9096"/>
<rect x="1732" y="509.5" width="21.6" height="196" fill="url(#magma)" stroke="#000" stroke-width="1.3"/>
<line x1="1753.6" y1="510.0" x2="1760.0" y2="510.0" stroke="#000" stroke-width="1.3"/>
<text x="1768.9" y="518.1" font-size="22.6" textLength="29.4" lengthAdjust="spacingAndGlyphs">24</text>
<line x1="1753.6" y1="553.4" x2="1760.0" y2="553.4" stroke="#000" stroke-width="1.3"/>
<text x="1768.9" y="561.5" font-size="22.6" textLength="29.4" lengthAdjust="spacingAndGlyphs">23</text>
<line x1="1753.6" y1="596.8" x2="1760.0" y2="596.8" stroke="#000" stroke-width="1.3"/>
<text x="1768.9" y="604.9" font-size="22.6" textLength="29.4" lengthAdjust="spacingAndGlyphs">22</text>
<line x1="1753.6" y1="640.2" x2="1760.0" y2="640.2" stroke="#000" stroke-width="1.3"/>
<text x="1768.9" y="648.3" font-size="22.6" textLength="29.4" lengthAdjust="spacingAndGlyphs">21</text>
<line x1="1753.6" y1="683.6" x2="1760.0" y2="683.6" stroke="#000" stroke-width="1.3"/>
<text x="1768.9" y="691.7" font-size="22.6" textLength="29.4" lengthAdjust="spacingAndGlyphs">20</text>
<text x="1720.4" y="455.5" font-size="27" textLength="63.0" lengthAdjust="spacingAndGlyphs">log[<tspan font-style="italic">η</tspan></text>
<text x="1720.0" y="486.0" font-size="27" textLength="75.0" lengthAdjust="spacingAndGlyphs">(Pa s)]</text>
<g clip-path="url(#clipe)">
<g clip-path="url(#eR)">
<rect x="196.5" y="783.5" width="607.1" height="407.5" fill="url(#gER)"/>
<path d="M612.1,865.0 C610.3,868.3 604.7,879.0 601.5,885.0 C598.3,891.0 595.8,895.8 593.0,901.0 C590.2,906.2 587.0,911.3 585.0,916.0 C583.0,920.7 582.1,924.8 581.0,929.0 C579.9,933.2 579.2,936.3 578.5,941.0 C577.8,945.7 577.2,951.3 576.8,957.0 C576.4,962.7 576.3,969.5 576.2,975.0 C576.1,980.5 576.2,984.0 576.3,990.0 C576.4,996.0 576.5,1004.2 577.0,1011.0 C577.5,1017.8 578.4,1025.5 579.5,1031.0 C580.6,1036.5 581.9,1039.8 583.5,1044.0 C585.1,1048.2 585.8,1049.6 588.9,1056.0 C592.0,1062.4 597.8,1073.8 602.0,1082.6 C606.2,1091.4 612.2,1104.4 614.3,1108.8" fill="none" stroke="#9db9f8" stroke-width="130" stroke-linecap="butt" stroke-linejoin="round" filter="url(#bl18)" opacity="0.95"/>
<rect x="705" y="865" width="85" height="270" fill="#b6cbf6" filter="url(#bl14)" opacity="0.75"/>
<path d="M566.0,780.0 C565.7,780.9 568.0,778.0 564.2,785.5 C560.4,793.0 550.3,811.8 543.3,825.0 C536.3,838.2 527.4,855.0 522.1,865.0 C516.8,875.0 514.7,879.0 511.5,885.0 C508.3,891.0 505.8,895.8 503.0,901.0 C500.2,906.2 497.0,911.3 495.0,916.0 C493.0,920.7 492.1,924.8 491.0,929.0 C489.9,933.2 489.2,936.3 488.5,941.0 C487.8,945.7 487.2,951.3 486.8,957.0 C486.4,962.7 486.3,969.5 486.2,975.0 C486.1,980.5 486.2,984.0 486.3,990.0 C486.4,996.0 486.5,1004.2 487.0,1011.0 C487.5,1017.8 488.4,1025.5 489.5,1031.0 C490.6,1036.5 491.9,1039.8 493.5,1044.0 C495.1,1048.2 495.8,1049.6 498.9,1056.0 C502.0,1062.4 507.8,1073.8 512.0,1082.6 C516.2,1091.4 520.2,1100.0 524.3,1108.8 C528.4,1117.5 532.5,1126.3 536.6,1135.1 C540.7,1143.9 544.4,1152.6 548.8,1161.4 C553.2,1170.2 560.2,1182.1 562.8,1187.7 C565.4,1193.3 564.2,1193.8 564.5,1195.0" fill="none" stroke="#bed2f6" stroke-width="74" stroke-linejoin="round" stroke-linecap="round" filter="url(#bl3)"/>
<path d="M566.0,780.0 C565.7,780.9 568.0,778.0 564.2,785.5 C560.4,793.0 550.3,811.8 543.3,825.0 C536.3,838.2 527.4,855.0 522.1,865.0 C516.8,875.0 514.7,879.0 511.5,885.0 C508.3,891.0 505.8,895.8 503.0,901.0 C500.2,906.2 497.0,911.3 495.0,916.0 C493.0,920.7 492.1,924.8 491.0,929.0 C489.9,933.2 489.2,936.3 488.5,941.0 C487.8,945.7 487.2,951.3 486.8,957.0 C486.4,962.7 486.3,969.5 486.2,975.0 C486.1,980.5 486.2,984.0 486.3,990.0 C486.4,996.0 486.5,1004.2 487.0,1011.0 C487.5,1017.8 488.4,1025.5 489.5,1031.0 C490.6,1036.5 491.9,1039.8 493.5,1044.0 C495.1,1048.2 495.8,1049.6 498.9,1056.0 C502.0,1062.4 507.8,1073.8 512.0,1082.6 C516.2,1091.4 520.2,1100.0 524.3,1108.8 C528.4,1117.5 532.5,1126.3 536.6,1135.1 C540.7,1143.9 544.4,1152.6 548.8,1161.4 C553.2,1170.2 560.2,1182.1 562.8,1187.7 C565.4,1193.3 564.2,1193.8 564.5,1195.0" fill="none" stroke="#3d4fc4" stroke-width="57" stroke-linejoin="round" stroke-linecap="round" filter="url(#bl0)"/>
<path d="M570.0,780.0 C569.7,780.9 572.0,778.0 568.2,785.5 C564.4,793.0 554.3,811.8 547.3,825.0 C540.3,838.2 531.4,855.0 526.1,865.0 C520.8,875.0 518.7,879.0 515.5,885.0 C512.3,891.0 509.8,895.8 507.0,901.0 C504.2,906.2 501.0,911.3 499.0,916.0 C497.0,920.7 496.1,924.8 495.0,929.0 C493.9,933.2 493.2,936.3 492.5,941.0 C491.8,945.7 491.2,951.3 490.8,957.0 C490.4,962.7 490.3,969.5 490.2,975.0 C490.1,980.5 490.2,984.0 490.3,990.0 C490.4,996.0 490.5,1004.2 491.0,1011.0 C491.5,1017.8 492.4,1025.5 493.5,1031.0 C494.6,1036.5 495.9,1039.8 497.5,1044.0 C499.1,1048.2 499.8,1049.6 502.9,1056.0 C506.0,1062.4 511.8,1073.8 516.0,1082.6 C520.2,1091.4 524.2,1100.0 528.3,1108.8 C532.4,1117.5 536.5,1126.3 540.6,1135.1 C544.7,1143.9 548.4,1152.6 552.8,1161.4 C557.2,1170.2 564.2,1182.1 566.8,1187.7 C569.4,1193.3 568.2,1193.8 568.5,1195.0" fill="none" stroke="#6f8ee8" stroke-width="4" stroke-linejoin="round" stroke-linecap="round" filter="url(#bl0)" opacity="0.7"/>
</g>
<g clip-path="url(#eL)">
<rect x="194.5" y="783.5" width="405.5" height="407.5" fill="url(#gEL)"/>
<rect x="190" y="1130" width="300" height="80" fill="#e6d8d2" filter="url(#bl18)" opacity="0.7"/>
<path d="M566.0,780.0 C565.7,780.9 568.0,778.0 564.2,785.5 C560.4,793.0 550.3,811.8 543.3,825.0 C536.3,838.2 527.4,855.0 522.1,865.0 C516.8,875.0 514.7,879.0 511.5,885.0 C508.3,891.0 505.8,895.8 503.0,901.0 C500.2,906.2 497.0,911.3 495.0,916.0 C493.0,920.7 492.1,924.8 491.0,929.0 C489.9,933.2 489.2,936.3 488.5,941.0 C487.8,945.7 487.2,951.3 486.8,957.0 C486.4,962.7 486.3,969.5 486.2,975.0 C486.1,980.5 486.2,984.0 486.3,990.0 C486.4,996.0 486.5,1004.2 487.0,1011.0 C487.5,1017.8 488.4,1025.5 489.5,1031.0 C490.6,1036.5 491.9,1039.8 493.5,1044.0 C495.1,1048.2 495.8,1049.6 498.9,1056.0 C502.0,1062.4 507.8,1073.8 512.0,1082.6 C516.2,1091.4 520.2,1100.0 524.3,1108.8 C528.4,1117.5 532.5,1126.3 536.6,1135.1 C540.7,1143.9 544.4,1152.6 548.8,1161.4 C553.2,1170.2 560.2,1182.1 562.8,1187.7 C565.4,1193.3 564.2,1193.8 564.5,1195.0" fill="none" stroke="#f0ac92" stroke-width="100" stroke-linejoin="round" stroke-linecap="round" filter="url(#bl14)" opacity="0.6"/>
<path d="M566.0,780.0 C565.7,780.9 568.0,778.0 564.2,785.5 C560.4,793.0 550.3,811.8 543.3,825.0 C536.3,838.2 527.4,855.0 522.1,865.0 C516.8,875.0 514.7,879.0 511.5,885.0 C508.3,891.0 505.8,895.8 503.0,901.0 C500.2,906.2 497.0,911.3 495.0,916.0 C493.0,920.7 492.1,924.8 491.0,929.0 C489.9,933.2 489.2,936.3 488.5,941.0 C487.8,945.7 487.2,951.3 486.8,957.0 C486.4,962.7 486.3,969.5 486.2,975.0 C486.1,980.5 486.2,984.0 486.3,990.0 C486.4,996.0 486.5,1004.2 487.0,1011.0 C487.5,1017.8 488.4,1025.5 489.5,1031.0 C490.6,1036.5 491.9,1039.8 493.5,1044.0 C495.1,1048.2 495.8,1049.6 498.9,1056.0 C502.0,1062.4 507.8,1073.8 512.0,1082.6 C516.2,1091.4 520.2,1100.0 524.3,1108.8 C528.4,1117.5 532.5,1126.3 536.6,1135.1 C540.7,1143.9 544.4,1152.6 548.8,1161.4 C553.2,1170.2 560.2,1182.1 562.8,1187.7 C565.4,1193.3 564.2,1193.8 564.5,1195.0" fill="none" stroke="#ef9c82" stroke-width="40" stroke-linejoin="round" stroke-linecap="round" filter="url(#bl4)" opacity="0.8"/>
<path d="M566.0,780.0 C565.7,780.9 568.0,778.0 564.2,785.5 C560.4,793.0 550.3,811.8 543.3,825.0 C536.3,838.2 527.4,855.0 522.1,865.0 C516.8,875.0 514.7,879.0 511.5,885.0 C508.3,891.0 505.8,895.8 503.0,901.0 C500.2,906.2 497.0,911.3 495.0,916.0 C493.0,920.7 492.1,924.8 491.0,929.0 C489.9,933.2 489.2,936.3 488.5,941.0 C487.8,945.7 487.2,951.3 486.8,957.0 C486.4,962.7 486.3,969.5 486.2,975.0 C486.1,980.5 486.2,984.0 486.3,990.0 C486.4,996.0 486.5,1004.2 487.0,1011.0 C487.5,1017.8 488.4,1025.5 489.5,1031.0 C490.6,1036.5 491.9,1039.8 493.5,1044.0 C495.1,1048.2 495.8,1049.6 498.9,1056.0 C502.0,1062.4 507.8,1073.8 512.0,1082.6 C516.2,1091.4 520.2,1100.0 524.3,1108.8 C528.4,1117.5 532.5,1126.3 536.6,1135.1 C540.7,1143.9 544.4,1152.6 548.8,1161.4 C553.2,1170.2 560.2,1182.1 562.8,1187.7 C565.4,1193.3 564.2,1193.8 564.5,1195.0" fill="none" stroke="#c41a30" stroke-width="13" stroke-linejoin="round" stroke-linecap="round" filter="url(#bl0)"/>
<ellipse cx="546" cy="1180" rx="16" ry="22" fill="#c0102a" filter="url(#bl4)"/>
<ellipse cx="512" cy="1172" rx="26" ry="22" fill="#e9806a" filter="url(#bl8)" opacity="0.8"/>
</g>
<path d="M520.4,784.0 C517.8,787.5 511.0,794.7 505.0,805.0 C499.0,815.3 489.8,836.2 484.3,846.0 C478.8,855.8 475.0,857.0 472.2,864.0 C469.4,871.0 467.8,881.5 467.4,888.0 C467.0,894.5 468.0,899.3 469.8,903.0 C471.6,906.7 476.7,906.4 478.3,910.0 C479.9,913.6 479.7,919.1 479.5,924.5 C479.3,929.9 479.3,936.8 477.1,942.6 C474.9,948.4 469.6,957.0 466.2,959.4 C462.8,961.8 459.6,955.8 456.6,957.0 C453.6,958.2 450.1,962.0 448.2,966.6 C446.3,971.2 445.0,979.1 445.2,984.7 C445.4,990.3 446.9,995.8 449.4,1000.0 C451.9,1004.2 456.2,1007.5 460.0,1010.0 C463.8,1012.5 469.0,1010.8 472.0,1015.0 C475.0,1019.2 476.0,1027.5 478.0,1035.0 C480.0,1042.5 482.1,1049.2 484.0,1060.0 C485.9,1070.8 487.6,1087.3 489.2,1100.0 C490.8,1112.7 493.2,1127.8 493.6,1136.0 C494.0,1144.2 493.0,1142.4 491.4,1149.2 C489.8,1156.0 485.2,1169.8 483.8,1176.6 C482.4,1183.4 483.3,1187.8 483.2,1190.0" fill="none" stroke="#717171" stroke-width="2.2" stroke-linejoin="round" stroke-linecap="round"/>
<path d="M558.4,785.5 C555.2,792.1 546.1,811.8 539.1,825.0 C532.1,838.2 521.6,855.0 516.3,865.0 C511.0,875.0 510.5,879.0 507.3,885.0 C504.1,891.0 499.9,895.8 497.2,901.0 C494.4,906.2 492.8,911.3 490.8,916.0 C488.8,920.7 486.3,924.8 485.2,929.0 C484.1,933.2 485.0,936.3 484.3,941.0 C483.6,945.7 481.4,951.3 481.0,957.0 C480.6,962.7 482.1,969.5 482.0,975.0 C481.9,980.5 480.4,984.0 480.5,990.0 C480.6,996.0 482.4,1007.5 482.8,1011.0" fill="none" stroke="#717171" stroke-width="1.8" stroke-linejoin="round" stroke-linecap="round"/>
<path d="M554.4,785.5 C551.2,792.1 542.1,811.8 535.1,825.0 C528.1,838.2 517.6,855.0 512.3,865.0 C507.0,875.0 506.5,879.0 503.3,885.0 C500.1,891.0 495.9,895.8 493.2,901.0 C490.4,906.2 488.8,911.3 486.8,916.0 C484.8,920.7 482.3,924.8 481.2,929.0 C480.1,933.2 481.0,936.3 480.3,941.0 C479.6,945.7 477.4,951.3 477.0,957.0 C476.6,962.7 478.1,969.5 478.0,975.0 C477.9,980.5 476.4,984.0 476.5,990.0 C476.6,996.0 478.4,1007.5 478.8,1011.0" fill="none" stroke="#717171" stroke-width="1.8" stroke-linejoin="round" stroke-linecap="round"/>
<path d="M550.4,785.5 C547.2,792.1 538.1,811.8 531.1,825.0 C524.1,838.2 513.6,855.0 508.3,865.0 C503.0,875.0 502.5,879.0 499.3,885.0 C496.1,891.0 491.9,895.8 489.2,901.0 C486.4,906.2 484.8,911.3 482.8,916.0 C480.8,920.7 478.3,924.8 477.2,929.0 C476.1,933.2 477.0,936.3 476.3,941.0 C475.6,945.7 473.4,951.3 473.0,957.0 C472.6,962.7 474.1,969.5 474.0,975.0 C473.9,980.5 472.4,984.0 472.5,990.0 C472.6,996.0 474.4,1007.5 474.8,1011.0" fill="none" stroke="#717171" stroke-width="1.6" stroke-linejoin="round" stroke-linecap="round"/>
<path d="M487.0,1035.0 C487.5,1039.2 488.3,1051.7 490.0,1060.0 C491.7,1068.3 494.8,1078.3 497.0,1085.0 C499.2,1091.7 501.3,1095.7 503.5,1100.0 C505.7,1104.3 507.4,1106.4 510.0,1111.0 C512.5,1115.6 515.9,1121.9 518.8,1127.4 C521.7,1132.9 526.2,1138.7 527.5,1143.8 C528.8,1148.9 528.2,1154.9 526.4,1158.0 C524.6,1161.1 519.7,1159.6 516.6,1162.4 C513.5,1165.2 509.8,1170.4 508.0,1175.0 C506.2,1179.6 506.0,1187.5 505.6,1190.0" fill="none" stroke="#717171" stroke-width="2" stroke-linejoin="round" stroke-linecap="round"/>
<path d="M484.0,1040.0 C485.7,1045.8 490.5,1065.8 494.0,1075.0 C497.5,1084.2 502.0,1090.3 505.0,1095.0 C508.0,1099.7 509.0,1098.2 512.0,1103.0 C515.0,1107.8 520.1,1118.1 523.2,1124.0 C526.3,1129.9 528.4,1133.2 530.8,1138.3 C533.2,1143.4 536.5,1149.8 537.4,1154.7 C538.3,1159.6 538.7,1164.2 536.3,1167.8 C533.9,1171.4 525.9,1172.9 523.2,1176.6 C520.6,1180.3 520.9,1187.8 520.4,1190.0" fill="none" stroke="#717171" stroke-width="2" stroke-linejoin="round" stroke-linecap="round"/>
</g>
<g><rect x="465.6" y="846.5" width="22.3" height="14.8" fill="#737373"/>
<text x="476.8" y="858.7" font-size="19" text-anchor="middle" textLength="17.8" lengthAdjust="spacingAndGlyphs" fill="#ffffff">20</text>
</g>
<g><rect x="478.3" y="1119.7" width="22.4" height="15.1" fill="#737373"/>
<text x="489.5" y="1132.2" font-size="19" text-anchor="middle" textLength="17.9" lengthAdjust="spacingAndGlyphs" fill="#ffffff">20</text>
</g>
<g clip-path="url(#clipe)">
<polygon points="226.8,785.4 226.8,785.4 226.9,784.4 223.5,785.6 226.7,787.2 226.8,786.2 226.8,786.2" fill="#000"/>
<polygon points="258.8,785.4 258.8,785.4 258.8,784.4 255.4,785.6 258.7,787.2 258.7,786.2 258.7,786.2" fill="#000"/>
<polygon points="290.7,785.4 290.7,785.4 290.8,784.4 287.4,785.6 290.6,787.2 290.7,786.2 290.7,786.2" fill="#000"/>
<polygon points="322.7,785.4 322.7,785.4 322.7,784.4 319.3,785.6 322.6,787.2 322.6,786.2 322.6,786.2" fill="#000"/>
<polygon points="354.6,785.4 354.6,785.4 354.7,784.4 351.3,785.6 354.5,787.2 354.6,786.2 354.6,786.2" fill="#000"/>
<polygon points="386.6,785.4 386.6,785.4 386.6,784.4 383.2,785.6 386.5,787.2 386.5,786.2 386.5,786.2" fill="#000"/>
<polygon points="418.5,785.4 418.5,785.4 418.6,784.4 415.2,785.6 418.4,787.2 418.5,786.2 418.5,786.2" fill="#000"/>
<polygon points="450.5,785.4 450.5,785.4 450.5,784.4 447.2,785.6 450.4,787.2 450.4,786.2 450.4,786.2" fill="#000"/>
<polygon points="482.4,785.4 482.4,785.4 482.5,784.4 479.1,785.6 482.3,787.2 482.4,786.2 482.4,786.2" fill="#000"/>
<polygon points="514.4,785.4 514.4,785.4 514.6,784.4 511.1,785.1 514.1,787.2 514.3,786.2 514.3,786.2" fill="#000"/>
<polygon points="546.4,785.4 546.4,785.4 546.6,784.4 543.0,785.1 546.0,787.2 546.2,786.2 546.2,786.2" fill="#000"/>
<polygon points="578.2,785.1 567.2,785.6 567.2,783.9 561.7,786.6 567.4,788.7 567.3,787.1 578.3,786.5" fill="#000"/>
<polygon points="610.2,785.1 599.2,785.6 599.1,783.9 593.6,786.6 599.4,788.7 599.3,787.1 610.2,786.5" fill="#000"/>
<polygon points="642.1,785.1 631.1,785.6 631.1,783.9 625.6,786.6 631.3,788.7 631.2,787.1 642.2,786.5" fill="#000"/>
<polygon points="674.1,785.1 663.1,785.6 663.0,783.9 657.5,786.6 663.3,788.7 663.2,787.1 674.1,786.5" fill="#000"/>
<polygon points="706.0,785.1 695.0,785.6 695.0,783.9 689.5,786.6 695.2,788.7 695.1,787.1 706.1,786.5" fill="#000"/>
<polygon points="738.0,785.1 727.0,785.6 726.9,783.9 721.4,786.6 727.2,788.7 727.1,787.1 738.0,786.5" fill="#000"/>
<polygon points="769.9,785.1 758.9,785.6 758.9,783.9 753.4,786.6 759.1,788.7 759.0,787.1 770.0,786.5" fill="#000"/>
<polygon points="801.9,785.1 790.9,785.6 790.8,783.9 785.3,786.6 791.1,788.7 791.0,787.1 801.9,786.5" fill="#000"/>
<polygon points="226.8,830.2 226.8,830.2 226.9,829.2 223.5,830.4 226.7,832.0 226.8,831.0 226.8,831.0" fill="#000"/>
<polygon points="258.8,830.2 258.8,830.2 258.8,829.2 255.4,830.4 258.7,832.0 258.7,831.0 258.7,831.0" fill="#000"/>
<polygon points="290.7,830.2 290.7,830.2 290.8,829.2 287.4,830.4 290.6,832.0 290.7,831.0 290.7,831.0" fill="#000"/>
<polygon points="322.7,830.2 322.7,830.2 322.7,829.2 319.3,830.4 322.6,832.0 322.6,831.0 322.6,831.0" fill="#000"/>
<polygon points="354.6,830.2 354.6,830.2 354.7,829.2 351.3,830.4 354.5,832.0 354.6,831.0 354.6,831.0" fill="#000"/>
<polygon points="386.6,830.2 386.6,830.2 386.6,829.2 383.2,830.4 386.5,832.0 386.5,831.0 386.5,831.0" fill="#000"/>
<polygon points="418.5,830.2 418.5,830.2 418.6,829.2 415.2,830.4 418.4,832.0 418.5,831.0 418.5,831.0" fill="#000"/>
<polygon points="450.5,830.2 450.5,830.2 450.5,829.2 447.2,830.4 450.4,832.0 450.4,831.0 450.4,831.0" fill="#000"/>
<polygon points="482.5,830.2 482.5,830.2 482.7,829.2 479.1,829.9 482.1,832.0 482.3,831.0 482.3,831.0" fill="#000"/>
<polygon points="514.4,830.2 514.4,830.2 514.6,829.2 511.1,829.9 514.1,832.0 514.3,831.0 514.3,831.0" fill="#000"/>
<polygon points="546.3,829.9 533.5,830.5 533.4,828.8 527.9,831.5 533.6,833.6 533.5,832.0 546.3,831.3" fill="#000"/>
<polygon points="578.2,829.9 565.4,830.5 565.3,828.8 559.9,831.5 565.6,833.6 565.5,832.0 578.3,831.3" fill="#000"/>
<polygon points="610.2,829.9 597.4,830.5 597.3,828.8 591.8,831.5 597.5,833.6 597.4,832.0 610.2,831.3" fill="#000"/>
<polygon points="642.1,829.9 629.3,830.5 629.2,828.8 623.8,831.5 629.5,833.6 629.4,832.0 642.2,831.3" fill="#000"/>
<polygon points="674.1,829.9 661.3,830.5 661.2,828.8 655.7,831.5 661.4,833.6 661.3,832.0 674.1,831.3" fill="#000"/>
<polygon points="706.0,829.9 693.2,830.5 693.1,828.8 687.6,831.5 693.4,833.6 693.3,832.0 706.1,831.3" fill="#000"/>
<polygon points="738.0,829.9 725.2,830.5 725.1,828.8 719.6,831.5 725.3,833.6 725.2,832.0 738.0,831.3" fill="#000"/>
<polygon points="769.9,829.9 757.1,830.5 757.0,828.8 751.6,831.5 757.3,833.6 757.2,832.0 770.0,831.3" fill="#000"/>
<polygon points="801.9,829.9 789.1,830.5 789.0,828.8 783.5,831.5 789.2,833.6 789.1,832.0 801.9,831.3" fill="#000"/>
<polygon points="226.8,875.0 226.8,875.0 226.9,874.0 223.5,875.2 226.7,876.8 226.8,875.8 226.8,875.8" fill="#000"/>
<polygon points="258.8,875.0 258.8,875.0 258.8,874.0 255.4,875.2 258.7,876.8 258.7,875.8 258.7,875.8" fill="#000"/>
<polygon points="290.7,875.0 290.7,875.0 290.8,874.0 287.4,875.2 290.6,876.8 290.7,875.8 290.7,875.8" fill="#000"/>
<polygon points="322.7,875.0 322.7,875.0 322.7,874.0 319.3,875.2 322.6,876.8 322.6,875.8 322.6,875.8" fill="#000"/>
<polygon points="354.6,875.0 354.6,875.0 354.7,874.0 351.3,875.2 354.5,876.8 354.6,875.8 354.6,875.8" fill="#000"/>
<polygon points="386.6,875.0 386.6,875.0 386.6,874.0 383.2,875.2 386.5,876.8 386.5,875.8 386.5,875.8" fill="#000"/>
<polygon points="418.5,875.0 418.5,875.0 418.6,874.0 415.2,875.2 418.4,876.8 418.5,875.8 418.5,875.8" fill="#000"/>
<polygon points="450.5,875.0 450.5,875.0 450.5,874.0 447.2,875.2 450.4,876.8 450.4,875.8 450.4,875.8" fill="#000"/>
<polygon points="482.5,875.0 482.5,875.0 482.7,874.0 479.1,874.7 482.1,876.8 482.3,875.8 482.3,875.8" fill="#000"/>
<polygon points="514.4,875.0 514.4,875.0 514.6,874.0 511.1,874.7 514.1,876.8 514.3,875.8 514.3,875.8" fill="#000"/>
<polygon points="546.3,874.7 533.5,875.3 533.4,873.6 527.9,876.3 533.6,878.4 533.5,876.8 546.3,876.1" fill="#000"/>
<polygon points="578.2,874.7 565.4,875.3 565.3,873.6 559.9,876.3 565.6,878.4 565.5,876.8 578.3,876.1" fill="#000"/>
<polygon points="610.2,874.7 597.4,875.3 597.3,873.6 591.8,876.3 597.5,878.4 597.4,876.8 610.2,876.1" fill="#000"/>
<polygon points="642.1,874.7 629.3,875.3 629.2,873.6 623.8,876.3 629.5,878.4 629.4,876.8 642.2,876.1" fill="#000"/>
<polygon points="674.1,874.7 661.3,875.3 661.2,873.6 655.7,876.3 661.4,878.4 661.3,876.8 674.1,876.1" fill="#000"/>
<polygon points="706.0,874.7 693.2,875.3 693.1,873.6 687.6,876.3 693.4,878.4 693.3,876.8 706.1,876.1" fill="#000"/>
<polygon points="738.0,874.7 725.2,875.3 725.1,873.6 719.6,876.3 725.3,878.4 725.2,876.8 738.0,876.1" fill="#000"/>
<polygon points="769.9,874.7 757.1,875.3 757.0,873.6 751.6,876.3 757.3,878.4 757.2,876.8 770.0,876.1" fill="#000"/>
<polygon points="801.9,874.7 789.1,875.3 789.0,873.6 783.5,876.3 789.2,878.4 789.1,876.8 801.9,876.1" fill="#000"/>
<polygon points="226.8,919.8 226.8,919.8 226.9,918.8 223.5,920.0 226.7,921.6 226.8,920.6 226.8,920.6" fill="#000"/>
<polygon points="258.8,919.8 258.8,919.8 258.8,918.8 255.4,920.0 258.7,921.6 258.7,920.6 258.7,920.6" fill="#000"/>
<polygon points="290.7,919.8 290.7,919.8 290.8,918.8 287.4,920.0 290.6,921.6 290.7,920.6 290.7,920.6" fill="#000"/>
<polygon points="322.7,919.8 322.7,919.8 322.7,918.8 319.3,920.0 322.6,921.6 322.6,920.6 322.6,920.6" fill="#000"/>
<polygon points="354.6,919.8 354.6,919.8 354.7,918.8 351.3,920.0 354.5,921.6 354.6,920.6 354.6,920.6" fill="#000"/>
<polygon points="386.6,919.8 386.6,919.8 386.6,918.8 383.2,920.0 386.5,921.6 386.5,920.6 386.5,920.6" fill="#000"/>
<polygon points="418.5,919.8 418.5,919.8 418.6,918.8 415.2,920.0 418.4,921.6 418.5,920.6 418.5,920.6" fill="#000"/>
<polygon points="450.5,919.8 450.5,919.8 450.8,918.8 447.2,919.5 450.2,921.6 450.4,920.6 450.4,920.6" fill="#000"/>
<polygon points="482.5,919.8 482.5,919.8 482.7,918.8 479.1,919.5 482.1,921.6 482.3,920.6 482.3,920.6" fill="#000"/>
<polygon points="514.3,919.5 501.5,920.1 501.4,918.4 496.0,921.1 501.7,923.2 501.6,921.6 514.4,920.9" fill="#000"/>
<polygon points="546.3,919.5 533.5,920.1 533.4,918.4 527.9,921.1 533.6,923.2 533.5,921.6 546.3,920.9" fill="#000"/>
<polygon points="578.2,919.5 565.4,920.1 565.3,918.4 559.9,921.1 565.6,923.2 565.5,921.6 578.3,920.9" fill="#000"/>
<polygon points="610.2,919.5 597.4,920.1 597.3,918.4 591.8,921.1 597.5,923.2 597.4,921.6 610.2,920.9" fill="#000"/>
<polygon points="642.1,919.5 629.3,920.1 629.2,918.4 623.8,921.1 629.5,923.2 629.4,921.6 642.2,920.9" fill="#000"/>
<polygon points="674.1,919.5 661.3,920.1 661.2,918.4 655.7,921.1 661.4,923.2 661.3,921.6 674.1,920.9" fill="#000"/>
<polygon points="706.0,919.5 693.2,920.1 693.1,918.4 687.6,921.1 693.4,923.2 693.3,921.6 706.1,920.9" fill="#000"/>
<polygon points="738.0,919.5 725.2,920.1 725.1,918.4 719.6,921.1 725.3,923.2 725.2,921.6 738.0,920.9" fill="#000"/>
<polygon points="769.9,919.5 757.1,920.1 757.0,918.4 751.6,921.1 757.3,923.2 757.2,921.6 770.0,920.9" fill="#000"/>
<polygon points="801.9,919.5 789.1,920.1 789.0,918.4 783.5,921.1 789.2,923.2 789.1,921.6 801.9,920.9" fill="#000"/>
<polygon points="226.8,964.6 226.8,964.6 226.9,963.6 223.5,964.8 226.7,966.4 226.8,965.4 226.8,965.4" fill="#000"/>
<polygon points="258.8,964.6 258.8,964.6 258.8,963.6 255.4,964.8 258.7,966.4 258.7,965.4 258.7,965.4" fill="#000"/>
<polygon points="290.7,964.6 290.7,964.6 290.8,963.6 287.4,964.8 290.6,966.4 290.7,965.4 290.7,965.4" fill="#000"/>
<polygon points="322.7,964.6 322.7,964.6 322.7,963.6 319.3,964.8 322.6,966.4 322.6,965.4 322.6,965.4" fill="#000"/>
<polygon points="354.6,964.6 354.6,964.6 354.7,963.6 351.3,964.8 354.5,966.4 354.6,965.4 354.6,965.4" fill="#000"/>
<polygon points="386.6,964.6 386.6,964.6 386.6,963.6 383.2,964.8 386.5,966.4 386.5,965.4 386.5,965.4" fill="#000"/>
<polygon points="418.5,964.6 418.5,964.6 418.6,963.6 415.2,964.8 418.4,966.4 418.5,965.4 418.5,965.4" fill="#000"/>
<polygon points="450.5,964.6 450.5,964.6 450.8,963.6 447.2,964.3 450.2,966.4 450.4,965.4 450.4,965.4" fill="#000"/>
<polygon points="482.5,964.6 482.5,964.6 482.7,963.6 479.1,964.3 482.1,966.4 482.3,965.4 482.3,965.4" fill="#000"/>
<polygon points="514.3,964.3 501.5,964.9 501.4,963.2 496.0,965.9 501.7,968.0 501.6,966.4 514.4,965.7" fill="#000"/>
<polygon points="546.3,964.3 533.5,964.9 533.4,963.2 527.9,965.9 533.6,968.0 533.5,966.4 546.3,965.7" fill="#000"/>
<polygon points="578.2,964.3 565.4,964.9 565.3,963.2 559.9,965.9 565.6,968.0 565.5,966.4 578.3,965.7" fill="#000"/>
<polygon points="610.2,964.3 597.4,964.9 597.3,963.2 591.8,965.9 597.5,968.0 597.4,966.4 610.2,965.7" fill="#000"/>
<polygon points="642.1,964.3 629.3,964.9 629.2,963.2 623.8,965.9 629.5,968.0 629.4,966.4 642.2,965.7" fill="#000"/>
<polygon points="674.1,964.3 661.3,964.9 661.2,963.2 655.7,965.9 661.4,968.0 661.3,966.4 674.1,965.7" fill="#000"/>
<polygon points="706.0,964.3 693.2,964.9 693.1,963.2 687.6,965.9 693.4,968.0 693.3,966.4 706.1,965.7" fill="#000"/>
<polygon points="738.0,964.3 725.2,964.9 725.1,963.2 719.6,965.9 725.3,968.0 725.2,966.4 738.0,965.7" fill="#000"/>
<polygon points="769.9,964.3 757.1,964.9 757.0,963.2 751.6,965.9 757.3,968.0 757.2,966.4 770.0,965.7" fill="#000"/>
<polygon points="801.9,964.3 789.1,964.9 789.0,963.2 783.5,965.9 789.2,968.0 789.1,966.4 801.9,965.7" fill="#000"/>
<polygon points="226.8,1009.4 226.8,1009.4 226.9,1008.4 223.5,1009.6 226.7,1011.2 226.8,1010.2 226.8,1010.2" fill="#000"/>
<polygon points="258.8,1009.4 258.8,1009.4 258.8,1008.4 255.4,1009.6 258.7,1011.2 258.7,1010.2 258.7,1010.2" fill="#000"/>
<polygon points="290.7,1009.4 290.7,1009.4 290.8,1008.4 287.4,1009.6 290.6,1011.2 290.7,1010.2 290.7,1010.2" fill="#000"/>
<polygon points="322.7,1009.4 322.7,1009.4 322.7,1008.4 319.3,1009.6 322.6,1011.2 322.6,1010.2 322.6,1010.2" fill="#000"/>
<polygon points="354.6,1009.4 354.6,1009.4 354.7,1008.4 351.3,1009.6 354.5,1011.2 354.6,1010.2 354.6,1010.2" fill="#000"/>
<polygon points="386.6,1009.4 386.6,1009.4 386.6,1008.4 383.2,1009.6 386.5,1011.2 386.5,1010.2 386.5,1010.2" fill="#000"/>
<polygon points="418.5,1009.4 418.5,1009.4 418.6,1008.4 415.2,1009.6 418.4,1011.2 418.5,1010.2 418.5,1010.2" fill="#000"/>
<polygon points="450.5,1009.4 450.5,1009.4 450.8,1008.4 447.2,1009.1 450.2,1011.2 450.4,1010.2 450.4,1010.2" fill="#000"/>
<polygon points="482.5,1009.4 482.5,1009.4 482.7,1008.4 479.1,1009.1 482.1,1011.2 482.3,1010.2 482.3,1010.2" fill="#000"/>
<polygon points="514.3,1009.1 501.5,1009.7 501.4,1008.0 496.0,1010.7 501.7,1012.8 501.6,1011.2 514.4,1010.5" fill="#000"/>
<polygon points="546.3,1009.1 533.5,1009.7 533.4,1008.0 527.9,1010.7 533.6,1012.8 533.5,1011.2 546.3,1010.5" fill="#000"/>
<polygon points="578.2,1009.1 565.4,1009.7 565.3,1008.0 559.9,1010.7 565.6,1012.8 565.5,1011.2 578.3,1010.5" fill="#000"/>
<polygon points="610.2,1009.1 597.4,1009.7 597.3,1008.0 591.8,1010.7 597.5,1012.8 597.4,1011.2 610.2,1010.5" fill="#000"/>
<polygon points="642.1,1009.1 629.3,1009.7 629.2,1008.0 623.8,1010.7 629.5,1012.8 629.4,1011.2 642.2,1010.5" fill="#000"/>
<polygon points="674.1,1009.1 661.3,1009.7 661.2,1008.0 655.7,1010.7 661.4,1012.8 661.3,1011.2 674.1,1010.5" fill="#000"/>
<polygon points="706.0,1009.1 693.2,1009.7 693.1,1008.0 687.6,1010.7 693.4,1012.8 693.3,1011.2 706.1,1010.5" fill="#000"/>
<polygon points="738.0,1009.1 725.2,1009.7 725.1,1008.0 719.6,1010.7 725.3,1012.8 725.2,1011.2 738.0,1010.5" fill="#000"/>
<polygon points="769.9,1009.1 757.1,1009.7 757.0,1008.0 751.6,1010.7 757.3,1012.8 757.2,1011.2 770.0,1010.5" fill="#000"/>
<polygon points="801.9,1009.1 789.1,1009.7 789.0,1008.0 783.5,1010.7 789.2,1012.8 789.1,1011.2 801.9,1010.5" fill="#000"/>
<polygon points="226.8,1054.2 226.8,1054.2 226.9,1053.2 223.5,1054.4 226.7,1056.0 226.8,1055.0 226.8,1055.0" fill="#000"/>
<polygon points="258.8,1054.2 258.8,1054.2 258.8,1053.2 255.4,1054.4 258.7,1056.0 258.7,1055.0 258.7,1055.0" fill="#000"/>
<polygon points="290.7,1054.2 290.7,1054.2 290.8,1053.2 287.4,1054.4 290.6,1056.0 290.7,1055.0 290.7,1055.0" fill="#000"/>
<polygon points="322.7,1054.2 322.7,1054.2 322.7,1053.2 319.3,1054.4 322.6,1056.0 322.6,1055.0 322.6,1055.0" fill="#000"/>
<polygon points="354.6,1054.2 354.6,1054.2 354.7,1053.2 351.3,1054.4 354.5,1056.0 354.6,1055.0 354.6,1055.0" fill="#000"/>
<polygon points="386.6,1054.2 386.6,1054.2 386.6,1053.2 383.2,1054.4 386.5,1056.0 386.5,1055.0 386.5,1055.0" fill="#000"/>
<polygon points="418.5,1054.2 418.5,1054.2 418.6,1053.2 415.2,1054.4 418.4,1056.0 418.5,1055.0 418.5,1055.0" fill="#000"/>
<polygon points="450.5,1054.2 450.5,1054.2 450.8,1053.2 447.2,1053.9 450.2,1056.0 450.4,1055.0 450.4,1055.0" fill="#000"/>
<polygon points="482.5,1054.2 482.5,1054.2 482.7,1053.2 479.1,1053.9 482.1,1056.0 482.3,1055.0 482.3,1055.0" fill="#000"/>
<polygon points="514.3,1053.9 501.5,1054.5 501.4,1052.8 496.0,1055.5 501.7,1057.6 501.6,1056.0 514.4,1055.3" fill="#000"/>
<polygon points="546.3,1053.9 533.5,1054.5 533.4,1052.8 527.9,1055.5 533.6,1057.6 533.5,1056.0 546.3,1055.3" fill="#000"/>
<polygon points="578.2,1053.9 565.4,1054.5 565.3,1052.8 559.9,1055.5 565.6,1057.6 565.5,1056.0 578.3,1055.3" fill="#000"/>
<polygon points="610.2,1053.9 597.4,1054.5 597.3,1052.8 591.8,1055.5 597.5,1057.6 597.4,1056.0 610.2,1055.3" fill="#000"/>
<polygon points="642.1,1053.9 629.3,1054.5 629.2,1052.8 623.8,1055.5 629.5,1057.6 629.4,1056.0 642.2,1055.3" fill="#000"/>
<polygon points="674.1,1053.9 661.3,1054.5 661.2,1052.8 655.7,1055.5 661.4,1057.6 661.3,1056.0 674.1,1055.3" fill="#000"/>
<polygon points="706.0,1053.9 693.2,1054.5 693.1,1052.8 687.6,1055.5 693.4,1057.6 693.3,1056.0 706.1,1055.3" fill="#000"/>
<polygon points="738.0,1053.9 725.2,1054.5 725.1,1052.8 719.6,1055.5 725.3,1057.6 725.2,1056.0 738.0,1055.3" fill="#000"/>
<polygon points="769.9,1053.9 757.1,1054.5 757.0,1052.8 751.6,1055.5 757.3,1057.6 757.2,1056.0 770.0,1055.3" fill="#000"/>
<polygon points="801.9,1053.9 789.1,1054.5 789.0,1052.8 783.5,1055.5 789.2,1057.6 789.1,1056.0 801.9,1055.3" fill="#000"/>
<polygon points="226.8,1099.0 226.8,1099.0 226.9,1098.0 223.5,1099.2 226.7,1100.8 226.8,1099.8 226.8,1099.8" fill="#000"/>
<polygon points="258.8,1099.0 258.8,1099.0 258.8,1098.0 255.4,1099.2 258.7,1100.8 258.7,1099.8 258.7,1099.8" fill="#000"/>
<polygon points="290.7,1099.0 290.7,1099.0 290.8,1098.0 287.4,1099.2 290.6,1100.8 290.7,1099.8 290.7,1099.8" fill="#000"/>
<polygon points="322.7,1099.0 322.7,1099.0 322.7,1098.0 319.3,1099.2 322.6,1100.8 322.6,1099.8 322.6,1099.8" fill="#000"/>
<polygon points="354.6,1099.0 354.6,1099.0 354.7,1098.0 351.3,1099.2 354.5,1100.8 354.6,1099.8 354.6,1099.8" fill="#000"/>
<polygon points="386.6,1099.0 386.6,1099.0 386.6,1098.0 383.2,1099.2 386.5,1100.8 386.5,1099.8 386.5,1099.8" fill="#000"/>
<polygon points="418.5,1099.0 418.5,1099.0 418.6,1098.0 415.2,1099.2 418.4,1100.8 418.5,1099.8 418.5,1099.8" fill="#000"/>
<polygon points="450.5,1099.0 450.5,1099.0 450.5,1098.0 447.2,1099.2 450.4,1100.8 450.4,1099.8 450.4,1099.8" fill="#000"/>
<polygon points="482.5,1099.0 482.5,1099.0 482.7,1098.0 479.1,1098.7 482.1,1100.8 482.3,1099.8 482.3,1099.8" fill="#000"/>
<polygon points="514.4,1099.0 514.4,1099.0 514.6,1098.0 511.1,1098.7 514.1,1100.8 514.3,1099.8 514.3,1099.8" fill="#000"/>
<polygon points="546.3,1098.7 533.5,1099.3 533.4,1097.6 527.9,1100.3 533.6,1102.4 533.5,1100.8 546.3,1100.1" fill="#000"/>
<polygon points="578.2,1098.7 565.4,1099.3 565.3,1097.6 559.9,1100.3 565.6,1102.4 565.5,1100.8 578.3,1100.1" fill="#000"/>
<polygon points="610.2,1098.7 597.4,1099.3 597.3,1097.6 591.8,1100.3 597.5,1102.4 597.4,1100.8 610.2,1100.1" fill="#000"/>
<polygon points="642.1,1098.7 629.3,1099.3 629.2,1097.6 623.8,1100.3 629.5,1102.4 629.4,1100.8 642.2,1100.1" fill="#000"/>
<polygon points="674.1,1098.7 661.3,1099.3 661.2,1097.6 655.7,1100.3 661.4,1102.4 661.3,1100.8 674.1,1100.1" fill="#000"/>
<polygon points="706.0,1098.7 693.2,1099.3 693.1,1097.6 687.6,1100.3 693.4,1102.4 693.3,1100.8 706.1,1100.1" fill="#000"/>
<polygon points="738.0,1098.7 725.2,1099.3 725.1,1097.6 719.6,1100.3 725.3,1102.4 725.2,1100.8 738.0,1100.1" fill="#000"/>
<polygon points="769.9,1098.7 757.1,1099.3 757.0,1097.6 751.6,1100.3 757.3,1102.4 757.2,1100.8 770.0,1100.1" fill="#000"/>
<polygon points="801.9,1098.7 789.1,1099.3 789.0,1097.6 783.5,1100.3 789.2,1102.4 789.1,1100.8 801.9,1100.1" fill="#000"/>
<polygon points="226.8,1143.8 226.8,1143.8 226.9,1142.8 223.5,1144.0 226.7,1145.6 226.8,1144.6 226.8,1144.6" fill="#000"/>
<polygon points="258.8,1143.8 258.8,1143.8 258.8,1142.8 255.4,1144.0 258.7,1145.6 258.7,1144.6 258.7,1144.6" fill="#000"/>
<polygon points="290.7,1143.8 290.7,1143.8 290.8,1142.8 287.4,1144.0 290.6,1145.6 290.7,1144.6 290.7,1144.6" fill="#000"/>
<polygon points="322.7,1143.8 322.7,1143.8 322.7,1142.8 319.3,1144.0 322.6,1145.6 322.6,1144.6 322.6,1144.6" fill="#000"/>
<polygon points="354.6,1143.8 354.6,1143.8 354.7,1142.8 351.3,1144.0 354.5,1145.6 354.6,1144.6 354.6,1144.6" fill="#000"/>
<polygon points="386.6,1143.8 386.6,1143.8 386.6,1142.8 383.2,1144.0 386.5,1145.6 386.5,1144.6 386.5,1144.6" fill="#000"/>
<polygon points="418.5,1143.8 418.5,1143.8 418.6,1142.8 415.2,1144.0 418.4,1145.6 418.5,1144.6 418.5,1144.6" fill="#000"/>
<polygon points="450.5,1143.8 450.5,1143.8 450.5,1142.8 447.2,1144.0 450.4,1145.6 450.4,1144.6 450.4,1144.6" fill="#000"/>
<polygon points="482.5,1143.8 482.5,1143.8 482.7,1142.8 479.1,1143.5 482.1,1145.6 482.3,1144.6 482.3,1144.6" fill="#000"/>
<polygon points="514.4,1143.8 514.4,1143.8 514.6,1142.8 511.1,1143.5 514.1,1145.6 514.3,1144.6 514.3,1144.6" fill="#000"/>
<polygon points="546.3,1143.5 533.5,1144.1 533.4,1142.4 527.9,1145.1 533.6,1147.2 533.5,1145.6 546.3,1144.9" fill="#000"/>
<polygon points="578.2,1143.5 565.4,1144.1 565.3,1142.4 559.9,1145.1 565.6,1147.2 565.5,1145.6 578.3,1144.9" fill="#000"/>
<polygon points="610.2,1143.5 597.4,1144.1 597.3,1142.4 591.8,1145.1 597.5,1147.2 597.4,1145.6 610.2,1144.9" fill="#000"/>
<polygon points="642.1,1143.5 629.3,1144.1 629.2,1142.4 623.8,1145.1 629.5,1147.2 629.4,1145.6 642.2,1144.9" fill="#000"/>
<polygon points="674.1,1143.5 661.3,1144.1 661.2,1142.4 655.7,1145.1 661.4,1147.2 661.3,1145.6 674.1,1144.9" fill="#000"/>
<polygon points="706.0,1143.5 693.2,1144.1 693.1,1142.4 687.6,1145.1 693.4,1147.2 693.3,1145.6 706.1,1144.9" fill="#000"/>
<polygon points="738.0,1143.5 725.2,1144.1 725.1,1142.4 719.6,1145.1 725.3,1147.2 725.2,1145.6 738.0,1144.9" fill="#000"/>
<polygon points="769.9,1143.5 757.1,1144.1 757.0,1142.4 751.6,1145.1 757.3,1147.2 757.2,1145.6 770.0,1144.9" fill="#000"/>
<polygon points="801.9,1143.5 789.1,1144.1 789.0,1142.4 783.5,1145.1 789.2,1147.2 789.1,1145.6 801.9,1144.9" fill="#000"/>
<polygon points="226.8,1188.6 226.8,1188.6 226.9,1187.6 223.5,1188.8 226.7,1190.4 226.8,1189.4 226.8,1189.4" fill="#000"/>
<polygon points="258.8,1188.6 258.8,1188.6 258.8,1187.6 255.4,1188.8 258.7,1190.4 258.7,1189.4 258.7,1189.4" fill="#000"/>
<polygon points="290.7,1188.6 290.7,1188.6 290.8,1187.6 287.4,1188.8 290.6,1190.4 290.7,1189.4 290.7,1189.4" fill="#000"/>
<polygon points="322.7,1188.6 322.7,1188.6 322.7,1187.6 319.3,1188.8 322.6,1190.4 322.6,1189.4 322.6,1189.4" fill="#000"/>
<polygon points="354.6,1188.6 354.6,1188.6 354.7,1187.6 351.3,1188.8 354.5,1190.4 354.6,1189.4 354.6,1189.4" fill="#000"/>
<polygon points="386.6,1188.6 386.6,1188.6 386.6,1187.6 383.2,1188.8 386.5,1190.4 386.5,1189.4 386.5,1189.4" fill="#000"/>
<polygon points="418.5,1188.6 418.5,1188.6 418.6,1187.6 415.2,1188.8 418.4,1190.4 418.5,1189.4 418.5,1189.4" fill="#000"/>
<polygon points="450.5,1188.6 450.5,1188.6 450.5,1187.6 447.2,1188.8 450.4,1190.4 450.4,1189.4 450.4,1189.4" fill="#000"/>
<polygon points="482.4,1188.6 482.4,1188.6 482.5,1187.6 479.1,1188.8 482.3,1190.4 482.4,1189.4 482.4,1189.4" fill="#000"/>
<polygon points="514.4,1188.6 514.4,1188.6 514.6,1187.6 511.1,1188.3 514.1,1190.4 514.3,1189.4 514.3,1189.4" fill="#000"/>
<polygon points="546.4,1188.6 546.4,1188.6 546.6,1187.6 543.0,1188.3 546.0,1190.4 546.2,1189.4 546.2,1189.4" fill="#000"/>
<polygon points="578.2,1188.3 567.2,1188.8 567.2,1187.1 561.7,1189.8 567.4,1191.9 567.3,1190.3 578.3,1189.7" fill="#000"/>
<polygon points="610.2,1188.3 599.2,1188.8 599.1,1187.1 593.6,1189.8 599.4,1191.9 599.3,1190.3 610.2,1189.7" fill="#000"/>
<polygon points="642.1,1188.3 631.1,1188.8 631.1,1187.1 625.6,1189.8 631.3,1191.9 631.2,1190.3 642.2,1189.7" fill="#000"/>
<polygon points="674.1,1188.3 663.1,1188.8 663.0,1187.1 657.5,1189.8 663.3,1191.9 663.2,1190.3 674.1,1189.7" fill="#000"/>
<polygon points="706.0,1188.3 695.0,1188.8 695.0,1187.1 689.5,1189.8 695.2,1191.9 695.1,1190.3 706.1,1189.7" fill="#000"/>
<polygon points="738.0,1188.3 727.0,1188.8 726.9,1187.1 721.4,1189.8 727.2,1191.9 727.1,1190.3 738.0,1189.7" fill="#000"/>
<polygon points="769.9,1188.3 758.9,1188.8 758.9,1187.1 753.4,1189.8 759.1,1191.9 759.0,1190.3 770.0,1189.7" fill="#000"/>
<polygon points="801.9,1188.3 790.9,1188.8 790.8,1187.1 785.3,1189.8 791.1,1191.9 791.0,1190.3 801.9,1189.7" fill="#000"/>
</g>
<path d="M564.2,785.5 C560.7,792.1 550.3,811.8 543.3,825.0 C536.3,838.2 527.4,855.0 522.1,865.0 C516.8,875.0 514.7,879.0 511.5,885.0 C508.3,891.0 505.8,895.8 503.0,901.0 C500.2,906.2 497.0,911.3 495.0,916.0 C493.0,920.7 492.1,924.8 491.0,929.0 C489.9,933.2 489.2,936.3 488.5,941.0 C487.8,945.7 487.2,951.3 486.8,957.0 C486.4,962.7 486.3,969.5 486.2,975.0 C486.1,980.5 486.2,984.0 486.3,990.0 C486.4,996.0 486.5,1004.2 487.0,1011.0 C487.5,1017.8 488.4,1025.5 489.5,1031.0 C490.6,1036.5 491.9,1039.8 493.5,1044.0 C495.1,1048.2 495.8,1049.6 498.9,1056.0 C502.0,1062.4 507.8,1073.8 512.0,1082.6 C516.2,1091.4 520.2,1100.0 524.3,1108.8 C528.4,1117.5 532.5,1126.3 536.6,1135.1 C540.7,1143.9 544.4,1152.6 548.8,1161.4 C553.2,1170.2 560.5,1183.3 562.8,1187.7" fill="none" stroke="#000" stroke-width="5.2" stroke-linejoin="round" stroke-linecap="round"/>
<rect x="196.5" y="785.5" width="605.1" height="403.5" fill="none" stroke="#000" stroke-width="1.6"/>
<rect x="205.6" y="794.7" width="133.9" height="30.3" fill="#e9e0dc" fill-opacity="0.6" stroke="#000" stroke-width="2.6"/>
<text x="211.5" y="818.5" font-size="25" textLength="120.0" lengthAdjust="spacingAndGlyphs"><tspan font-style="italic">z</tspan> = 30 km</text>
<line x1="189.5" y1="785.5" x2="196.5" y2="785.5" stroke="#000" stroke-width="1.4"/>
<text x="111.6" y="793.6" font-size="22.6" textLength="65.2" lengthAdjust="spacingAndGlyphs">4,000</text>
<line x1="189.5" y1="886.4" x2="196.5" y2="886.4" stroke="#000" stroke-width="1.4"/>
<text x="111.6" y="894.5" font-size="22.6" textLength="65.2" lengthAdjust="spacingAndGlyphs">3,000</text>
<line x1="189.5" y1="987.2" x2="196.5" y2="987.2" stroke="#000" stroke-width="1.4"/>
<text x="111.6" y="995.4" font-size="22.6" textLength="65.2" lengthAdjust="spacingAndGlyphs">2,000</text>
<line x1="189.5" y1="1088.1" x2="196.5" y2="1088.1" stroke="#000" stroke-width="1.4"/>
<text x="115.8" y="1096.2" font-size="22.6" textLength="61.0" lengthAdjust="spacingAndGlyphs">1,000</text>
<line x1="189.5" y1="1189.0" x2="196.5" y2="1189.0" stroke="#000" stroke-width="1.4"/>
<text x="161.2" y="1197.1" font-size="22.6" textLength="15.6" lengthAdjust="spacingAndGlyphs">0</text>
<line x1="196.5" y1="1189.0" x2="196.5" y2="1196.0" stroke="#000" stroke-width="1.4"/>
<text x="164.6" y="1226.4" font-size="22.6" textLength="61.0" lengthAdjust="spacingAndGlyphs">1,000</text>
<line x1="297.4" y1="1189.0" x2="297.4" y2="1196.0" stroke="#000" stroke-width="1.4"/>
<text x="264.9" y="1226.4" font-size="22.6" textLength="65.2" lengthAdjust="spacingAndGlyphs">2,000</text>
<line x1="398.2" y1="1189.0" x2="398.2" y2="1196.0" stroke="#000" stroke-width="1.4"/>
<text x="365.7" y="1226.4" font-size="22.6" textLength="65.2" lengthAdjust="spacingAndGlyphs">3,000</text>
<line x1="499.1" y1="1189.0" x2="499.1" y2="1196.0" stroke="#000" stroke-width="1.4"/>
<text x="466.6" y="1226.4" font-size="22.6" textLength="65.2" lengthAdjust="spacingAndGlyphs">4,000</text>
<line x1="599.9" y1="1189.0" x2="599.9" y2="1196.0" stroke="#000" stroke-width="1.4"/>
<text x="567.4" y="1226.4" font-size="22.6" textLength="65.2" lengthAdjust="spacingAndGlyphs">5,000</text>
<line x1="700.8" y1="1189.0" x2="700.8" y2="1196.0" stroke="#000" stroke-width="1.4"/>
<text x="668.2" y="1226.4" font-size="22.6" textLength="65.2" lengthAdjust="spacingAndGlyphs">6,000</text>
<line x1="801.6" y1="1189.0" x2="801.6" y2="1196.0" stroke="#000" stroke-width="1.4"/>
<text x="769.1" y="1226.4" font-size="22.6" textLength="65.2" lengthAdjust="spacingAndGlyphs">7,000</text>
<text x="460.5" y="1263.5" font-size="27.5" textLength="74.0" lengthAdjust="spacingAndGlyphs"><tspan font-style="italic">x</tspan> (km)</text>
<text transform="translate(89.0,987.5) rotate(-90)" font-size="27.5" text-anchor="middle" textLength="74" lengthAdjust="spacingAndGlyphs"><tspan font-style="italic">y</tspan> (km)</text>
<text x="68.5" y="770.0" font-size="41" textLength="22.0" lengthAdjust="spacingAndGlyphs" font-weight="bold">e</text>
<text x="660.9" y="777.0" font-size="22.6" textLength="94.4" lengthAdjust="spacingAndGlyphs">10 cm yr</text>
<text x="754.0" y="767.5" font-size="14" textLength="12.0" lengthAdjust="spacingAndGlyphs">−1</text>
<polygon points="774.0,770.9 790.6,770.9 790.6,772.5 796.0,770.2 790.6,767.9 790.6,769.5 774.0,769.5" fill="#000"/>
<g clip-path="url(#clipf)">
<g clip-path="url(#fR)">
<rect x="1077.8" y="783.5" width="607.1" height="407.5" fill="url(#gFR)"/>
<path d="M1493.4,865.0 C1491.6,868.3 1486.0,879.0 1482.8,885.0 C1479.6,891.0 1477.0,895.8 1474.3,901.0 C1471.5,906.2 1468.3,911.3 1466.3,916.0 C1464.3,920.7 1463.4,924.8 1462.3,929.0 C1461.2,933.2 1460.5,936.3 1459.8,941.0 C1459.1,945.7 1458.5,951.3 1458.1,957.0 C1457.7,962.7 1457.6,969.5 1457.5,975.0 C1457.4,980.5 1457.5,984.0 1457.6,990.0 C1457.7,996.0 1457.8,1004.2 1458.3,1011.0 C1458.8,1017.8 1459.7,1025.5 1460.8,1031.0 C1461.9,1036.5 1463.2,1039.8 1464.8,1044.0 C1466.4,1048.2 1467.1,1049.6 1470.2,1056.0 C1473.3,1062.4 1479.1,1073.8 1483.3,1082.6 C1487.5,1091.4 1493.5,1104.4 1495.6,1108.8" fill="none" stroke="#9db9f8" stroke-width="130" stroke-linecap="butt" stroke-linejoin="round" filter="url(#bl18)" opacity="0.95"/>
<rect x="1586.3" y="865" width="85" height="270" fill="#b6cbf6" filter="url(#bl14)" opacity="0.75"/>
<path d="M1447.3,780.0 C1447.0,780.9 1449.3,778.0 1445.5,785.5 C1441.7,793.0 1431.6,811.8 1424.6,825.0 C1417.6,838.2 1408.7,855.0 1403.4,865.0 C1398.1,875.0 1396.0,879.0 1392.8,885.0 C1389.6,891.0 1387.0,895.8 1384.3,901.0 C1381.5,906.2 1378.3,911.3 1376.3,916.0 C1374.3,920.7 1373.4,924.8 1372.3,929.0 C1371.2,933.2 1370.5,936.3 1369.8,941.0 C1369.1,945.7 1368.5,951.3 1368.1,957.0 C1367.7,962.7 1367.6,969.5 1367.5,975.0 C1367.4,980.5 1367.5,984.0 1367.6,990.0 C1367.7,996.0 1367.8,1004.2 1368.3,1011.0 C1368.8,1017.8 1369.7,1025.5 1370.8,1031.0 C1371.9,1036.5 1373.2,1039.8 1374.8,1044.0 C1376.4,1048.2 1377.1,1049.6 1380.2,1056.0 C1383.3,1062.4 1389.1,1073.8 1393.3,1082.6 C1397.5,1091.4 1401.5,1100.0 1405.6,1108.8 C1409.7,1117.5 1413.8,1126.3 1417.9,1135.1 C1422.0,1143.9 1425.7,1152.6 1430.1,1161.4 C1434.5,1170.2 1441.5,1182.1 1444.1,1187.7 C1446.7,1193.3 1445.5,1193.8 1445.8,1195.0" fill="none" stroke="#bed2f6" stroke-width="74" stroke-linejoin="round" stroke-linecap="round" filter="url(#bl3)"/>
<path d="M1447.3,780.0 C1447.0,780.9 1449.3,778.0 1445.5,785.5 C1441.7,793.0 1431.6,811.8 1424.6,825.0 C1417.6,838.2 1408.7,855.0 1403.4,865.0 C1398.1,875.0 1396.0,879.0 1392.8,885.0 C1389.6,891.0 1387.0,895.8 1384.3,901.0 C1381.5,906.2 1378.3,911.3 1376.3,916.0 C1374.3,920.7 1373.4,924.8 1372.3,929.0 C1371.2,933.2 1370.5,936.3 1369.8,941.0 C1369.1,945.7 1368.5,951.3 1368.1,957.0 C1367.7,962.7 1367.6,969.5 1367.5,975.0 C1367.4,980.5 1367.5,984.0 1367.6,990.0 C1367.7,996.0 1367.8,1004.2 1368.3,1011.0 C1368.8,1017.8 1369.7,1025.5 1370.8,1031.0 C1371.9,1036.5 1373.2,1039.8 1374.8,1044.0 C1376.4,1048.2 1377.1,1049.6 1380.2,1056.0 C1383.3,1062.4 1389.1,1073.8 1393.3,1082.6 C1397.5,1091.4 1401.5,1100.0 1405.6,1108.8 C1409.7,1117.5 1413.8,1126.3 1417.9,1135.1 C1422.0,1143.9 1425.7,1152.6 1430.1,1161.4 C1434.5,1170.2 1441.5,1182.1 1444.1,1187.7 C1446.7,1193.3 1445.5,1193.8 1445.8,1195.0" fill="none" stroke="#3d4fc4" stroke-width="57" stroke-linejoin="round" stroke-linecap="round" filter="url(#bl0)"/>
<path d="M1451.3,780.0 C1451.0,780.9 1453.3,778.0 1449.5,785.5 C1445.7,793.0 1435.6,811.8 1428.6,825.0 C1421.6,838.2 1412.7,855.0 1407.4,865.0 C1402.1,875.0 1400.0,879.0 1396.8,885.0 C1393.6,891.0 1391.0,895.8 1388.3,901.0 C1385.5,906.2 1382.3,911.3 1380.3,916.0 C1378.3,920.7 1377.4,924.8 1376.3,929.0 C1375.2,933.2 1374.5,936.3 1373.8,941.0 C1373.1,945.7 1372.5,951.3 1372.1,957.0 C1371.7,962.7 1371.6,969.5 1371.5,975.0 C1371.4,980.5 1371.5,984.0 1371.6,990.0 C1371.7,996.0 1371.8,1004.2 1372.3,1011.0 C1372.8,1017.8 1373.7,1025.5 1374.8,1031.0 C1375.9,1036.5 1377.2,1039.8 1378.8,1044.0 C1380.4,1048.2 1381.1,1049.6 1384.2,1056.0 C1387.3,1062.4 1393.1,1073.8 1397.3,1082.6 C1401.5,1091.4 1405.5,1100.0 1409.6,1108.8 C1413.7,1117.5 1417.8,1126.3 1421.9,1135.1 C1426.0,1143.9 1429.7,1152.6 1434.1,1161.4 C1438.5,1170.2 1445.5,1182.1 1448.1,1187.7 C1450.7,1193.3 1449.5,1193.8 1449.8,1195.0" fill="none" stroke="#6f8ee8" stroke-width="4" stroke-linejoin="round" stroke-linecap="round" filter="url(#bl0)" opacity="0.7"/>
</g>
<g clip-path="url(#fL)">
<rect x="1075.8" y="783.5" width="384.2" height="407.5" fill="url(#gFL)"/>
<path d="M1047.8,1010 C1150,1030 1240,1045 1300,1060 L1330,1075 L1262,1205 L1047.8,1215 Z" fill="url(#gFLb)" filter="url(#bl18)"/>
<path d="M1047.8,1120 L1270,1130 L1270,1220 L1047.8,1220 Z" fill="#c6d3ef" filter="url(#bl14)" opacity="0.8"/>
<ellipse cx="1256" cy="1182" rx="8" ry="10" fill="#5570d8" filter="url(#bl4)"/>
<ellipse cx="1291" cy="1182" rx="9" ry="10" fill="#4a62d0" filter="url(#bl4)"/>
<ellipse cx="1320" cy="950" rx="80" ry="90" fill="#f1b39c" filter="url(#bl18)" opacity="0.8"/>
<path d="M1398.3,784.0 C1395.8,786.9 1389.0,794.3 1383.5,801.3 C1378.0,808.3 1372.1,818.1 1365.5,826.0 C1358.9,833.9 1350.4,841.2 1344.1,848.9 C1337.8,856.5 1332.6,864.5 1327.7,871.9 C1322.8,879.3 1320.1,887.7 1314.6,893.2 C1309.1,898.7 1301.5,900.9 1294.9,904.7 C1288.3,908.5 1280.7,912.1 1275.2,916.2 C1269.7,920.3 1265.2,925.0 1262.1,929.4 C1258.9,933.8 1257.5,937.0 1256.3,942.5 C1255.1,948.0 1254.0,955.6 1254.7,962.2 C1255.4,968.8 1256.4,974.5 1260.4,981.9 C1264.4,989.3 1271.4,999.7 1278.5,1006.5 C1285.6,1013.3 1294.9,1018.8 1303.1,1022.9 C1311.3,1027.0 1321.1,1029.2 1327.7,1031.1 C1334.3,1033.0 1337.1,1033.9 1342.5,1034.4 C1347.9,1034.9 1355.4,1039.7 1360.0,1034.0 C1364.6,1028.3 1366.7,1022.3 1370.0,1000.0 C1373.3,977.7 1366.7,936.0 1380.0,900.0 C1393.3,864.0 1438.3,803.3 1450.0,784.0 Z" fill="#f0a387" filter="url(#bl4)" opacity="0.95"/>
<path d="M1324.4,962.2 C1322.8,965.8 1316.0,976.9 1314.6,983.5 C1313.2,990.1 1314.0,995.6 1316.2,1001.6 C1318.4,1007.6 1323.7,1014.9 1327.7,1019.6 C1331.7,1024.3 1335.5,1027.6 1340.0,1030.0 C1344.5,1032.4 1350.7,1039.0 1355.0,1034.0 C1359.3,1029.0 1363.8,1014.0 1366.0,1000.0 C1368.2,986.0 1369.7,958.5 1368.0,950.0 C1366.3,941.5 1360.3,948.2 1355.6,949.0 C1350.9,949.8 1342.6,954.0 1340.0,955.0 Z" fill="#e9866c" filter="url(#bl4)" opacity="0.95"/>
<ellipse cx="1345" cy="1000" rx="14" ry="22" fill="#d9544a" filter="url(#bl8)" opacity="0.9"/>
<path d="M1447.3,780.0 C1447.0,780.9 1449.3,778.0 1445.5,785.5 C1441.7,793.0 1431.6,811.8 1424.6,825.0 C1417.6,838.2 1408.7,855.0 1403.4,865.0 C1398.1,875.0 1396.0,879.0 1392.8,885.0 C1389.6,891.0 1387.0,895.8 1384.3,901.0 C1381.5,906.2 1378.3,911.3 1376.3,916.0 C1374.3,920.7 1373.4,924.8 1372.3,929.0 C1371.2,933.2 1370.5,936.3 1369.8,941.0 C1369.1,945.7 1368.5,951.3 1368.1,957.0 C1367.7,962.7 1367.6,972.0 1367.5,975.0" fill="none" stroke="#ef987c" stroke-width="40" stroke-linejoin="round" stroke-linecap="round" filter="url(#bl8)" opacity="0.8"/>
<path d="M1447.3,780.0 C1447.0,780.9 1449.3,778.0 1445.5,785.5 C1441.7,793.0 1431.6,811.8 1424.6,825.0 C1417.6,838.2 1408.7,855.0 1403.4,865.0 C1398.1,875.0 1396.0,879.0 1392.8,885.0 C1389.6,891.0 1387.0,895.8 1384.3,901.0 C1381.5,906.2 1378.3,911.3 1376.3,916.0 C1374.3,920.7 1373.4,924.8 1372.3,929.0 C1371.2,933.2 1370.5,936.3 1369.8,941.0 C1369.1,945.7 1368.5,951.3 1368.1,957.0 C1367.7,962.7 1367.6,969.5 1367.5,975.0 C1367.4,980.5 1367.6,987.5 1367.6,990.0" fill="none" stroke="#c41a30" stroke-width="13" stroke-linejoin="round" stroke-linecap="round" filter="url(#bl0)"/>
<path d="M1384,895 C1374,915 1364,930 1359,945 C1355,962 1355,985 1352,1000 C1350,1012 1347,1025 1343,1034 L1372,1034 L1369,1000 L1369,960 L1376,925 Z" fill="#c41a30" filter="url(#bl0)"/>
<path d="M1357,1036 L1368,1036 C1372,1050 1378,1062 1386,1075 L1445,1189 L1271,1189 Z" fill="#d8dce5"/>
<path d="M1375,1055 L1445,1189 L1400,1189 Z" fill="#ecd2c4" filter="url(#bl8)"/>
<path d="M1425,1150 L1442,1189 L1420,1189 Z" fill="#c0102a" filter="url(#bl0)"/>
<ellipse cx="1291" cy="1183" rx="8" ry="9" fill="#4a62d0" filter="url(#bl4)"/>
<path d="M1366.5,1030.5 C1366.3,1030.8 1379.8,1006.0 1365.4,1032.3 C1351.0,1058.6 1294.5,1161.8 1280.1,1188.2 C1265.7,1214.7 1279.2,1190.5 1279.0,1191.0" fill="none" stroke="#b4caf2" stroke-width="12" stroke-linejoin="round" stroke-linecap="round" filter="url(#bl4)" opacity="0.9"/>
<path d="M1347.5,1030.5 C1347.3,1030.8 1360.8,1006.0 1346.4,1032.3 C1332.0,1058.6 1275.5,1161.8 1261.1,1188.2 C1246.7,1214.7 1260.2,1190.5 1260.0,1191.0" fill="none" stroke="#f0b8a0" stroke-width="10" stroke-linejoin="round" stroke-linecap="round" filter="url(#bl3)" opacity="0.9"/>
<path d="M1351.4,1032.3 C1337.2,1058.3 1280.3,1162.2 1266.1,1188.2" fill="none" stroke="#7a7a7a" stroke-width="8" stroke-linejoin="round" stroke-linecap="round"/>
</g>
<path d="M1398.3,784.0 C1395.8,786.9 1389.0,794.3 1383.5,801.3 C1378.0,808.3 1372.1,818.1 1365.5,826.0 C1358.9,833.9 1350.4,841.2 1344.1,848.9 C1337.8,856.5 1332.6,864.5 1327.7,871.9 C1322.8,879.3 1320.1,887.7 1314.6,893.2 C1309.1,898.7 1301.5,900.9 1294.9,904.7 C1288.3,908.5 1280.7,912.1 1275.2,916.2 C1269.7,920.3 1265.2,925.0 1262.1,929.4 C1258.9,933.8 1257.5,937.0 1256.3,942.5 C1255.1,948.0 1254.0,955.6 1254.7,962.2 C1255.4,968.8 1256.4,974.5 1260.4,981.9 C1264.4,989.3 1271.4,999.7 1278.5,1006.5 C1285.6,1013.3 1294.9,1018.8 1303.1,1022.9 C1311.3,1027.0 1321.1,1029.2 1327.7,1031.1 C1334.3,1033.0 1339.0,1033.2 1342.5,1034.4 C1346.0,1035.6 1347.9,1037.4 1349.0,1038.0" fill="none" stroke="#717171" stroke-width="2.2" stroke-linejoin="round" stroke-linecap="round"/>
<path d="M1345.8,954.8 C1347.4,953.8 1353.1,952.1 1355.6,949.0 C1358.0,945.9 1359.4,940.7 1360.5,935.9 C1361.6,931.1 1360.8,926.0 1362.0,920.0 C1363.2,914.0 1367.0,903.3 1368.0,900.0" fill="none" stroke="#717171" stroke-width="2" stroke-linejoin="round" stroke-linecap="round"/>
<path d="M1324.4,962.2 C1322.8,965.8 1316.0,976.9 1314.6,983.5 C1313.2,990.1 1314.0,995.6 1316.2,1001.6 C1318.4,1007.6 1323.7,1014.9 1327.7,1019.6 C1331.7,1024.3 1336.3,1027.4 1340.0,1030.0 C1343.7,1032.6 1348.3,1034.2 1350.0,1035.0" fill="none" stroke="#717171" stroke-width="2" stroke-linejoin="round" stroke-linecap="round"/>
<path d="M1439.7,785.5 C1436.5,792.1 1427.4,811.8 1420.4,825.0 C1413.4,838.2 1402.9,855.0 1397.6,865.0 C1392.3,875.0 1391.8,879.0 1388.6,885.0 C1385.4,891.0 1381.2,895.8 1378.5,901.0 C1375.8,906.2 1374.1,911.3 1372.1,916.0 C1370.1,920.7 1367.6,924.8 1366.5,929.0 C1365.4,933.2 1366.3,936.3 1365.6,941.0 C1364.9,945.7 1362.7,951.3 1362.3,957.0 C1361.9,962.7 1363.4,969.5 1363.3,975.0 C1363.2,980.5 1361.7,984.0 1361.8,990.0 C1361.9,996.0 1363.7,1007.5 1364.1,1011.0" fill="none" stroke="#717171" stroke-width="1.8" stroke-linejoin="round" stroke-linecap="round"/>
<path d="M1434.7,785.5 C1431.5,792.1 1422.4,811.8 1415.4,825.0 C1408.4,838.2 1397.9,855.0 1392.6,865.0 C1387.3,875.0 1386.8,879.0 1383.6,885.0 C1380.4,891.0 1376.2,895.8 1373.5,901.0 C1370.8,906.2 1369.1,911.3 1367.1,916.0 C1365.1,920.7 1362.6,924.8 1361.5,929.0 C1360.4,933.2 1361.3,936.3 1360.6,941.0 C1359.9,945.7 1357.7,951.3 1357.3,957.0 C1356.9,962.7 1358.1,972.0 1358.3,975.0" fill="none" stroke="#717171" stroke-width="1.8" stroke-linejoin="round" stroke-linecap="round"/>
<path d="M1352.0,1010.0 C1351.7,1006.7 1349.8,995.8 1350.0,990.0 C1350.2,984.2 1352.0,980.8 1353.0,975.0 C1354.0,969.2 1354.8,960.8 1356.0,955.0 C1357.2,949.2 1359.3,942.5 1360.0,940.0" fill="none" stroke="#717171" stroke-width="1.8" stroke-linejoin="round" stroke-linecap="round"/>
<ellipse cx="1352.3" cy="929.4" rx="2.6" ry="5" fill="none" stroke="#717171" stroke-width="1.6" transform="rotate(15 1352.3 929.4)"/>
<path d="M1361.6,990.0 C1361.7,993.5 1361.8,1004.2 1362.3,1011.0 C1362.8,1017.8 1363.7,1025.5 1364.8,1031.0 C1365.9,1036.5 1367.2,1039.8 1368.8,1044.0 C1370.4,1048.2 1371.1,1049.6 1374.2,1056.0 C1377.3,1062.4 1383.1,1073.8 1387.3,1082.6 C1391.5,1091.4 1395.5,1100.0 1399.6,1108.8 C1403.7,1117.5 1407.8,1126.3 1411.9,1135.1 C1416.0,1143.9 1419.7,1152.6 1424.1,1161.4 C1428.5,1170.2 1435.8,1183.3 1438.1,1187.7" fill="none" stroke="#717171" stroke-width="1.8" stroke-linejoin="round" stroke-linecap="round"/>
<path d="M1357.6,990.0 C1357.7,993.5 1357.8,1004.2 1358.3,1011.0 C1358.8,1017.8 1359.7,1025.5 1360.8,1031.0 C1361.9,1036.5 1363.2,1039.8 1364.8,1044.0 C1366.4,1048.2 1367.1,1049.6 1370.2,1056.0 C1373.3,1062.4 1379.1,1073.8 1383.3,1082.6 C1387.5,1091.4 1391.5,1100.0 1395.6,1108.8 C1399.7,1117.5 1403.8,1126.3 1407.9,1135.1 C1412.0,1143.9 1415.7,1152.6 1420.1,1161.4 C1424.5,1170.2 1431.8,1183.3 1434.1,1187.7" fill="none" stroke="#717171" stroke-width="1.8" stroke-linejoin="round" stroke-linecap="round"/>
</g>
<g><rect x="1361.4" y="803.8" width="23.4" height="18.9" fill="#737373"/>
<text x="1373.1" y="820.1" font-size="19" text-anchor="middle" textLength="18.9" lengthAdjust="spacingAndGlyphs" fill="#ffffff">20</text>
</g>
<g><rect x="1239.4" y="943.6" width="25.5" height="18.6" fill="#737373"/>
<text x="1252.2" y="959.6" font-size="19" text-anchor="middle" textLength="21.0" lengthAdjust="spacingAndGlyphs" fill="#ffffff">20</text>
</g>
<g><rect x="1317.5" y="943.6" width="23.7" height="18.6" fill="#737373"/>
<text x="1329.3" y="959.6" font-size="19" text-anchor="middle" textLength="19.2" lengthAdjust="spacingAndGlyphs" fill="#ffffff">30</text>
</g>
<g><rect x="1329.7" y="1006.2" width="23.4" height="16.7" fill="#737373"/>
<text x="1341.4" y="1020.3" font-size="19" text-anchor="middle" textLength="18.9" lengthAdjust="spacingAndGlyphs" fill="#ffffff">40</text>
</g>
<g clip-path="url(#clipf)">
<polygon points="1108.1,785.4 1108.1,785.4 1108.2,784.4 1104.8,785.6 1108.0,787.2 1108.1,786.2 1108.1,786.2" fill="#000"/>
<polygon points="1140.1,785.4 1140.1,785.4 1140.1,784.4 1136.8,785.6 1140.0,787.2 1140.0,786.2 1140.0,786.2" fill="#000"/>
<polygon points="1172.0,785.4 1172.0,785.4 1172.1,784.4 1168.7,785.6 1171.9,787.2 1172.0,786.2 1172.0,786.2" fill="#000"/>
<polygon points="1204.0,785.4 1204.0,785.4 1204.0,784.4 1200.6,785.6 1203.9,787.2 1203.9,786.2 1203.9,786.2" fill="#000"/>
<polygon points="1235.9,785.4 1235.9,785.4 1236.0,784.4 1232.6,785.6 1235.8,787.2 1235.9,786.2 1235.9,786.2" fill="#000"/>
<polygon points="1267.9,785.4 1267.9,785.4 1267.9,784.4 1264.5,785.6 1267.8,787.2 1267.8,786.2 1267.8,786.2" fill="#000"/>
<polygon points="1299.8,785.4 1299.8,785.4 1299.9,784.4 1296.5,785.6 1299.7,787.2 1299.8,786.2 1299.8,786.2" fill="#000"/>
<polygon points="1331.8,785.4 1331.8,785.4 1331.8,784.4 1328.5,785.6 1331.7,787.2 1331.7,786.2 1331.7,786.2" fill="#000"/>
<polygon points="1363.7,785.4 1363.7,785.4 1363.8,784.4 1360.4,785.6 1363.6,787.2 1363.7,786.2 1363.7,786.2" fill="#000"/>
<polygon points="1395.7,785.4 1395.7,785.4 1395.9,784.4 1392.3,785.1 1395.3,787.2 1395.6,786.2 1395.6,786.2" fill="#000"/>
<polygon points="1427.7,785.4 1427.7,785.4 1427.9,784.4 1424.3,785.1 1427.3,787.2 1427.5,786.2 1427.5,786.2" fill="#000"/>
<polygon points="1459.5,785.1 1448.5,785.6 1448.5,783.9 1443.0,786.6 1448.7,788.7 1448.6,787.1 1459.6,786.5" fill="#000"/>
<polygon points="1491.5,785.1 1480.5,785.6 1480.4,783.9 1474.9,786.6 1480.7,788.7 1480.6,787.1 1491.5,786.5" fill="#000"/>
<polygon points="1523.4,785.1 1512.4,785.6 1512.4,783.9 1506.9,786.6 1512.6,788.7 1512.5,787.1 1523.5,786.5" fill="#000"/>
<polygon points="1555.4,785.1 1544.4,785.6 1544.3,783.9 1538.8,786.6 1544.6,788.7 1544.5,787.1 1555.4,786.5" fill="#000"/>
<polygon points="1587.3,785.1 1576.3,785.6 1576.3,783.9 1570.8,786.6 1576.5,788.7 1576.4,787.1 1587.4,786.5" fill="#000"/>
<polygon points="1619.3,785.1 1608.3,785.6 1608.2,783.9 1602.7,786.6 1608.5,788.7 1608.4,787.1 1619.3,786.5" fill="#000"/>
<polygon points="1651.2,785.1 1640.2,785.6 1640.2,783.9 1634.7,786.6 1640.4,788.7 1640.3,787.1 1651.3,786.5" fill="#000"/>
<polygon points="1683.2,785.1 1672.2,785.6 1672.1,783.9 1666.6,786.6 1672.4,788.7 1672.3,787.1 1683.2,786.5" fill="#000"/>
<polygon points="1108.1,830.2 1108.1,830.2 1108.2,829.2 1104.8,830.4 1108.0,832.0 1108.1,831.0 1108.1,831.0" fill="#000"/>
<polygon points="1140.1,830.2 1140.1,830.2 1140.1,829.2 1136.8,830.4 1140.0,832.0 1140.0,831.0 1140.0,831.0" fill="#000"/>
<polygon points="1172.0,830.2 1172.0,830.2 1172.1,829.2 1168.7,830.4 1171.9,832.0 1172.0,831.0 1172.0,831.0" fill="#000"/>
<polygon points="1204.0,830.2 1204.0,830.2 1204.0,829.2 1200.6,830.4 1203.9,832.0 1203.9,831.0 1203.9,831.0" fill="#000"/>
<polygon points="1235.9,830.2 1235.9,830.2 1236.0,829.2 1232.6,830.4 1235.8,832.0 1235.9,831.0 1235.9,831.0" fill="#000"/>
<polygon points="1267.9,830.2 1267.9,830.2 1267.9,829.2 1264.5,830.4 1267.8,832.0 1267.8,831.0 1267.8,831.0" fill="#000"/>
<polygon points="1299.8,830.2 1299.8,830.2 1299.9,829.2 1296.5,830.4 1299.7,832.0 1299.8,831.0 1299.8,831.0" fill="#000"/>
<polygon points="1331.8,830.2 1331.8,830.2 1331.8,829.2 1328.5,830.4 1331.7,832.0 1331.7,831.0 1331.7,831.0" fill="#000"/>
<polygon points="1363.8,830.2 1363.8,830.2 1364.0,829.2 1360.4,829.9 1363.4,832.0 1363.6,831.0 1363.6,831.0" fill="#000"/>
<polygon points="1395.7,830.2 1395.7,830.2 1395.9,829.2 1392.3,829.9 1395.3,832.0 1395.6,831.0 1395.6,831.0" fill="#000"/>
<polygon points="1427.6,829.9 1414.8,830.5 1414.7,828.8 1409.2,831.5 1414.9,833.6 1414.8,832.0 1427.6,831.3" fill="#000"/>
<polygon points="1459.5,829.9 1446.7,830.5 1446.6,828.8 1441.1,831.5 1446.9,833.6 1446.8,832.0 1459.6,831.3" fill="#000"/>
<polygon points="1491.5,829.9 1478.7,830.5 1478.6,828.8 1473.1,831.5 1478.8,833.6 1478.7,832.0 1491.5,831.3" fill="#000"/>
<polygon points="1523.4,829.9 1510.6,830.5 1510.5,828.8 1505.0,831.5 1510.8,833.6 1510.7,832.0 1523.5,831.3" fill="#000"/>
<polygon points="1555.4,829.9 1542.6,830.5 1542.5,828.8 1537.0,831.5 1542.7,833.6 1542.6,832.0 1555.4,831.3" fill="#000"/>
<polygon points="1587.3,829.9 1574.5,830.5 1574.4,828.8 1568.9,831.5 1574.7,833.6 1574.6,832.0 1587.4,831.3" fill="#000"/>
<polygon points="1619.3,829.9 1606.5,830.5 1606.4,828.8 1600.9,831.5 1606.6,833.6 1606.5,832.0 1619.3,831.3" fill="#000"/>
<polygon points="1651.2,829.9 1638.4,830.5 1638.3,828.8 1632.8,831.5 1638.6,833.6 1638.5,832.0 1651.3,831.3" fill="#000"/>
<polygon points="1683.2,829.9 1670.4,830.5 1670.3,828.8 1664.8,831.5 1670.5,833.6 1670.4,832.0 1683.2,831.3" fill="#000"/>
<polygon points="1108.1,875.0 1108.1,875.0 1108.2,874.0 1104.8,875.2 1108.0,876.8 1108.1,875.8 1108.1,875.8" fill="#000"/>
<polygon points="1140.1,875.0 1140.1,875.0 1140.1,874.0 1136.8,875.2 1140.0,876.8 1140.0,875.8 1140.0,875.8" fill="#000"/>
<polygon points="1172.0,875.0 1172.0,875.0 1172.1,874.0 1168.7,875.2 1171.9,876.8 1172.0,875.8 1172.0,875.8" fill="#000"/>
<polygon points="1204.0,875.0 1204.0,875.0 1204.0,874.0 1200.6,875.2 1203.9,876.8 1203.9,875.8 1203.9,875.8" fill="#000"/>
<polygon points="1235.9,875.0 1235.9,875.0 1236.0,874.0 1232.6,875.2 1235.8,876.8 1235.9,875.8 1235.9,875.8" fill="#000"/>
<polygon points="1267.9,875.0 1267.9,875.0 1267.9,874.0 1264.5,875.2 1267.8,876.8 1267.8,875.8 1267.8,875.8" fill="#000"/>
<polygon points="1299.8,875.0 1299.8,875.0 1299.9,874.0 1296.5,875.2 1299.7,876.8 1299.8,875.8 1299.8,875.8" fill="#000"/>
<polygon points="1331.8,875.0 1331.8,875.0 1331.8,874.0 1328.5,875.2 1331.7,876.8 1331.7,875.8 1331.7,875.8" fill="#000"/>
<polygon points="1363.8,875.0 1363.8,875.0 1364.0,874.0 1360.4,874.7 1363.4,876.8 1363.6,875.8 1363.6,875.8" fill="#000"/>
<polygon points="1395.7,875.0 1395.7,875.0 1395.9,874.0 1392.3,874.7 1395.3,876.8 1395.6,875.8 1395.6,875.8" fill="#000"/>
<polygon points="1427.6,874.7 1414.8,875.3 1414.7,873.6 1409.2,876.3 1414.9,878.4 1414.8,876.8 1427.6,876.1" fill="#000"/>
<polygon points="1459.5,874.7 1446.7,875.3 1446.6,873.6 1441.1,876.3 1446.9,878.4 1446.8,876.8 1459.6,876.1" fill="#000"/>
<polygon points="1491.5,874.7 1478.7,875.3 1478.6,873.6 1473.1,876.3 1478.8,878.4 1478.7,876.8 1491.5,876.1" fill="#000"/>
<polygon points="1523.4,874.7 1510.6,875.3 1510.5,873.6 1505.0,876.3 1510.8,878.4 1510.7,876.8 1523.5,876.1" fill="#000"/>
<polygon points="1555.4,874.7 1542.6,875.3 1542.5,873.6 1537.0,876.3 1542.7,878.4 1542.6,876.8 1555.4,876.1" fill="#000"/>
<polygon points="1587.3,874.7 1574.5,875.3 1574.4,873.6 1568.9,876.3 1574.7,878.4 1574.6,876.8 1587.4,876.1" fill="#000"/>
<polygon points="1619.3,874.7 1606.5,875.3 1606.4,873.6 1600.9,876.3 1606.6,878.4 1606.5,876.8 1619.3,876.1" fill="#000"/>
<polygon points="1651.2,874.7 1638.4,875.3 1638.3,873.6 1632.8,876.3 1638.6,878.4 1638.5,876.8 1651.3,876.1" fill="#000"/>
<polygon points="1683.2,874.7 1670.4,875.3 1670.3,873.6 1664.8,876.3 1670.5,878.4 1670.4,876.8 1683.2,876.1" fill="#000"/>
<polygon points="1108.1,919.8 1108.1,919.8 1108.2,918.8 1104.8,920.0 1108.0,921.6 1108.1,920.6 1108.1,920.6" fill="#000"/>
<polygon points="1140.1,919.8 1140.1,919.8 1140.1,918.8 1136.8,920.0 1140.0,921.6 1140.0,920.6 1140.0,920.6" fill="#000"/>
<polygon points="1172.0,919.8 1172.0,919.8 1172.1,918.8 1168.7,920.0 1171.9,921.6 1172.0,920.6 1172.0,920.6" fill="#000"/>
<polygon points="1204.0,919.8 1204.0,919.8 1204.0,918.8 1200.6,920.0 1203.9,921.6 1203.9,920.6 1203.9,920.6" fill="#000"/>
<polygon points="1235.9,919.8 1235.9,919.8 1236.0,918.8 1232.6,920.0 1235.8,921.6 1235.9,920.6 1235.9,920.6" fill="#000"/>
<polygon points="1267.9,919.8 1267.9,919.8 1267.9,918.8 1264.5,920.0 1267.8,921.6 1267.8,920.6 1267.8,920.6" fill="#000"/>
<polygon points="1299.8,919.8 1299.8,919.8 1299.9,918.8 1296.5,920.0 1299.7,921.6 1299.8,920.6 1299.8,920.6" fill="#000"/>
<polygon points="1331.8,919.8 1331.8,919.8 1332.0,918.8 1328.5,919.5 1331.5,921.6 1331.7,920.6 1331.7,920.6" fill="#000"/>
<polygon points="1363.8,919.8 1363.8,919.8 1364.0,918.8 1360.4,919.5 1363.4,921.6 1363.6,920.6 1363.6,920.6" fill="#000"/>
<polygon points="1395.6,919.5 1382.8,920.1 1382.7,918.4 1377.2,921.1 1383.0,923.2 1382.9,921.6 1395.7,920.9" fill="#000"/>
<polygon points="1427.6,919.5 1414.8,920.1 1414.7,918.4 1409.2,921.1 1414.9,923.2 1414.8,921.6 1427.6,920.9" fill="#000"/>
<polygon points="1459.5,919.5 1446.7,920.1 1446.6,918.4 1441.1,921.1 1446.9,923.2 1446.8,921.6 1459.6,920.9" fill="#000"/>
<polygon points="1491.5,919.5 1478.7,920.1 1478.6,918.4 1473.1,921.1 1478.8,923.2 1478.7,921.6 1491.5,920.9" fill="#000"/>
<polygon points="1523.4,919.5 1510.6,920.1 1510.5,918.4 1505.0,921.1 1510.8,923.2 1510.7,921.6 1523.5,920.9" fill="#000"/>
<polygon points="1555.4,919.5 1542.6,920.1 1542.5,918.4 1537.0,921.1 1542.7,923.2 1542.6,921.6 1555.4,920.9" fill="#000"/>
<polygon points="1587.3,919.5 1574.5,920.1 1574.4,918.4 1568.9,921.1 1574.7,923.2 1574.6,921.6 1587.4,920.9" fill="#000"/>
<polygon points="1619.3,919.5 1606.5,920.1 1606.4,918.4 1600.9,921.1 1606.6,923.2 1606.5,921.6 1619.3,920.9" fill="#000"/>
<polygon points="1651.2,919.5 1638.4,920.1 1638.3,918.4 1632.8,921.1 1638.6,923.2 1638.5,921.6 1651.3,920.9" fill="#000"/>
<polygon points="1683.2,919.5 1670.4,920.1 1670.3,918.4 1664.8,921.1 1670.5,923.2 1670.4,921.6 1683.2,920.9" fill="#000"/>
<polygon points="1108.1,964.6 1108.1,964.6 1108.2,963.6 1104.8,964.8 1108.0,966.4 1108.1,965.4 1108.1,965.4" fill="#000"/>
<polygon points="1140.1,964.6 1140.1,964.6 1140.1,963.6 1136.8,964.8 1140.0,966.4 1140.0,965.4 1140.0,965.4" fill="#000"/>
<polygon points="1172.0,964.6 1172.0,964.6 1172.1,963.6 1168.7,964.8 1171.9,966.4 1172.0,965.4 1172.0,965.4" fill="#000"/>
<polygon points="1204.0,964.6 1204.0,964.6 1204.0,963.6 1200.6,964.8 1203.9,966.4 1203.9,965.4 1203.9,965.4" fill="#000"/>
<polygon points="1235.9,964.6 1235.9,964.6 1236.0,963.6 1232.6,964.8 1235.8,966.4 1235.9,965.4 1235.9,965.4" fill="#000"/>
<polygon points="1267.9,964.6 1267.9,964.6 1267.9,963.6 1264.5,964.8 1267.8,966.4 1267.8,965.4 1267.8,965.4" fill="#000"/>
<polygon points="1299.8,964.6 1299.8,964.6 1299.9,963.6 1296.5,964.8 1299.7,966.4 1299.8,965.4 1299.8,965.4" fill="#000"/>
<polygon points="1331.8,964.6 1331.8,964.6 1332.0,963.6 1328.5,964.3 1331.5,966.4 1331.7,965.4 1331.7,965.4" fill="#000"/>
<polygon points="1363.8,964.6 1363.8,964.6 1364.0,963.6 1360.4,964.3 1363.4,966.4 1363.6,965.4 1363.6,965.4" fill="#000"/>
<polygon points="1395.6,964.3 1382.8,964.9 1382.7,963.2 1377.2,965.9 1383.0,968.0 1382.9,966.4 1395.7,965.7" fill="#000"/>
<polygon points="1427.6,964.3 1414.8,964.9 1414.7,963.2 1409.2,965.9 1414.9,968.0 1414.8,966.4 1427.6,965.7" fill="#000"/>
<polygon points="1459.5,964.3 1446.7,964.9 1446.6,963.2 1441.1,965.9 1446.9,968.0 1446.8,966.4 1459.6,965.7" fill="#000"/>
<polygon points="1491.5,964.3 1478.7,964.9 1478.6,963.2 1473.1,965.9 1478.8,968.0 1478.7,966.4 1491.5,965.7" fill="#000"/>
<polygon points="1523.4,964.3 1510.6,964.9 1510.5,963.2 1505.0,965.9 1510.8,968.0 1510.7,966.4 1523.5,965.7" fill="#000"/>
<polygon points="1555.4,964.3 1542.6,964.9 1542.5,963.2 1537.0,965.9 1542.7,968.0 1542.6,966.4 1555.4,965.7" fill="#000"/>
<polygon points="1587.3,964.3 1574.5,964.9 1574.4,963.2 1568.9,965.9 1574.7,968.0 1574.6,966.4 1587.4,965.7" fill="#000"/>
<polygon points="1619.3,964.3 1606.5,964.9 1606.4,963.2 1600.9,965.9 1606.6,968.0 1606.5,966.4 1619.3,965.7" fill="#000"/>
<polygon points="1651.2,964.3 1638.4,964.9 1638.3,963.2 1632.8,965.9 1638.6,968.0 1638.5,966.4 1651.3,965.7" fill="#000"/>
<polygon points="1683.2,964.3 1670.4,964.9 1670.3,963.2 1664.8,965.9 1670.5,968.0 1670.4,966.4 1683.2,965.7" fill="#000"/>
<polygon points="1108.1,1009.4 1108.1,1009.4 1108.2,1008.4 1104.8,1009.6 1108.0,1011.2 1108.1,1010.2 1108.1,1010.2" fill="#000"/>
<polygon points="1140.1,1009.4 1140.1,1009.4 1140.1,1008.4 1136.8,1009.6 1140.0,1011.2 1140.0,1010.2 1140.0,1010.2" fill="#000"/>
<polygon points="1172.0,1009.4 1172.0,1009.4 1172.1,1008.4 1168.7,1009.6 1171.9,1011.2 1172.0,1010.2 1172.0,1010.2" fill="#000"/>
<polygon points="1204.0,1009.4 1204.0,1009.4 1204.0,1008.4 1200.6,1009.6 1203.9,1011.2 1203.9,1010.2 1203.9,1010.2" fill="#000"/>
<polygon points="1235.9,1009.4 1235.9,1009.4 1236.0,1008.4 1232.6,1009.6 1235.8,1011.2 1235.9,1010.2 1235.9,1010.2" fill="#000"/>
<polygon points="1267.9,1009.4 1267.9,1009.4 1267.9,1008.4 1264.5,1009.6 1267.8,1011.2 1267.8,1010.2 1267.8,1010.2" fill="#000"/>
<polygon points="1299.8,1009.4 1299.8,1009.4 1299.9,1008.4 1296.5,1009.6 1299.7,1011.2 1299.8,1010.2 1299.8,1010.2" fill="#000"/>
<polygon points="1331.8,1009.4 1331.8,1009.4 1332.0,1008.4 1328.5,1009.1 1331.5,1011.2 1331.7,1010.2 1331.7,1010.2" fill="#000"/>
<polygon points="1363.8,1009.4 1363.8,1009.4 1364.0,1008.4 1360.4,1009.1 1363.4,1011.2 1363.6,1010.2 1363.6,1010.2" fill="#000"/>
<polygon points="1395.6,1009.1 1382.8,1009.7 1382.7,1008.0 1377.2,1010.7 1383.0,1012.8 1382.9,1011.2 1395.7,1010.5" fill="#000"/>
<polygon points="1427.6,1009.1 1414.8,1009.7 1414.7,1008.0 1409.2,1010.7 1414.9,1012.8 1414.8,1011.2 1427.6,1010.5" fill="#000"/>
<polygon points="1459.5,1009.1 1446.7,1009.7 1446.6,1008.0 1441.1,1010.7 1446.9,1012.8 1446.8,1011.2 1459.6,1010.5" fill="#000"/>
<polygon points="1491.5,1009.1 1478.7,1009.7 1478.6,1008.0 1473.1,1010.7 1478.8,1012.8 1478.7,1011.2 1491.5,1010.5" fill="#000"/>
<polygon points="1523.4,1009.1 1510.6,1009.7 1510.5,1008.0 1505.0,1010.7 1510.8,1012.8 1510.7,1011.2 1523.5,1010.5" fill="#000"/>
<polygon points="1555.4,1009.1 1542.6,1009.7 1542.5,1008.0 1537.0,1010.7 1542.7,1012.8 1542.6,1011.2 1555.4,1010.5" fill="#000"/>
<polygon points="1587.3,1009.1 1574.5,1009.7 1574.4,1008.0 1568.9,1010.7 1574.7,1012.8 1574.6,1011.2 1587.4,1010.5" fill="#000"/>
<polygon points="1619.3,1009.1 1606.5,1009.7 1606.4,1008.0 1600.9,1010.7 1606.6,1012.8 1606.5,1011.2 1619.3,1010.5" fill="#000"/>
<polygon points="1651.2,1009.1 1638.4,1009.7 1638.3,1008.0 1632.8,1010.7 1638.6,1012.8 1638.5,1011.2 1651.3,1010.5" fill="#000"/>
<polygon points="1683.2,1009.1 1670.4,1009.7 1670.3,1008.0 1664.8,1010.7 1670.5,1012.8 1670.4,1011.2 1683.2,1010.5" fill="#000"/>
<polygon points="1108.1,1054.2 1108.1,1054.2 1108.2,1053.2 1104.8,1054.4 1108.0,1056.0 1108.1,1055.0 1108.1,1055.0" fill="#000"/>
<polygon points="1140.1,1054.2 1140.1,1054.2 1140.1,1053.2 1136.8,1054.4 1140.0,1056.0 1140.0,1055.0 1140.0,1055.0" fill="#000"/>
<polygon points="1172.0,1054.2 1172.0,1054.2 1172.1,1053.2 1168.7,1054.4 1171.9,1056.0 1172.0,1055.0 1172.0,1055.0" fill="#000"/>
<polygon points="1204.0,1054.2 1204.0,1054.2 1204.0,1053.2 1200.6,1054.4 1203.9,1056.0 1203.9,1055.0 1203.9,1055.0" fill="#000"/>
<polygon points="1235.9,1054.2 1235.9,1054.2 1236.0,1053.2 1232.6,1054.4 1235.8,1056.0 1235.9,1055.0 1235.9,1055.0" fill="#000"/>
<polygon points="1267.9,1054.2 1267.9,1054.2 1267.9,1053.2 1264.5,1054.4 1267.8,1056.0 1267.8,1055.0 1267.8,1055.0" fill="#000"/>
<polygon points="1299.8,1054.2 1299.8,1054.2 1299.9,1053.2 1296.5,1054.4 1299.7,1056.0 1299.8,1055.0 1299.8,1055.0" fill="#000"/>
<polygon points="1331.8,1054.2 1331.8,1054.2 1332.0,1053.2 1328.5,1053.9 1331.5,1056.0 1331.7,1055.0 1331.7,1055.0" fill="#000"/>
<polygon points="1363.7,1053.9 1361.3,1054.0 1361.2,1052.3 1355.7,1055.0 1361.4,1057.1 1361.3,1055.5 1363.7,1055.3" fill="#000"/>
<polygon points="1395.6,1053.9 1382.8,1054.5 1382.7,1052.8 1377.2,1055.5 1383.0,1057.6 1382.9,1056.0 1395.7,1055.3" fill="#000"/>
<polygon points="1427.6,1053.9 1414.8,1054.5 1414.7,1052.8 1409.2,1055.5 1414.9,1057.6 1414.8,1056.0 1427.6,1055.3" fill="#000"/>
<polygon points="1459.5,1053.9 1446.7,1054.5 1446.6,1052.8 1441.1,1055.5 1446.9,1057.6 1446.8,1056.0 1459.6,1055.3" fill="#000"/>
<polygon points="1491.5,1053.9 1478.7,1054.5 1478.6,1052.8 1473.1,1055.5 1478.8,1057.6 1478.7,1056.0 1491.5,1055.3" fill="#000"/>
<polygon points="1523.4,1053.9 1510.6,1054.5 1510.5,1052.8 1505.0,1055.5 1510.8,1057.6 1510.7,1056.0 1523.5,1055.3" fill="#000"/>
<polygon points="1555.4,1053.9 1542.6,1054.5 1542.5,1052.8 1537.0,1055.5 1542.7,1057.6 1542.6,1056.0 1555.4,1055.3" fill="#000"/>
<polygon points="1587.3,1053.9 1574.5,1054.5 1574.4,1052.8 1568.9,1055.5 1574.7,1057.6 1574.6,1056.0 1587.4,1055.3" fill="#000"/>
<polygon points="1619.3,1053.9 1606.5,1054.5 1606.4,1052.8 1600.9,1055.5 1606.6,1057.6 1606.5,1056.0 1619.3,1055.3" fill="#000"/>
<polygon points="1651.2,1053.9 1638.4,1054.5 1638.3,1052.8 1632.8,1055.5 1638.6,1057.6 1638.5,1056.0 1651.3,1055.3" fill="#000"/>
<polygon points="1683.2,1053.9 1670.4,1054.5 1670.3,1052.8 1664.8,1055.5 1670.5,1057.6 1670.4,1056.0 1683.2,1055.3" fill="#000"/>
<polygon points="1108.1,1099.0 1108.1,1099.0 1108.2,1098.0 1104.8,1099.2 1108.0,1100.8 1108.1,1099.8 1108.1,1099.8" fill="#000"/>
<polygon points="1140.1,1099.0 1140.1,1099.0 1140.1,1098.0 1136.8,1099.2 1140.0,1100.8 1140.0,1099.8 1140.0,1099.8" fill="#000"/>
<polygon points="1172.0,1099.0 1172.0,1099.0 1172.1,1098.0 1168.7,1099.2 1171.9,1100.8 1172.0,1099.8 1172.0,1099.8" fill="#000"/>
<polygon points="1204.0,1099.0 1204.0,1099.0 1204.0,1098.0 1200.6,1099.2 1203.9,1100.8 1203.9,1099.8 1203.9,1099.8" fill="#000"/>
<polygon points="1235.9,1099.0 1235.9,1099.0 1236.0,1098.0 1232.6,1099.2 1235.8,1100.8 1235.9,1099.8 1235.9,1099.8" fill="#000"/>
<polygon points="1267.9,1099.0 1267.9,1099.0 1267.9,1098.0 1264.5,1099.2 1267.8,1100.8 1267.8,1099.8 1267.8,1099.8" fill="#000"/>
<polygon points="1299.8,1099.0 1299.8,1099.0 1299.9,1098.0 1296.5,1099.2 1299.7,1100.8 1299.8,1099.8 1299.8,1099.8" fill="#000"/>
<polygon points="1331.7,1098.7 1329.3,1098.8 1329.2,1097.1 1323.8,1099.8 1329.5,1101.9 1329.4,1100.3 1331.8,1100.1" fill="#000"/>
<polygon points="1363.7,1098.7 1361.3,1098.8 1361.2,1097.1 1355.7,1099.8 1361.4,1101.9 1361.3,1100.3 1363.7,1100.1" fill="#000"/>
<polygon points="1395.6,1098.7 1393.2,1098.8 1393.1,1097.1 1387.6,1099.8 1393.4,1101.9 1393.3,1100.3 1395.7,1100.1" fill="#000"/>
<polygon points="1427.6,1098.7 1414.8,1099.3 1414.7,1097.6 1409.2,1100.3 1414.9,1102.4 1414.8,1100.8 1427.6,1100.1" fill="#000"/>
<polygon points="1459.5,1098.7 1446.7,1099.3 1446.6,1097.6 1441.1,1100.3 1446.9,1102.4 1446.8,1100.8 1459.6,1100.1" fill="#000"/>
<polygon points="1491.5,1098.7 1478.7,1099.3 1478.6,1097.6 1473.1,1100.3 1478.8,1102.4 1478.7,1100.8 1491.5,1100.1" fill="#000"/>
<polygon points="1523.4,1098.7 1510.6,1099.3 1510.5,1097.6 1505.0,1100.3 1510.8,1102.4 1510.7,1100.8 1523.5,1100.1" fill="#000"/>
<polygon points="1555.4,1098.7 1542.6,1099.3 1542.5,1097.6 1537.0,1100.3 1542.7,1102.4 1542.6,1100.8 1555.4,1100.1" fill="#000"/>
<polygon points="1587.3,1098.7 1574.5,1099.3 1574.4,1097.6 1568.9,1100.3 1574.7,1102.4 1574.6,1100.8 1587.4,1100.1" fill="#000"/>
<polygon points="1619.3,1098.7 1606.5,1099.3 1606.4,1097.6 1600.9,1100.3 1606.6,1102.4 1606.5,1100.8 1619.3,1100.1" fill="#000"/>
<polygon points="1651.2,1098.7 1638.4,1099.3 1638.3,1097.6 1632.8,1100.3 1638.6,1102.4 1638.5,1100.8 1651.3,1100.1" fill="#000"/>
<polygon points="1683.2,1098.7 1670.4,1099.3 1670.3,1097.6 1664.8,1100.3 1670.5,1102.4 1670.4,1100.8 1683.2,1100.1" fill="#000"/>
<polygon points="1108.1,1143.8 1108.1,1143.8 1108.2,1142.8 1104.8,1144.0 1108.0,1145.6 1108.1,1144.6 1108.1,1144.6" fill="#000"/>
<polygon points="1140.1,1143.8 1140.1,1143.8 1140.1,1142.8 1136.8,1144.0 1140.0,1145.6 1140.0,1144.6 1140.0,1144.6" fill="#000"/>
<polygon points="1172.0,1143.8 1172.0,1143.8 1172.1,1142.8 1168.7,1144.0 1171.9,1145.6 1172.0,1144.6 1172.0,1144.6" fill="#000"/>
<polygon points="1204.0,1143.8 1204.0,1143.8 1204.0,1142.8 1200.6,1144.0 1203.9,1145.6 1203.9,1144.6 1203.9,1144.6" fill="#000"/>
<polygon points="1235.9,1143.8 1235.9,1143.8 1236.0,1142.8 1232.6,1144.0 1235.8,1145.6 1235.9,1144.6 1235.9,1144.6" fill="#000"/>
<polygon points="1267.9,1143.8 1267.9,1143.8 1267.9,1142.8 1264.5,1144.0 1267.8,1145.6 1267.8,1144.6 1267.8,1144.6" fill="#000"/>
<polygon points="1299.8,1143.5 1297.4,1143.6 1297.3,1141.9 1291.8,1144.6 1297.5,1146.7 1297.4,1145.1 1299.8,1144.9" fill="#000"/>
<polygon points="1331.7,1143.5 1329.3,1143.6 1329.2,1141.9 1323.8,1144.6 1329.5,1146.7 1329.4,1145.1 1331.8,1144.9" fill="#000"/>
<polygon points="1363.7,1143.5 1361.3,1143.6 1361.2,1141.9 1355.7,1144.6 1361.4,1146.7 1361.3,1145.1 1363.7,1144.9" fill="#000"/>
<polygon points="1395.6,1143.5 1393.2,1143.6 1393.1,1141.9 1387.6,1144.6 1393.4,1146.7 1393.3,1145.1 1395.7,1144.9" fill="#000"/>
<polygon points="1427.6,1143.5 1414.8,1144.1 1414.7,1142.4 1409.2,1145.1 1414.9,1147.2 1414.8,1145.6 1427.6,1144.9" fill="#000"/>
<polygon points="1459.5,1143.5 1446.7,1144.1 1446.6,1142.4 1441.1,1145.1 1446.9,1147.2 1446.8,1145.6 1459.6,1144.9" fill="#000"/>
<polygon points="1491.5,1143.5 1478.7,1144.1 1478.6,1142.4 1473.1,1145.1 1478.8,1147.2 1478.7,1145.6 1491.5,1144.9" fill="#000"/>
<polygon points="1523.4,1143.5 1510.6,1144.1 1510.5,1142.4 1505.0,1145.1 1510.8,1147.2 1510.7,1145.6 1523.5,1144.9" fill="#000"/>
<polygon points="1555.4,1143.5 1542.6,1144.1 1542.5,1142.4 1537.0,1145.1 1542.7,1147.2 1542.6,1145.6 1555.4,1144.9" fill="#000"/>
<polygon points="1587.3,1143.5 1574.5,1144.1 1574.4,1142.4 1568.9,1145.1 1574.7,1147.2 1574.6,1145.6 1587.4,1144.9" fill="#000"/>
<polygon points="1619.3,1143.5 1606.5,1144.1 1606.4,1142.4 1600.9,1145.1 1606.6,1147.2 1606.5,1145.6 1619.3,1144.9" fill="#000"/>
<polygon points="1651.2,1143.5 1638.4,1144.1 1638.3,1142.4 1632.8,1145.1 1638.6,1147.2 1638.5,1145.6 1651.3,1144.9" fill="#000"/>
<polygon points="1683.2,1143.5 1670.4,1144.1 1670.3,1142.4 1664.8,1145.1 1670.5,1147.2 1670.4,1145.6 1683.2,1144.9" fill="#000"/>
<polygon points="1108.1,1188.6 1108.1,1188.6 1108.2,1187.6 1104.8,1188.8 1108.0,1190.4 1108.1,1189.4 1108.1,1189.4" fill="#000"/>
<polygon points="1140.1,1188.6 1140.1,1188.6 1140.1,1187.6 1136.8,1188.8 1140.0,1190.4 1140.0,1189.4 1140.0,1189.4" fill="#000"/>
<polygon points="1172.0,1188.6 1172.0,1188.6 1172.1,1187.6 1168.7,1188.8 1171.9,1190.4 1172.0,1189.4 1172.0,1189.4" fill="#000"/>
<polygon points="1204.0,1188.6 1204.0,1188.6 1204.0,1187.6 1200.6,1188.8 1203.9,1190.4 1203.9,1189.4 1203.9,1189.4" fill="#000"/>
<polygon points="1235.9,1188.6 1235.9,1188.6 1236.0,1187.6 1232.6,1188.8 1235.8,1190.4 1235.9,1189.4 1235.9,1189.4" fill="#000"/>
<polygon points="1267.9,1188.6 1267.9,1188.6 1267.9,1187.6 1264.5,1188.8 1267.8,1190.4 1267.8,1189.4 1267.8,1189.4" fill="#000"/>
<polygon points="1299.8,1188.3 1297.4,1188.4 1297.3,1186.7 1291.8,1189.4 1297.5,1191.5 1297.4,1189.9 1299.8,1189.7" fill="#000"/>
<polygon points="1331.7,1188.3 1329.3,1188.4 1329.2,1186.7 1323.8,1189.4 1329.5,1191.5 1329.4,1189.9 1331.8,1189.7" fill="#000"/>
<polygon points="1363.7,1188.3 1361.3,1188.4 1361.2,1186.7 1355.7,1189.4 1361.4,1191.5 1361.3,1189.9 1363.7,1189.7" fill="#000"/>
<polygon points="1395.6,1188.3 1393.2,1188.4 1393.1,1186.7 1387.6,1189.4 1393.4,1191.5 1393.3,1189.9 1395.7,1189.7" fill="#000"/>
<polygon points="1427.6,1188.3 1425.2,1188.4 1425.1,1186.7 1419.6,1189.4 1425.3,1191.5 1425.2,1189.9 1427.6,1189.7" fill="#000"/>
<polygon points="1459.5,1188.3 1448.5,1188.8 1448.5,1187.1 1443.0,1189.8 1448.7,1191.9 1448.6,1190.3 1459.6,1189.7" fill="#000"/>
<polygon points="1491.5,1188.3 1480.5,1188.8 1480.4,1187.1 1474.9,1189.8 1480.7,1191.9 1480.6,1190.3 1491.5,1189.7" fill="#000"/>
<polygon points="1523.4,1188.3 1512.4,1188.8 1512.4,1187.1 1506.9,1189.8 1512.6,1191.9 1512.5,1190.3 1523.5,1189.7" fill="#000"/>
<polygon points="1555.4,1188.3 1544.4,1188.8 1544.3,1187.1 1538.8,1189.8 1544.6,1191.9 1544.5,1190.3 1555.4,1189.7" fill="#000"/>
<polygon points="1587.3,1188.3 1576.3,1188.8 1576.3,1187.1 1570.8,1189.8 1576.5,1191.9 1576.4,1190.3 1587.4,1189.7" fill="#000"/>
<polygon points="1619.3,1188.3 1608.3,1188.8 1608.2,1187.1 1602.7,1189.8 1608.5,1191.9 1608.4,1190.3 1619.3,1189.7" fill="#000"/>
<polygon points="1651.2,1188.3 1640.2,1188.8 1640.2,1187.1 1634.7,1189.8 1640.4,1191.9 1640.3,1190.3 1651.3,1189.7" fill="#000"/>
<polygon points="1683.2,1188.3 1672.2,1188.8 1672.1,1187.1 1666.6,1189.8 1672.4,1191.9 1672.3,1190.3 1683.2,1189.7" fill="#000"/>
</g>
<path d="M1445.5,785.5 C1442.0,792.1 1431.6,811.8 1424.6,825.0 C1417.6,838.2 1408.7,855.0 1403.4,865.0 C1398.1,875.0 1396.0,879.0 1392.8,885.0 C1389.6,891.0 1387.0,895.8 1384.3,901.0 C1381.5,906.2 1378.3,911.3 1376.3,916.0 C1374.3,920.7 1373.4,924.8 1372.3,929.0 C1371.2,933.2 1370.5,936.3 1369.8,941.0 C1369.1,945.7 1368.5,951.3 1368.1,957.0 C1367.7,962.7 1367.6,969.5 1367.5,975.0 C1367.4,980.5 1367.5,984.0 1367.6,990.0 C1367.7,996.0 1367.8,1004.2 1368.3,1011.0 C1368.8,1017.8 1369.7,1025.5 1370.8,1031.0 C1371.9,1036.5 1373.2,1039.8 1374.8,1044.0 C1376.4,1048.2 1377.1,1049.6 1380.2,1056.0 C1383.3,1062.4 1389.1,1073.8 1393.3,1082.6 C1397.5,1091.4 1401.5,1100.0 1405.6,1108.8 C1409.7,1117.5 1413.8,1126.3 1417.9,1135.1 C1422.0,1143.9 1425.7,1152.6 1430.1,1161.4 C1434.5,1170.2 1441.8,1183.3 1444.1,1187.7" fill="none" stroke="#000" stroke-width="5.2" stroke-linejoin="round" stroke-linecap="round"/>
<path d="M1356.4,1032.3 C1342.2,1058.3 1285.3,1162.2 1271.1,1188.2" fill="none" stroke="#000" stroke-width="5.2" stroke-linejoin="round" stroke-linecap="round"/>
<rect x="1077.8" y="785.5" width="605.1000000000001" height="403.5" fill="none" stroke="#000" stroke-width="1.6"/>
<line x1="1070.8" y1="785.5" x2="1077.8" y2="785.5" stroke="#000" stroke-width="1.4"/>
<text x="992.9" y="793.6" font-size="22.6" textLength="65.2" lengthAdjust="spacingAndGlyphs">4,000</text>
<line x1="1070.8" y1="886.4" x2="1077.8" y2="886.4" stroke="#000" stroke-width="1.4"/>
<text x="992.9" y="894.5" font-size="22.6" textLength="65.2" lengthAdjust="spacingAndGlyphs">3,000</text>
<line x1="1070.8" y1="987.2" x2="1077.8" y2="987.2" stroke="#000" stroke-width="1.4"/>
<text x="992.9" y="995.4" font-size="22.6" textLength="65.2" lengthAdjust="spacingAndGlyphs">2,000</text>
<line x1="1070.8" y1="1088.1" x2="1077.8" y2="1088.1" stroke="#000" stroke-width="1.4"/>
<text x="997.1" y="1096.2" font-size="22.6" textLength="61.0" lengthAdjust="spacingAndGlyphs">1,000</text>
<line x1="1070.8" y1="1189.0" x2="1077.8" y2="1189.0" stroke="#000" stroke-width="1.4"/>
<text x="1042.5" y="1197.1" font-size="22.6" textLength="15.6" lengthAdjust="spacingAndGlyphs">0</text>
<line x1="1077.8" y1="1189.0" x2="1077.8" y2="1196.0" stroke="#000" stroke-width="1.4"/>
<text x="1045.9" y="1226.4" font-size="22.6" textLength="61.0" lengthAdjust="spacingAndGlyphs">1,000</text>
<line x1="1178.7" y1="1189.0" x2="1178.7" y2="1196.0" stroke="#000" stroke-width="1.4"/>
<text x="1146.2" y="1226.4" font-size="22.6" textLength="65.2" lengthAdjust="spacingAndGlyphs">2,000</text>
<line x1="1279.5" y1="1189.0" x2="1279.5" y2="1196.0" stroke="#000" stroke-width="1.4"/>
<text x="1247.0" y="1226.4" font-size="22.6" textLength="65.2" lengthAdjust="spacingAndGlyphs">3,000</text>
<line x1="1380.3" y1="1189.0" x2="1380.3" y2="1196.0" stroke="#000" stroke-width="1.4"/>
<text x="1347.8" y="1226.4" font-size="22.6" textLength="65.2" lengthAdjust="spacingAndGlyphs">4,000</text>
<line x1="1481.2" y1="1189.0" x2="1481.2" y2="1196.0" stroke="#000" stroke-width="1.4"/>
<text x="1448.7" y="1226.4" font-size="22.6" textLength="65.2" lengthAdjust="spacingAndGlyphs">5,000</text>
<line x1="1582.1" y1="1189.0" x2="1582.1" y2="1196.0" stroke="#000" stroke-width="1.4"/>
<text x="1549.6" y="1226.4" font-size="22.6" textLength="65.2" lengthAdjust="spacingAndGlyphs">6,000</text>
<line x1="1682.9" y1="1189.0" x2="1682.9" y2="1196.0" stroke="#000" stroke-width="1.4"/>
<text x="1650.4" y="1226.4" font-size="22.6" textLength="65.2" lengthAdjust="spacingAndGlyphs">7,000</text>
<text x="1342.0" y="1263.5" font-size="27.5" textLength="74.0" lengthAdjust="spacingAndGlyphs"><tspan font-style="italic">x</tspan> (km)</text>
<text transform="translate(975.7,987.5) rotate(-90)" font-size="27.5" text-anchor="middle" textLength="74" lengthAdjust="spacingAndGlyphs"><tspan font-style="italic">y</tspan> (km)</text>
<text x="903.7" y="769.5" font-size="41" textLength="14.0" lengthAdjust="spacingAndGlyphs" font-weight="bold">f</text>
<rect x="1732" y="893.5" width="20.2" height="219.4" fill="url(#cw)" stroke="#000" stroke-width="1.3"/>
<line x1="1752.2" y1="893.5" x2="1758.5" y2="893.5" stroke="#000" stroke-width="1.3"/>
<text x="1768.2" y="901.6" font-size="22.6" textLength="29.4" lengthAdjust="spacingAndGlyphs">50</text>
<line x1="1752.2" y1="948.4" x2="1758.5" y2="948.4" stroke="#000" stroke-width="1.3"/>
<text x="1768.2" y="956.5" font-size="22.6" textLength="29.4" lengthAdjust="spacingAndGlyphs">25</text>
<line x1="1752.2" y1="1003.2" x2="1758.5" y2="1003.2" stroke="#000" stroke-width="1.3"/>
<text x="1768.2" y="1011.3" font-size="22.6" textLength="15.9" lengthAdjust="spacingAndGlyphs">0</text>
<line x1="1752.2" y1="1058.0" x2="1758.5" y2="1058.0" stroke="#000" stroke-width="1.3"/>
<text x="1768.2" y="1066.1" font-size="22.6" textLength="38.4" lengthAdjust="spacingAndGlyphs">−25</text>
<line x1="1752.2" y1="1112.9" x2="1758.5" y2="1112.9" stroke="#000" stroke-width="1.3"/>
<text x="1768.2" y="1121.0" font-size="22.6" textLength="40.4" lengthAdjust="spacingAndGlyphs">−50</text>
<text x="1717.4" y="863.5" font-size="27.5" textLength="16.0" lengthAdjust="spacingAndGlyphs"><tspan font-style="italic">σ</tspan></text>
<text x="1732.5" y="870.8" font-size="20" textLength="17.5" lengthAdjust="spacingAndGlyphs" font-style="italic">xx</text>
<text x="1758.5" y="863.5" font-size="27.5" textLength="69.0" lengthAdjust="spacingAndGlyphs">(MPa)</text>
<g clip-path="url(#clipg)">
<rect x="571.8" y="1343.8" width="605.2" height="403.10000000000014" fill="url(#gGv)"/>
<rect x="560" y="1330" width="120" height="150" fill="#dcdce2" filter="url(#bl14)" opacity="0.6"/>
<rect x="571.8" y="1440" width="240" height="320" fill="url(#gGbh)" mask="url(#mGb)"/>
<ellipse cx="746" cy="1736" rx="9" ry="12" fill="#3848c0" filter="url(#bl4)"/>
<ellipse cx="580" cy="1735" rx="20" ry="20" fill="#4460d0" filter="url(#bl8)" opacity="0.8"/>
<path d="M560,1500 L592,1520 L598,1760 L560,1760 Z" fill="#6a88e4" filter="url(#bl8)" opacity="0.7"/>
<rect x="671.6" y="1590" width="1.2" height="160" fill="#c8d4ec" opacity="0.7"/>
<path d="M800,1610 L845,1595 L770,1750 L740,1750 Z" fill="#b8cdf6" filter="url(#bl4)" opacity="0.8"/>
<ellipse cx="800" cy="1450" rx="150" ry="150" fill="#ecccbe" filter="url(#bl24)" opacity="0.9"/>
<ellipse cx="880" cy="1370" rx="70" ry="50" fill="#eed0c2" filter="url(#bl18)" opacity="0.8"/>
<path d="M770.0,1418.0 C773.3,1417.5 783.3,1415.3 790.0,1415.0 C796.7,1414.7 803.0,1414.2 810.2,1416.0 C817.4,1417.8 826.3,1421.8 833.2,1426.0 C840.1,1430.2 845.9,1437.0 851.5,1441.3 C857.1,1445.6 864.1,1447.9 866.9,1452.0 C869.7,1456.1 868.5,1461.1 868.4,1465.8 C868.2,1470.5 867.1,1471.0 866.0,1480.0 C864.9,1489.0 862.8,1503.3 862.0,1520.0 C861.2,1536.7 864.3,1567.1 861.0,1580.0 C857.7,1592.9 848.3,1595.6 842.4,1597.5 C836.5,1599.4 832.1,1592.9 825.5,1591.4 C818.9,1589.9 811.4,1591.6 802.5,1588.3 C793.6,1585.0 781.3,1579.4 771.9,1571.5 C762.5,1563.6 753.5,1551.0 745.9,1540.8 C738.2,1530.6 730.0,1520.4 726.0,1510.2 C722.0,1500.0 721.4,1490.6 722.1,1479.6 C722.9,1468.6 726.0,1453.2 730.5,1444.3 C735.0,1435.4 745.8,1429.0 748.9,1426.0 Z" fill="#f3b8a0" filter="url(#bl8)"/>
<ellipse cx="815" cy="1520" rx="45" ry="55" fill="#f2a486" filter="url(#bl14)" opacity="0.9"/>
<path d="M811.0,1512.0 C815.0,1510.3 828.8,1504.1 835.0,1502.0 C841.2,1499.9 845.0,1497.4 848.5,1499.5 C852.0,1501.6 854.6,1509.2 856.1,1514.8 C857.6,1520.4 857.1,1525.7 857.7,1533.2 C858.4,1540.7 860.0,1550.5 860.0,1560.0 C860.0,1569.5 861.5,1584.8 858.0,1590.0 C854.5,1595.2 845.5,1592.2 839.3,1591.4 C833.1,1590.6 827.3,1588.5 820.9,1585.2 C814.5,1581.9 805.9,1577.6 801.0,1571.5 C796.1,1565.4 792.6,1556.2 791.8,1548.5 C791.0,1540.8 795.6,1529.3 796.4,1525.5 Z" fill="#ec8e70" filter="url(#bl4)"/>
<path d="M817.8,1560.0 C820.4,1557.6 828.3,1549.9 833.2,1545.4 C838.1,1540.9 843.7,1534.5 847.0,1533.2 C850.3,1531.9 851.6,1535.2 853.1,1537.8 C854.6,1540.3 855.0,1543.1 856.1,1548.5 C857.2,1553.9 859.7,1562.8 860.0,1570.0 C860.3,1577.2 861.0,1587.8 858.0,1592.0 C855.0,1596.2 846.7,1595.3 842.0,1595.0 C837.3,1594.7 833.7,1593.3 830.0,1590.0 C826.3,1586.7 821.7,1577.5 820.0,1575.0 Z" fill="#d23a3c" filter="url(#bl3)"/>
<path d="M835,1580 C838,1565 848,1556 858,1552 L862,1590 L843,1594 Z" fill="#c0102a" filter="url(#bl0)"/>
</g>
<g clip-path="url(#clipg)"><g clip-path="url(#gR)">
<rect x="571.8" y="1343.8" width="605.2" height="403.10000000000014" fill="url(#gPAC)"/>
<ellipse cx="915" cy="1540" rx="30" ry="45" fill="#c8aaa0" filter="url(#bl14)" opacity="0.6"/>
<path d="M878.8,1589.3 C879.5,1591.5 881.2,1598.1 882.8,1602.3 C884.4,1606.5 885.1,1607.9 888.2,1614.3 C891.3,1620.7 897.1,1632.1 901.3,1640.9 C905.5,1649.7 909.5,1658.3 913.6,1667.1 C917.7,1675.8 921.8,1684.6 925.9,1693.4 C930.0,1702.2 933.7,1710.9 938.1,1719.7 C942.5,1728.5 949.5,1740.4 952.1,1746.0 C954.7,1751.6 953.5,1752.1 953.8,1753.3" fill="none" stroke="#9298c8" stroke-width="30" stroke-linejoin="round" stroke-linecap="round" filter="url(#bl8)" opacity="0.75"/>
<rect x="1150" y="1600" width="40" height="160" fill="#a4aad0" filter="url(#bl14)" opacity="0.6"/>
<path d="M941.3,1338.3 C941.0,1339.2 943.3,1336.3 939.5,1343.8 C935.7,1351.3 925.6,1370.0 918.6,1383.3 C911.6,1396.5 902.7,1413.3 897.4,1423.3 C892.1,1433.3 890.0,1437.3 886.8,1443.3 C883.6,1449.3 881.0,1454.1 878.3,1459.3 C875.5,1464.5 872.3,1469.6 870.3,1474.3 C868.3,1479.0 867.4,1483.1 866.3,1487.3 C865.2,1491.5 864.5,1494.6 863.8,1499.3 C863.1,1504.0 862.5,1509.6 862.1,1515.3 C861.7,1521.0 861.6,1527.8 861.5,1533.3 C861.4,1538.8 861.5,1542.3 861.6,1548.3 C861.7,1554.3 861.8,1562.5 862.3,1569.3 C862.8,1576.1 863.7,1583.8 864.8,1589.3 C865.9,1594.8 867.2,1598.1 868.8,1602.3 C870.4,1606.5 871.1,1607.9 874.2,1614.3 C877.3,1620.7 883.1,1632.1 887.3,1640.9 C891.5,1649.7 895.5,1658.3 899.6,1667.1 C903.7,1675.8 907.8,1684.6 911.9,1693.4 C916.0,1702.2 919.7,1710.9 924.1,1719.7 C928.5,1728.5 935.5,1740.4 938.1,1746.0 C940.7,1751.6 939.5,1752.1 939.8,1753.3" fill="none" stroke="#8a8a8a" stroke-width="9" stroke-linejoin="round" stroke-linecap="round" opacity="0.9" stroke-dasharray="2 1.5"/>
</g></g>
<g clip-path="url(#clipg)">
<path d="M851.6,1589 L858,1588 L862.5,1592 C864,1600 866,1605 869,1612 L939.5,1748 L763,1748 Z" fill="#8c9c6c"/>
<path d="M853,1600 L780,1745 L800,1745 C820,1700 840,1650 855,1610 Z" fill="#a9bd80" opacity="0.6" filter="url(#bl4)"/>
<path d="M854.4,1590.6 C840.2,1616.6 783.3,1720.5 769.1,1746.5" fill="none" stroke="#c6c64a" stroke-width="2.5" stroke-linejoin="round" stroke-linecap="round"/>
<path d="M845.9,1590.6 C831.7,1616.6 774.8,1720.5 760.6,1746.5" fill="none" stroke="#7a7a7a" stroke-width="8" stroke-linejoin="round" stroke-linecap="round"/>
<path d="M848.4,1590.6 C834.2,1616.6 777.3,1720.5 763.1,1746.5" fill="none" stroke="#c0102a" stroke-width="2.2" stroke-linejoin="round" stroke-linecap="round"/>
</g>
<path d="M842.4,1597.5 C841.9,1596.9 842.1,1594.7 839.3,1593.7 C836.5,1592.7 831.6,1592.3 825.5,1591.4 C819.4,1590.5 811.4,1591.6 802.5,1588.3 C793.6,1585.0 781.3,1579.4 771.9,1571.5 C762.5,1563.6 753.5,1551.0 745.9,1540.8 C738.2,1530.6 730.0,1520.4 726.0,1510.2 C722.0,1500.0 721.4,1490.6 722.1,1479.6 C722.9,1468.6 726.0,1453.2 730.5,1444.3 C735.0,1435.4 742.3,1430.4 748.9,1426.0 C755.5,1421.6 766.5,1419.3 770.0,1418.0" fill="none" stroke="#6e6e6e" stroke-width="1.8" stroke-linejoin="round" stroke-linecap="round"/>
<path d="M790.0,1415.0 C793.4,1415.2 803.0,1414.2 810.2,1416.0 C817.4,1417.8 826.3,1421.8 833.2,1426.0 C840.1,1430.2 845.9,1437.0 851.5,1441.3 C857.1,1445.6 864.1,1447.9 866.9,1452.0 C869.7,1456.1 868.5,1461.1 868.4,1465.8 C868.2,1470.5 866.4,1477.6 866.0,1480.0" fill="none" stroke="#6e6e6e" stroke-width="1.8" stroke-linejoin="round" stroke-linecap="round"/>
<path d="M839.3,1591.4 C836.2,1590.4 827.3,1588.5 820.9,1585.2 C814.5,1581.9 805.9,1577.6 801.0,1571.5 C796.1,1565.4 792.6,1556.2 791.8,1548.5 C791.0,1540.8 793.2,1531.6 796.4,1525.5 C799.6,1519.4 808.6,1514.2 811.0,1512.0" fill="none" stroke="#6e6e6e" stroke-width="1.8" stroke-linejoin="round" stroke-linecap="round"/>
<path d="M835.0,1502.0 C837.2,1501.6 845.0,1497.4 848.5,1499.5 C852.0,1501.6 854.6,1509.2 856.1,1514.8 C857.6,1520.4 857.4,1530.1 857.7,1533.2" fill="none" stroke="#6e6e6e" stroke-width="1.8" stroke-linejoin="round" stroke-linecap="round"/>
<path d="M842.0,1595.0 C840.0,1594.2 833.7,1593.3 830.0,1590.0 C826.3,1586.7 822.0,1580.0 820.0,1575.0 C818.0,1570.0 815.6,1564.9 817.8,1560.0 C820.0,1555.1 828.3,1549.9 833.2,1545.4 C838.1,1540.9 843.7,1534.5 847.0,1533.2 C850.3,1531.9 851.6,1535.2 853.1,1537.8 C854.6,1540.3 855.3,1544.8 856.1,1548.5 C856.9,1552.2 857.7,1558.1 858.0,1560.0" fill="none" stroke="#6e6e6e" stroke-width="1.8" stroke-linejoin="round" stroke-linecap="round"/>
<path d="M866.0,1582.0 C868.2,1582.0 875.4,1582.7 879.1,1582.0 C882.8,1581.3 882.4,1579.8 888.0,1578.0 C893.6,1576.2 905.3,1576.4 912.8,1571.5 C920.2,1566.6 926.8,1557.5 932.7,1548.5 C938.6,1539.5 946.2,1526.0 948.0,1517.8 C949.8,1509.6 946.2,1503.3 943.4,1499.5 C940.6,1495.7 936.1,1496.7 931.2,1494.9 C926.4,1493.1 919.1,1487.4 914.3,1488.7 C909.4,1490.0 905.9,1495.1 902.1,1502.5 C898.3,1509.9 894.2,1523.5 891.4,1533.2 C888.6,1542.9 887.2,1555.9 885.2,1560.7 C883.2,1565.5 881.7,1564.3 879.1,1562.3 C876.5,1560.3 871.4,1550.8 869.9,1548.5" fill="none" stroke="#8c8c8c" stroke-width="1.5" stroke-linejoin="round" stroke-linecap="round"/>
<ellipse cx="965" cy="1735" rx="4" ry="9" fill="none" stroke="#d09080" stroke-width="1.4"/>
<g><rect x="769.3" y="1410.6" width="21.3" height="18.7" fill="#737373"/>
<text x="780.0" y="1426.7" font-size="19" text-anchor="middle" fill="#ffffff">5</text>
</g>
<g><rect x="811.0" y="1496.4" width="24.2" height="20.7" fill="#737373"/>
<text x="823.1" y="1514.5" font-size="19" text-anchor="middle" textLength="19.7" lengthAdjust="spacingAndGlyphs" fill="#ffffff">10</text>
</g>
<g><rect x="822.4" y="1554.3" width="27.3" height="21.4" fill="#737373"/>
<text x="836.0" y="1573.1" font-size="19" text-anchor="middle" textLength="22.8" lengthAdjust="spacingAndGlyphs" fill="#ffffff">20</text>
</g>
<g opacity="0.75"><rect x="887.5" y="1569.6" width="22.2" height="17.9" fill="#737373"/>
<text x="898.6" y="1584.9" font-size="19" text-anchor="middle" fill="#ffffff">5</text>
</g>
<path d="M939.5,1343.8 C936.0,1350.4 925.6,1370.0 918.6,1383.3 C911.6,1396.5 902.7,1413.3 897.4,1423.3 C892.1,1433.3 890.0,1437.3 886.8,1443.3 C883.6,1449.3 881.0,1454.1 878.3,1459.3 C875.5,1464.5 872.3,1469.6 870.3,1474.3 C868.3,1479.0 867.4,1483.1 866.3,1487.3 C865.2,1491.5 864.5,1494.6 863.8,1499.3 C863.1,1504.0 862.5,1509.6 862.1,1515.3 C861.7,1521.0 861.6,1527.8 861.5,1533.3 C861.4,1538.8 861.5,1542.3 861.6,1548.3 C861.7,1554.3 861.8,1562.5 862.3,1569.3 C862.8,1576.1 863.7,1583.8 864.8,1589.3 C865.9,1594.8 867.2,1598.1 868.8,1602.3 C870.4,1606.5 871.1,1607.9 874.2,1614.3 C877.3,1620.7 883.1,1632.1 887.3,1640.9 C891.5,1649.7 895.5,1658.3 899.6,1667.1 C903.7,1675.8 907.8,1684.6 911.9,1693.4 C916.0,1702.2 919.7,1710.9 924.1,1719.7 C928.5,1728.5 935.8,1741.6 938.1,1746.0" fill="none" stroke="#000" stroke-width="5.0" stroke-linejoin="round" stroke-linecap="round"/>
<path d="M850.4,1590.6 C836.2,1616.6 779.3,1720.5 765.1,1746.5" fill="none" stroke="#000" stroke-width="5.0" stroke-linejoin="round" stroke-linecap="round"/>
<rect x="571.8" y="1343.8" width="605.2" height="403.10000000000014" fill="none" stroke="#000" stroke-width="1.6"/>
<text x="1003.4" y="1544.7" font-size="25" textLength="48.6" lengthAdjust="spacingAndGlyphs">PAC</text>
<text x="828.3" y="1717.3" font-size="25" textLength="46.0" lengthAdjust="spacingAndGlyphs">PSP</text>
<line x1="564.8" y1="1343.8" x2="571.8" y2="1343.8" stroke="#000" stroke-width="1.4"/>
<text x="486.9" y="1351.9" font-size="22.6" textLength="65.2" lengthAdjust="spacingAndGlyphs">4,000</text>
<line x1="564.8" y1="1444.6" x2="571.8" y2="1444.6" stroke="#000" stroke-width="1.4"/>
<text x="486.9" y="1452.7" font-size="22.6" textLength="65.2" lengthAdjust="spacingAndGlyphs">3,000</text>
<line x1="564.8" y1="1545.3" x2="571.8" y2="1545.3" stroke="#000" stroke-width="1.4"/>
<text x="486.9" y="1553.4" font-size="22.6" textLength="65.2" lengthAdjust="spacingAndGlyphs">2,000</text>
<line x1="564.8" y1="1646.1" x2="571.8" y2="1646.1" stroke="#000" stroke-width="1.4"/>
<text x="491.1" y="1654.2" font-size="22.6" textLength="61.0" lengthAdjust="spacingAndGlyphs">1,000</text>
<line x1="564.8" y1="1746.9" x2="571.8" y2="1746.9" stroke="#000" stroke-width="1.4"/>
<text x="536.5" y="1755.0" font-size="22.6" textLength="15.6" lengthAdjust="spacingAndGlyphs">0</text>
<line x1="571.8" y1="1746.9" x2="571.8" y2="1753.9" stroke="#000" stroke-width="1.4"/>
<text x="539.9" y="1785.0" font-size="22.6" textLength="61.0" lengthAdjust="spacingAndGlyphs">1,000</text>
<line x1="672.7" y1="1746.9" x2="672.7" y2="1753.9" stroke="#000" stroke-width="1.4"/>
<text x="640.2" y="1785.0" font-size="22.6" textLength="65.2" lengthAdjust="spacingAndGlyphs">2,000</text>
<line x1="773.5" y1="1746.9" x2="773.5" y2="1753.9" stroke="#000" stroke-width="1.4"/>
<text x="741.0" y="1785.0" font-size="22.6" textLength="65.2" lengthAdjust="spacingAndGlyphs">3,000</text>
<line x1="874.4" y1="1746.9" x2="874.4" y2="1753.9" stroke="#000" stroke-width="1.4"/>
<text x="841.9" y="1785.0" font-size="22.6" textLength="65.2" lengthAdjust="spacingAndGlyphs">4,000</text>
<line x1="975.3" y1="1746.9" x2="975.3" y2="1753.9" stroke="#000" stroke-width="1.4"/>
<text x="942.8" y="1785.0" font-size="22.6" textLength="65.2" lengthAdjust="spacingAndGlyphs">5,000</text>
<line x1="1076.1" y1="1746.9" x2="1076.1" y2="1753.9" stroke="#000" stroke-width="1.4"/>
<text x="1043.6" y="1785.0" font-size="22.6" textLength="65.2" lengthAdjust="spacingAndGlyphs">6,000</text>
<line x1="1177.0" y1="1746.9" x2="1177.0" y2="1753.9" stroke="#000" stroke-width="1.4"/>
<text x="1144.5" y="1785.0" font-size="22.6" textLength="65.2" lengthAdjust="spacingAndGlyphs">7,000</text>
<text x="835.0" y="1822.0" font-size="27.5" textLength="76.0" lengthAdjust="spacingAndGlyphs"><tspan font-style="italic">x</tspan> (km)</text>
<text transform="translate(464.5,1545.5) rotate(-90)" font-size="27.5" text-anchor="middle" textLength="74" lengthAdjust="spacingAndGlyphs"><tspan font-style="italic">y</tspan> (km)</text>
<text x="767.6" y="1332.0" font-size="27.5" textLength="212.0" lengthAdjust="spacingAndGlyphs">Stress difference</text>
<text x="439.7" y="1327.5" font-size="41" textLength="22.8" lengthAdjust="spacingAndGlyphs" font-weight="bold">g</text>
<rect x="1202.9" y="1450.6" width="20.5" height="219.3" fill="url(#cw)" stroke="#000" stroke-width="1.3"/>
<line x1="1223.4" y1="1450.6" x2="1229.5" y2="1450.6" stroke="#000" stroke-width="1.3"/>
<text x="1237.2" y="1458.7" font-size="22.6" textLength="29.4" lengthAdjust="spacingAndGlyphs">20</text>
<line x1="1223.4" y1="1505.4" x2="1229.5" y2="1505.4" stroke="#000" stroke-width="1.3"/>
<text x="1237.2" y="1513.5" font-size="22.6" textLength="26.4" lengthAdjust="spacingAndGlyphs">10</text>
<line x1="1223.4" y1="1560.3" x2="1229.5" y2="1560.3" stroke="#000" stroke-width="1.3"/>
<text x="1237.2" y="1568.4" font-size="22.6" textLength="15.9" lengthAdjust="spacingAndGlyphs">0</text>
<line x1="1223.4" y1="1615.1" x2="1229.5" y2="1615.1" stroke="#000" stroke-width="1.3"/>
<text x="1237.2" y="1623.2" font-size="22.6" textLength="36.4" lengthAdjust="spacingAndGlyphs">−10</text>
<line x1="1223.4" y1="1669.9" x2="1229.5" y2="1669.9" stroke="#000" stroke-width="1.3"/>
<text x="1237.2" y="1678.0" font-size="22.6" textLength="39.4" lengthAdjust="spacingAndGlyphs">−20</text>
<text x="1199.4" y="1417.7" font-size="27.5" textLength="32.0" lengthAdjust="spacingAndGlyphs">Δ<tspan font-style="italic">σ</tspan></text>
<text x="1231.0" y="1425.5" font-size="20" textLength="17.5" lengthAdjust="spacingAndGlyphs" font-style="italic">xx</text>
<text x="1256.0" y="1417.7" font-size="27.5" textLength="70.0" lengthAdjust="spacingAndGlyphs">(MPa)</text>
</svg>
</body></html>
